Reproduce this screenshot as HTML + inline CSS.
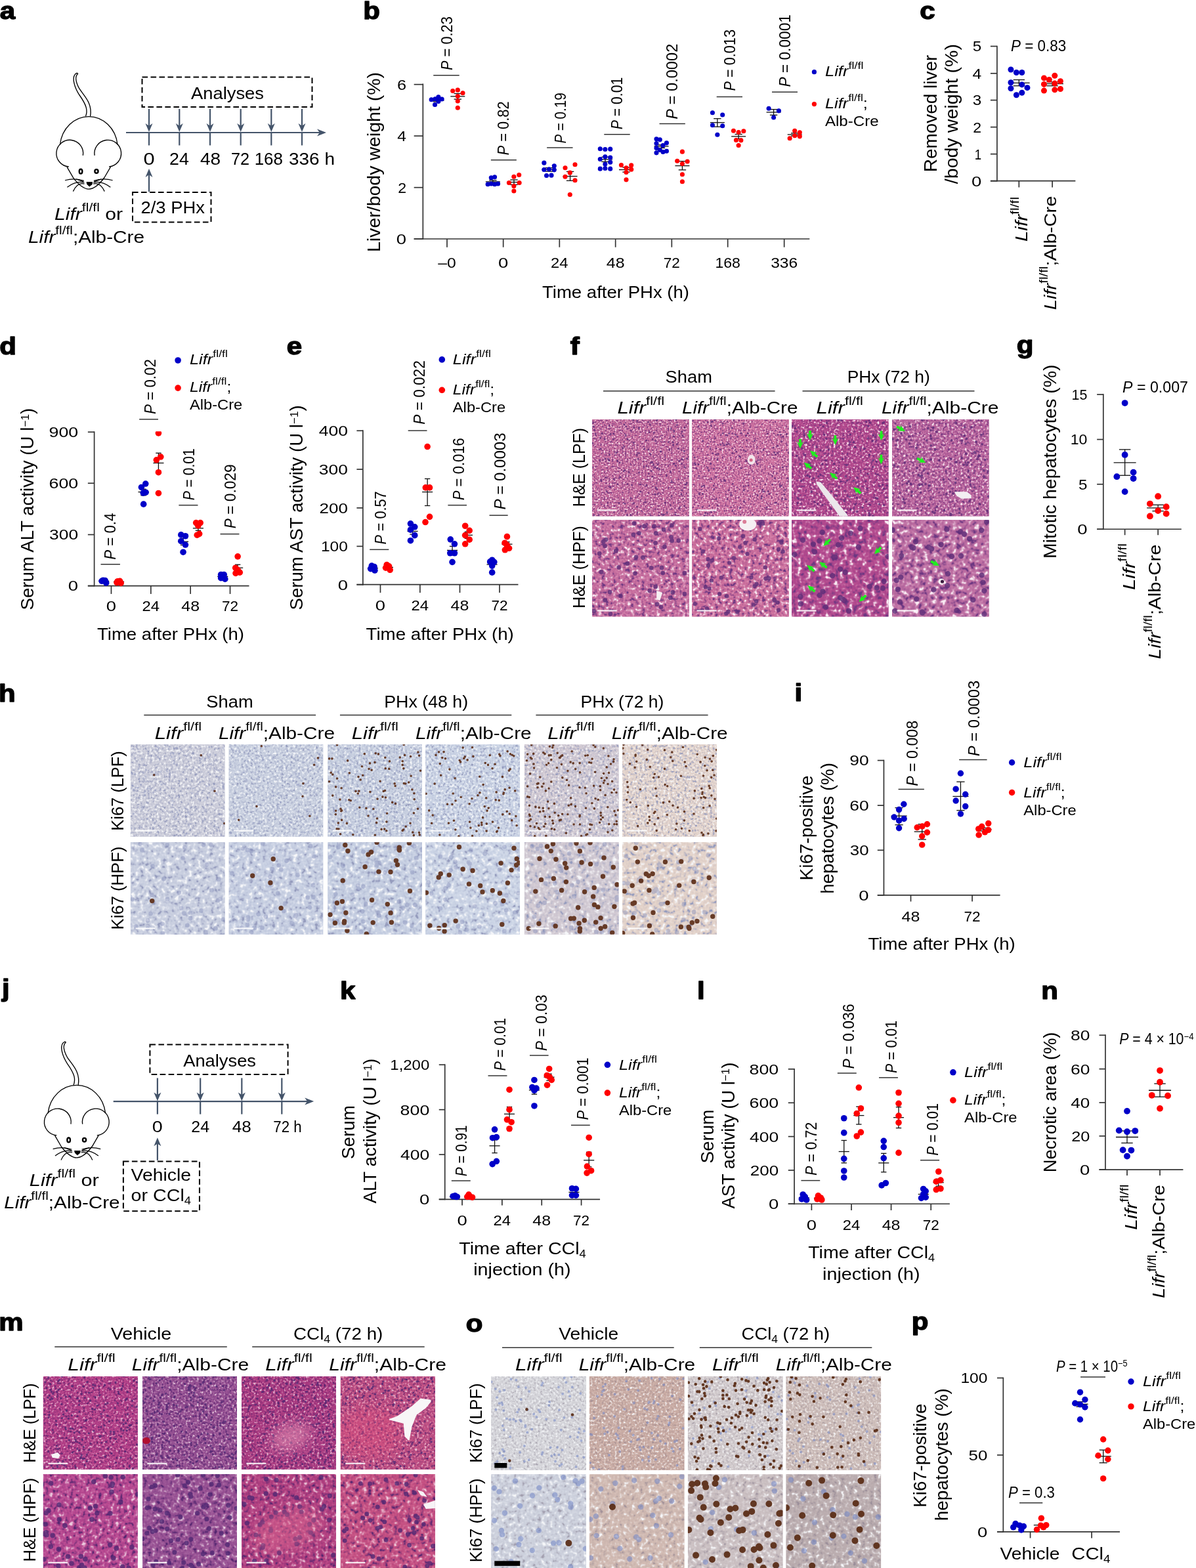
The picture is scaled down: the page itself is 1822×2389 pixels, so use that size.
<!DOCTYPE html>
<html><head><meta charset="utf-8"><title>Figure</title>
<style>
html,body{margin:0;padding:0;background:#fff;}
body{width:1822px;height:2389px;overflow:hidden;}
svg{display:block;font-family:'Liberation Sans', Arial, Helvetica, sans-serif;}
</style></head><body>
<svg width="1822" height="2389" viewBox="0 0 1822 2389">
<rect width="1822" height="2389" fill="#fff"/>
<defs><filter id="blur" x="-50%" y="-50%" width="200%" height="200%"><feGaussianBlur stdDeviation="9"/></filter><filter id="t1" x="0" y="0" width="1" height="1" color-interpolation-filters="sRGB"><feTurbulence type="fractalNoise" baseFrequency="0.4" numOctaves="2" seed="11"/><feColorMatrix type="matrix" values="1.9 0 0 0 -0.450 1.9 0 0 0 -0.450 1.9 0 0 0 -0.450 0 0 0 0 1"/><feComponentTransfer><feFuncR type="table" tableValues="0.431 0.587 0.725 0.776 0.801 0.878 0.980"/><feFuncG type="table" tableValues="0.216 0.306 0.386 0.416 0.477 0.671 0.925"/><feFuncB type="table" tableValues="0.510 0.552 0.590 0.604 0.646 0.780 0.957"/></feComponentTransfer></filter><clipPath id="c1"><rect x="902.20" y="639.00" width="147.60" height="147.60"/></clipPath><filter id="t2" x="0" y="0" width="1" height="1" color-interpolation-filters="sRGB"><feTurbulence type="fractalNoise" baseFrequency="0.4" numOctaves="2" seed="12"/><feColorMatrix type="matrix" values="1.9 0 0 0 -0.450 1.9 0 0 0 -0.450 1.9 0 0 0 -0.450 0 0 0 0 1"/><feComponentTransfer><feFuncR type="table" tableValues="0.431 0.601 0.751 0.808 0.829 0.894 0.980"/><feFuncG type="table" tableValues="0.216 0.316 0.406 0.439 0.498 0.682 0.925"/><feFuncB type="table" tableValues="0.510 0.559 0.603 0.620 0.660 0.788 0.957"/></feComponentTransfer></filter><clipPath id="c2"><rect x="1054.20" y="639.00" width="147.60" height="147.60"/></clipPath><filter id="t3" x="0" y="0" width="1" height="1" color-interpolation-filters="sRGB"><feTurbulence type="fractalNoise" baseFrequency="0.3" numOctaves="2" seed="13"/><feColorMatrix type="matrix" values="1.9 0 0 0 -0.450 1.9 0 0 0 -0.450 1.9 0 0 0 -0.450 0 0 0 0 1"/><feComponentTransfer><feFuncR type="table" tableValues="0.431 0.555 0.665 0.706 0.739 0.843 0.980"/><feFuncG type="table" tableValues="0.216 0.246 0.272 0.282 0.360 0.604 0.925"/><feFuncB type="table" tableValues="0.510 0.527 0.543 0.549 0.598 0.753 0.957"/></feComponentTransfer></filter><clipPath id="c3"><rect x="1206.00" y="639.00" width="147.60" height="147.60"/></clipPath><filter id="t4" x="0" y="0" width="1" height="1" color-interpolation-filters="sRGB"><feTurbulence type="fractalNoise" baseFrequency="0.3" numOctaves="2" seed="14"/><feColorMatrix type="matrix" values="1.9 0 0 0 -0.450 1.9 0 0 0 -0.450 1.9 0 0 0 -0.450 0 0 0 0 1"/><feComponentTransfer><feFuncR type="table" tableValues="0.431 0.565 0.685 0.729 0.760 0.855 0.980"/><feFuncG type="table" tableValues="0.216 0.295 0.366 0.392 0.456 0.659 0.925"/><feFuncB type="table" tableValues="0.510 0.556 0.596 0.612 0.653 0.784 0.957"/></feComponentTransfer></filter><clipPath id="c4"><rect x="1359.00" y="639.00" width="147.60" height="147.60"/></clipPath><filter id="t5" x="0" y="0" width="1" height="1" color-interpolation-filters="sRGB"><feTurbulence type="fractalNoise" baseFrequency="0.18" numOctaves="2" seed="15"/><feColorMatrix type="matrix" values="1.9 0 0 0 -0.450 1.9 0 0 0 -0.450 1.9 0 0 0 -0.450 0 0 0 0 1"/><feComponentTransfer><feFuncR type="table" tableValues="0.431 0.590 0.731 0.784 0.808 0.882 0.980"/><feFuncG type="table" tableValues="0.216 0.313 0.399 0.431 0.491 0.678 0.925"/><feFuncB type="table" tableValues="0.510 0.559 0.603 0.620 0.660 0.788 0.957"/></feComponentTransfer></filter><clipPath id="c5"><rect x="902.20" y="792.00" width="147.60" height="147.60"/></clipPath><filter id="t6" x="0" y="0" width="1" height="1" color-interpolation-filters="sRGB"><feTurbulence type="fractalNoise" baseFrequency="0.18" numOctaves="2" seed="16"/><feColorMatrix type="matrix" values="1.9 0 0 0 -0.450 1.9 0 0 0 -0.450 1.9 0 0 0 -0.450 0 0 0 0 1"/><feComponentTransfer><feFuncR type="table" tableValues="0.431 0.597 0.745 0.800 0.822 0.890 0.980"/><feFuncG type="table" tableValues="0.216 0.313 0.399 0.431 0.491 0.678 0.925"/><feFuncB type="table" tableValues="0.510 0.556 0.596 0.612 0.653 0.784 0.957"/></feComponentTransfer></filter><clipPath id="c6"><rect x="1054.20" y="792.00" width="147.60" height="147.60"/></clipPath><filter id="t7" x="0" y="0" width="1" height="1" color-interpolation-filters="sRGB"><feTurbulence type="fractalNoise" baseFrequency="0.14" numOctaves="2" seed="17"/><feColorMatrix type="matrix" values="1.9 0 0 0 -0.450 1.9 0 0 0 -0.450 1.9 0 0 0 -0.450 0 0 0 0 1"/><feComponentTransfer><feFuncR type="table" tableValues="0.431 0.555 0.665 0.706 0.739 0.843 0.980"/><feFuncG type="table" tableValues="0.216 0.249 0.279 0.290 0.366 0.608 0.925"/><feFuncB type="table" tableValues="0.510 0.531 0.550 0.557 0.605 0.757 0.957"/></feComponentTransfer></filter><clipPath id="c7"><rect x="1206.00" y="792.00" width="147.60" height="147.60"/></clipPath><filter id="t8" x="0" y="0" width="1" height="1" color-interpolation-filters="sRGB"><feTurbulence type="fractalNoise" baseFrequency="0.14" numOctaves="2" seed="18"/><feColorMatrix type="matrix" values="1.9 0 0 0 -0.450 1.9 0 0 0 -0.450 1.9 0 0 0 -0.450 0 0 0 0 1"/><feComponentTransfer><feFuncR type="table" tableValues="0.431 0.573 0.698 0.745 0.773 0.863 0.980"/><feFuncG type="table" tableValues="0.216 0.313 0.399 0.431 0.491 0.678 0.925"/><feFuncB type="table" tableValues="0.510 0.566 0.616 0.635 0.674 0.796 0.957"/></feComponentTransfer></filter><clipPath id="c8"><rect x="1359.00" y="792.00" width="147.60" height="147.60"/></clipPath><filter id="t9" x="0" y="0" width="1" height="1" color-interpolation-filters="sRGB"><feTurbulence type="fractalNoise" baseFrequency="0.28" numOctaves="2" seed="41"/><feColorMatrix type="matrix" values="1.9 0 0 0 -0.450 1.9 0 0 0 -0.450 1.9 0 0 0 -0.450 0 0 0 0 1"/><feComponentTransfer><feFuncR type="table" tableValues="0.588 0.715 0.779 0.800 0.825 0.891 0.965"/><feFuncG type="table" tableValues="0.612 0.727 0.785 0.804 0.829 0.895 0.969"/><feFuncB type="table" tableValues="0.745 0.811 0.844 0.855 0.874 0.924 0.980"/></feComponentTransfer></filter><clipPath id="c9"><rect x="198.90" y="1134.30" width="143.70" height="140.50"/></clipPath><filter id="t10" x="0" y="0" width="1" height="1" color-interpolation-filters="sRGB"><feTurbulence type="fractalNoise" baseFrequency="0.28" numOctaves="2" seed="42"/><feColorMatrix type="matrix" values="1.9 0 0 0 -0.450 1.9 0 0 0 -0.450 1.9 0 0 0 -0.450 0 0 0 0 1"/><feComponentTransfer><feFuncR type="table" tableValues="0.588 0.708 0.768 0.788 0.815 0.885 0.965"/><feFuncG type="table" tableValues="0.612 0.734 0.795 0.816 0.839 0.900 0.969"/><feFuncB type="table" tableValues="0.745 0.825 0.865 0.878 0.894 0.935 0.980"/></feComponentTransfer></filter><clipPath id="c10"><rect x="348.60" y="1134.30" width="143.70" height="140.50"/></clipPath><filter id="t11" x="0" y="0" width="1" height="1" color-interpolation-filters="sRGB"><feTurbulence type="fractalNoise" baseFrequency="0.28" numOctaves="2" seed="43"/><feColorMatrix type="matrix" values="1.9 0 0 0 -0.450 1.9 0 0 0 -0.450 1.9 0 0 0 -0.450 0 0 0 0 1"/><feComponentTransfer><feFuncR type="table" tableValues="0.588 0.704 0.761 0.780 0.808 0.882 0.965"/><feFuncG type="table" tableValues="0.612 0.732 0.792 0.812 0.835 0.898 0.969"/><feFuncB type="table" tableValues="0.745 0.825 0.865 0.878 0.894 0.935 0.980"/></feComponentTransfer></filter><clipPath id="c11"><rect x="499.30" y="1134.30" width="143.70" height="140.50"/></clipPath><filter id="t12" x="0" y="0" width="1" height="1" color-interpolation-filters="sRGB"><feTurbulence type="fractalNoise" baseFrequency="0.28" numOctaves="2" seed="44"/><feColorMatrix type="matrix" values="1.9 0 0 0 -0.450 1.9 0 0 0 -0.450 1.9 0 0 0 -0.450 0 0 0 0 1"/><feComponentTransfer><feFuncR type="table" tableValues="0.588 0.713 0.775 0.796 0.821 0.889 0.965"/><feFuncG type="table" tableValues="0.612 0.744 0.809 0.831 0.852 0.907 0.969"/><feFuncB type="table" tableValues="0.745 0.837 0.883 0.898 0.910 0.943 0.980"/></feComponentTransfer></filter><clipPath id="c12"><rect x="648.20" y="1134.30" width="143.70" height="140.50"/></clipPath><filter id="t13" x="0" y="0" width="1" height="1" color-interpolation-filters="sRGB"><feTurbulence type="fractalNoise" baseFrequency="0.28" numOctaves="2" seed="45"/><feColorMatrix type="matrix" values="1.9 0 0 0 -0.450 1.9 0 0 0 -0.450 1.9 0 0 0 -0.450 0 0 0 0 1"/><feComponentTransfer><feFuncR type="table" tableValues="0.588 0.727 0.796 0.820 0.841 0.899 0.965"/><feFuncG type="table" tableValues="0.612 0.718 0.771 0.788 0.815 0.887 0.969"/><feFuncB type="table" tableValues="0.745 0.792 0.816 0.824 0.847 0.910 0.980"/></feComponentTransfer></filter><clipPath id="c13"><rect x="798.90" y="1134.30" width="143.70" height="140.50"/></clipPath><filter id="t14" x="0" y="0" width="1" height="1" color-interpolation-filters="sRGB"><feTurbulence type="fractalNoise" baseFrequency="0.28" numOctaves="2" seed="46"/><feColorMatrix type="matrix" values="1.9 0 0 0 -0.450 1.9 0 0 0 -0.450 1.9 0 0 0 -0.450 0 0 0 0 1"/><feComponentTransfer><feFuncR type="table" tableValues="0.588 0.769 0.860 0.890 0.901 0.931 0.965"/><feFuncG type="table" tableValues="0.612 0.741 0.806 0.827 0.849 0.905 0.969"/><feFuncB type="table" tableValues="0.745 0.776 0.791 0.796 0.824 0.897 0.980"/></feComponentTransfer></filter><clipPath id="c14"><rect x="948.20" y="1134.30" width="143.70" height="140.50"/></clipPath><filter id="t15" x="0" y="0" width="1" height="1" color-interpolation-filters="sRGB"><feTurbulence type="fractalNoise" baseFrequency="0.15" numOctaves="2" seed="47"/><feColorMatrix type="matrix" values="1.9 0 0 0 -0.450 1.9 0 0 0 -0.450 1.9 0 0 0 -0.450 0 0 0 0 1"/><feComponentTransfer><feFuncR type="table" tableValues="0.588 0.708 0.768 0.788 0.815 0.885 0.965"/><feFuncG type="table" tableValues="0.612 0.732 0.792 0.812 0.835 0.898 0.969"/><feFuncB type="table" tableValues="0.745 0.825 0.865 0.878 0.894 0.935 0.980"/></feComponentTransfer></filter><clipPath id="c15"><rect x="198.90" y="1283.20" width="143.70" height="140.50"/></clipPath><filter id="t16" x="0" y="0" width="1" height="1" color-interpolation-filters="sRGB"><feTurbulence type="fractalNoise" baseFrequency="0.15" numOctaves="2" seed="48"/><feColorMatrix type="matrix" values="1.9 0 0 0 -0.450 1.9 0 0 0 -0.450 1.9 0 0 0 -0.450 0 0 0 0 1"/><feComponentTransfer><feFuncR type="table" tableValues="0.588 0.704 0.761 0.780 0.808 0.882 0.965"/><feFuncG type="table" tableValues="0.612 0.732 0.792 0.812 0.835 0.898 0.969"/><feFuncB type="table" tableValues="0.745 0.830 0.872 0.886 0.900 0.938 0.980"/></feComponentTransfer></filter><clipPath id="c16"><rect x="348.60" y="1283.20" width="143.70" height="140.50"/></clipPath><filter id="t17" x="0" y="0" width="1" height="1" color-interpolation-filters="sRGB"><feTurbulence type="fractalNoise" baseFrequency="0.15" numOctaves="2" seed="49"/><feColorMatrix type="matrix" values="1.9 0 0 0 -0.450 1.9 0 0 0 -0.450 1.9 0 0 0 -0.450 0 0 0 0 1"/><feComponentTransfer><feFuncR type="table" tableValues="0.588 0.701 0.758 0.776 0.805 0.880 0.965"/><feFuncG type="table" tableValues="0.612 0.732 0.792 0.812 0.835 0.898 0.969"/><feFuncB type="table" tableValues="0.745 0.830 0.872 0.886 0.900 0.938 0.980"/></feComponentTransfer></filter><clipPath id="c17"><rect x="499.30" y="1283.20" width="143.70" height="140.50"/></clipPath><filter id="t18" x="0" y="0" width="1" height="1" color-interpolation-filters="sRGB"><feTurbulence type="fractalNoise" baseFrequency="0.15" numOctaves="2" seed="50"/><feColorMatrix type="matrix" values="1.9 0 0 0 -0.450 1.9 0 0 0 -0.450 1.9 0 0 0 -0.450 0 0 0 0 1"/><feComponentTransfer><feFuncR type="table" tableValues="0.588 0.715 0.779 0.800 0.825 0.891 0.965"/><feFuncG type="table" tableValues="0.612 0.746 0.813 0.835 0.855 0.909 0.969"/><feFuncB type="table" tableValues="0.745 0.839 0.886 0.902 0.914 0.945 0.980"/></feComponentTransfer></filter><clipPath id="c18"><rect x="648.20" y="1283.20" width="143.70" height="140.50"/></clipPath><filter id="t19" x="0" y="0" width="1" height="1" color-interpolation-filters="sRGB"><feTurbulence type="fractalNoise" baseFrequency="0.15" numOctaves="2" seed="51"/><feColorMatrix type="matrix" values="1.9 0 0 0 -0.450 1.9 0 0 0 -0.450 1.9 0 0 0 -0.450 0 0 0 0 1"/><feComponentTransfer><feFuncR type="table" tableValues="0.588 0.727 0.796 0.820 0.841 0.899 0.965"/><feFuncG type="table" tableValues="0.612 0.718 0.771 0.788 0.815 0.887 0.969"/><feFuncB type="table" tableValues="0.745 0.792 0.816 0.824 0.847 0.910 0.980"/></feComponentTransfer></filter><clipPath id="c19"><rect x="798.90" y="1283.20" width="143.70" height="140.50"/></clipPath><filter id="t20" x="0" y="0" width="1" height="1" color-interpolation-filters="sRGB"><feTurbulence type="fractalNoise" baseFrequency="0.15" numOctaves="2" seed="52"/><feColorMatrix type="matrix" values="1.9 0 0 0 -0.450 1.9 0 0 0 -0.450 1.9 0 0 0 -0.450 0 0 0 0 1"/><feComponentTransfer><feFuncR type="table" tableValues="0.588 0.769 0.860 0.890 0.901 0.931 0.965"/><feFuncG type="table" tableValues="0.612 0.739 0.802 0.824 0.845 0.903 0.969"/><feFuncB type="table" tableValues="0.745 0.771 0.784 0.788 0.817 0.894 0.980"/></feComponentTransfer></filter><clipPath id="c20"><rect x="948.20" y="1283.20" width="143.70" height="140.50"/></clipPath><filter id="t21" x="0" y="0" width="1" height="1" color-interpolation-filters="sRGB"><feTurbulence type="fractalNoise" baseFrequency="0.3" numOctaves="2" seed="71"/><feColorMatrix type="matrix" values="1.7 0 0 0 -0.350 1.7 0 0 0 -0.350 1.7 0 0 0 -0.350 0 0 0 0 1"/><feComponentTransfer><feFuncR type="table" tableValues="0.329 0.499 0.649 0.706 0.732 0.816 0.925"/><feFuncG type="table" tableValues="0.149 0.191 0.229 0.243 0.309 0.516 0.789"/><feFuncB type="table" tableValues="0.439 0.478 0.513 0.525 0.567 0.698 0.871"/></feComponentTransfer></filter><clipPath id="c21"><rect x="65.80" y="2097.10" width="144.10" height="141.80"/></clipPath><filter id="t22" x="0" y="0" width="1" height="1" color-interpolation-filters="sRGB"><feTurbulence type="fractalNoise" baseFrequency="0.3" numOctaves="2" seed="72"/><feColorMatrix type="matrix" values="1.7 0 0 0 -0.350 1.7 0 0 0 -0.350 1.7 0 0 0 -0.350 0 0 0 0 1"/><feComponentTransfer><feFuncR type="table" tableValues="0.329 0.446 0.549 0.588 0.626 0.745 0.902"/><feFuncG type="table" tableValues="0.149 0.223 0.289 0.314 0.372 0.558 0.803"/><feFuncB type="table" tableValues="0.439 0.499 0.553 0.573 0.609 0.726 0.880"/></feComponentTransfer></filter><clipPath id="c22"><rect x="217.00" y="2097.10" width="144.10" height="141.80"/></clipPath><filter id="t23" x="0" y="0" width="1" height="1" color-interpolation-filters="sRGB"><feTurbulence type="fractalNoise" baseFrequency="0.3" numOctaves="2" seed="73"/><feColorMatrix type="matrix" values="1.7 0 0 0 -0.350 1.7 0 0 0 -0.350 1.7 0 0 0 -0.350 0 0 0 0 1"/><feComponentTransfer><feFuncR type="table" tableValues="0.329 0.483 0.619 0.671 0.700 0.795 0.918"/><feFuncG type="table" tableValues="0.149 0.184 0.216 0.227 0.294 0.507 0.786"/><feFuncB type="table" tableValues="0.439 0.467 0.493 0.502 0.546 0.684 0.866"/></feComponentTransfer></filter><clipPath id="c23"><rect x="367.90" y="2097.10" width="144.10" height="141.80"/></clipPath><filter id="t24" x="0" y="0" width="1" height="1" color-interpolation-filters="sRGB"><feTurbulence type="fractalNoise" baseFrequency="0.28" numOctaves="2" seed="74"/><feColorMatrix type="matrix" values="1.7 0 0 0 -0.350 1.7 0 0 0 -0.350 1.7 0 0 0 -0.350 0 0 0 0 1"/><feComponentTransfer><feFuncR type="table" tableValues="0.329 0.520 0.689 0.753 0.775 0.844 0.935"/><feFuncG type="table" tableValues="0.149 0.220 0.282 0.306 0.365 0.554 0.802"/><feFuncB type="table" tableValues="0.439 0.471 0.499 0.510 0.553 0.689 0.867"/></feComponentTransfer></filter><clipPath id="c24"><rect x="518.80" y="2097.10" width="144.10" height="141.80"/></clipPath><filter id="t25" x="0" y="0" width="1" height="1" color-interpolation-filters="sRGB"><feTurbulence type="fractalNoise" baseFrequency="0.16" numOctaves="2" seed="75"/><feColorMatrix type="matrix" values="1.7 0 0 0 -0.350 1.7 0 0 0 -0.350 1.7 0 0 0 -0.350 0 0 0 0 1"/><feComponentTransfer><feFuncR type="table" tableValues="0.329 0.506 0.663 0.722 0.746 0.825 0.929"/><feFuncG type="table" tableValues="0.149 0.209 0.262 0.282 0.344 0.540 0.797"/><feFuncB type="table" tableValues="0.439 0.496 0.546 0.565 0.602 0.722 0.878"/></feComponentTransfer></filter><clipPath id="c25"><rect x="65.80" y="2246.00" width="144.10" height="144.00"/></clipPath><filter id="t26" x="0" y="0" width="1" height="1" color-interpolation-filters="sRGB"><feTurbulence type="fractalNoise" baseFrequency="0.16" numOctaves="2" seed="76"/><feColorMatrix type="matrix" values="1.7 0 0 0 -0.350 1.7 0 0 0 -0.350 1.7 0 0 0 -0.350 0 0 0 0 1"/><feComponentTransfer><feFuncR type="table" tableValues="0.329 0.451 0.559 0.600 0.637 0.752 0.904"/><feFuncG type="table" tableValues="0.149 0.227 0.296 0.322 0.380 0.563 0.805"/><feFuncB type="table" tableValues="0.439 0.503 0.559 0.580 0.617 0.731 0.882"/></feComponentTransfer></filter><clipPath id="c26"><rect x="217.00" y="2246.00" width="144.10" height="144.00"/></clipPath><filter id="t27" x="0" y="0" width="1" height="1" color-interpolation-filters="sRGB"><feTurbulence type="fractalNoise" baseFrequency="0.16" numOctaves="2" seed="77"/><feColorMatrix type="matrix" values="1.7 0 0 0 -0.350 1.7 0 0 0 -0.350 1.7 0 0 0 -0.350 0 0 0 0 1"/><feComponentTransfer><feFuncR type="table" tableValues="0.329 0.497 0.646 0.702 0.729 0.813 0.925"/><feFuncG type="table" tableValues="0.149 0.195 0.236 0.251 0.316 0.521 0.791"/><feFuncB type="table" tableValues="0.439 0.467 0.493 0.502 0.546 0.684 0.866"/></feComponentTransfer></filter><clipPath id="c27"><rect x="367.90" y="2246.00" width="144.10" height="144.00"/></clipPath><filter id="t28" x="0" y="0" width="1" height="1" color-interpolation-filters="sRGB"><feTurbulence type="fractalNoise" baseFrequency="0.15" numOctaves="2" seed="78"/><feColorMatrix type="matrix" values="1.7 0 0 0 -0.350 1.7 0 0 0 -0.350 1.7 0 0 0 -0.350 0 0 0 0 1"/><feComponentTransfer><feFuncR type="table" tableValues="0.329 0.531 0.709 0.776 0.796 0.858 0.940"/><feFuncG type="table" tableValues="0.149 0.223 0.289 0.314 0.372 0.558 0.803"/><feFuncB type="table" tableValues="0.439 0.471 0.499 0.510 0.553 0.689 0.867"/></feComponentTransfer></filter><clipPath id="c28"><rect x="518.80" y="2246.00" width="144.10" height="144.00"/></clipPath><filter id="t29" x="0" y="0" width="1" height="1" color-interpolation-filters="sRGB"><feTurbulence type="fractalNoise" baseFrequency="0.3" numOctaves="2" seed="101"/><feColorMatrix type="matrix" values="1.7 0 0 0 -0.350 1.7 0 0 0 -0.350 1.7 0 0 0 -0.350 0 0 0 0 1"/><feComponentTransfer><feFuncR type="table" tableValues="0.653 0.762 0.817 0.835 0.855 0.906 0.965"/><feFuncG type="table" tableValues="0.633 0.755 0.815 0.835 0.855 0.909 0.969"/><feFuncB type="table" tableValues="0.682 0.786 0.838 0.855 0.874 0.924 0.980"/></feComponentTransfer></filter><clipPath id="c29"><rect x="748.30" y="2097.10" width="144.60" height="142.90"/></clipPath><filter id="t30" x="0" y="0" width="1" height="1" color-interpolation-filters="sRGB"><feTurbulence type="fractalNoise" baseFrequency="0.3" numOctaves="2" seed="102"/><feColorMatrix type="matrix" values="1.7 0 0 0 -0.350 1.7 0 0 0 -0.350 1.7 0 0 0 -0.350 0 0 0 0 1"/><feComponentTransfer><feFuncR type="table" tableValues="0.631 0.728 0.776 0.792 0.818 0.887 0.965"/><feFuncG type="table" tableValues="0.553 0.626 0.662 0.675 0.719 0.836 0.969"/><feFuncB type="table" tableValues="0.576 0.616 0.636 0.643 0.694 0.829 0.980"/></feComponentTransfer></filter><clipPath id="c30"><rect x="897.90" y="2097.10" width="144.60" height="142.90"/></clipPath><filter id="t31" x="0" y="0" width="1" height="1" color-interpolation-filters="sRGB"><feTurbulence type="fractalNoise" baseFrequency="0.3" numOctaves="2" seed="103"/><feColorMatrix type="matrix" values="1.7 0 0 0 -0.350 1.7 0 0 0 -0.350 1.7 0 0 0 -0.350 0 0 0 0 1"/><feComponentTransfer><feFuncR type="table" tableValues="0.647 0.753 0.806 0.824 0.845 0.901 0.965"/><feFuncG type="table" tableValues="0.614 0.723 0.778 0.796 0.822 0.891 0.969"/><feFuncB type="table" tableValues="0.657 0.745 0.789 0.804 0.830 0.901 0.980"/></feComponentTransfer></filter><clipPath id="c31"><rect x="1047.90" y="2097.10" width="144.60" height="142.90"/></clipPath><filter id="t32" x="0" y="0" width="1" height="1" color-interpolation-filters="sRGB"><feTurbulence type="fractalNoise" baseFrequency="0.3" numOctaves="2" seed="104"/><feColorMatrix type="matrix" values="1.7 0 0 0 -0.350 1.7 0 0 0 -0.350 1.7 0 0 0 -0.350 0 0 0 0 1"/><feComponentTransfer><feFuncR type="table" tableValues="0.639 0.740 0.791 0.808 0.831 0.894 0.965"/><feFuncG type="table" tableValues="0.588 0.682 0.729 0.745 0.779 0.868 0.969"/><feFuncB type="table" tableValues="0.620 0.685 0.718 0.729 0.767 0.867 0.980"/></feComponentTransfer></filter><clipPath id="c32"><rect x="1197.50" y="2097.10" width="144.60" height="142.90"/></clipPath><filter id="t33" x="0" y="0" width="1" height="1" color-interpolation-filters="sRGB"><feTurbulence type="fractalNoise" baseFrequency="0.16" numOctaves="2" seed="105"/><feColorMatrix type="matrix" values="1.7 0 0 0 -0.350 1.7 0 0 0 -0.350 1.7 0 0 0 -0.350 0 0 0 0 1"/><feComponentTransfer><feFuncR type="table" tableValues="0.637 0.737 0.787 0.804 0.828 0.892 0.965"/><feFuncG type="table" tableValues="0.625 0.742 0.800 0.820 0.842 0.902 0.969"/><feFuncB type="table" tableValues="0.688 0.795 0.849 0.867 0.884 0.929 0.980"/></feComponentTransfer></filter><clipPath id="c33"><rect x="748.30" y="2246.30" width="144.60" height="143.00"/></clipPath><filter id="t34" x="0" y="0" width="1" height="1" color-interpolation-filters="sRGB"><feTurbulence type="fractalNoise" baseFrequency="0.16" numOctaves="2" seed="106"/><feColorMatrix type="matrix" values="1.7 0 0 0 -0.350 1.7 0 0 0 -0.350 1.7 0 0 0 -0.350 0 0 0 0 1"/><feComponentTransfer><feFuncR type="table" tableValues="0.645 0.750 0.802 0.820 0.841 0.899 0.965"/><feFuncG type="table" tableValues="0.580 0.670 0.715 0.729 0.765 0.861 0.969"/><feFuncB type="table" tableValues="0.604 0.660 0.689 0.698 0.740 0.853 0.980"/></feComponentTransfer></filter><clipPath id="c34"><rect x="897.90" y="2246.30" width="144.60" height="143.00"/></clipPath><filter id="t35" x="0" y="0" width="1" height="1" color-interpolation-filters="sRGB"><feTurbulence type="fractalNoise" baseFrequency="0.16" numOctaves="2" seed="107"/><feColorMatrix type="matrix" values="1.7 0 0 0 -0.350 1.7 0 0 0 -0.350 1.7 0 0 0 -0.350 0 0 0 0 1"/><feComponentTransfer><feFuncR type="table" tableValues="0.633 0.731 0.780 0.796 0.821 0.889 0.965"/><feFuncG type="table" tableValues="0.592 0.689 0.737 0.753 0.785 0.872 0.969"/><feFuncB type="table" tableValues="0.635 0.711 0.748 0.761 0.794 0.882 0.980"/></feComponentTransfer></filter><clipPath id="c35"><rect x="1047.90" y="2246.30" width="144.60" height="143.00"/></clipPath><filter id="t36" x="0" y="0" width="1" height="1" color-interpolation-filters="sRGB"><feTurbulence type="fractalNoise" baseFrequency="0.16" numOctaves="2" seed="108"/><feColorMatrix type="matrix" values="1.7 0 0 0 -0.350 1.7 0 0 0 -0.350 1.7 0 0 0 -0.350 0 0 0 0 1"/><feComponentTransfer><feFuncR type="table" tableValues="0.604 0.684 0.724 0.737 0.771 0.862 0.965"/><feFuncG type="table" tableValues="0.557 0.632 0.670 0.682 0.725 0.840 0.969"/><feFuncB type="table" tableValues="0.600 0.654 0.681 0.690 0.734 0.850 0.980"/></feComponentTransfer></filter><clipPath id="c36"><rect x="1197.50" y="2246.30" width="144.60" height="143.00"/></clipPath></defs>
<text x="-0.26" y="29.20" font-size="37.5" text-anchor="start" fill="#000" font-weight="bold" textLength="23.36" lengthAdjust="spacingAndGlyphs" stroke="#000" stroke-width="1.4" stroke-linejoin="round">a</text>
<g><path d="M130.48 177.33 C133.81 168.57 132.38 160.95 120.95 144.76 C113.33 133.33 109.52 119.05 114.29 113.33 C116.19 111.62 118.10 110.48 118.57 112.38 C114.29 116.19 115.24 124.76 120.95 135.24 C128.57 146.67 140.95 157.14 137.62 177.14" fill="#fff" stroke="#000" stroke-width="1.35" stroke-linejoin="round"/><path d="M91.43 220.48 C94.29 195.24 113.33 177.62 135.24 177.62 C157.14 177.62 176.19 195.24 179.05 220.48" fill="none" stroke="#000" stroke-width="1.35"/><path d="M126.38 236.86 A20.38 20.38 0 1 0 104.76 254.00" fill="none" stroke="#000" stroke-width="1.35"/><path d="M144.10 236.86 A20.38 20.38 0 1 1 166.19 254.00" fill="none" stroke="#000" stroke-width="1.35"/><path d="M101.90 254.10 L111.90 271.43 C117.14 278.10 125.71 288.10 135.24 288.10 C144.76 288.10 153.33 278.10 159.05 270.48 L168.57 254.10" fill="none" stroke="#000" stroke-width="1.35"/><ellipse cx="123.05" cy="261.14" rx="2.29" ry="3.43" fill="#fff" stroke="#000" stroke-width="2.4"/><ellipse cx="146.95" cy="260.95" rx="2.57" ry="2.86" fill="#fff" stroke="#000" stroke-width="2.4"/><path d="M131.90 277.62 L140.76 277.62 L140.19 280.95 L136.19 284.00 L132.86 280.95 Z" fill="#000" stroke="#000" stroke-width="0.8" stroke-linejoin="round"/><path d="M127.81 275.43 Q113.33 270.48 99.05 274.76" fill="none" stroke="#000" stroke-width="1.25"/><path d="M142.86 275.43 Q157.33 270.48 171.62 274.76" fill="none" stroke="#000" stroke-width="1.25"/><path d="M128.38 277.90 Q115.24 275.24 102.38 285.24" fill="none" stroke="#000" stroke-width="1.25"/><path d="M142.29 277.90 Q155.43 275.24 168.29 285.24" fill="none" stroke="#000" stroke-width="1.25"/><path d="M128.57 280.19 Q118.10 277.14 111.43 291.62" fill="none" stroke="#000" stroke-width="1.25"/><path d="M142.10 280.19 Q152.57 277.14 159.24 291.62" fill="none" stroke="#000" stroke-width="1.25"/><path d="M127.14 276.67 Q121.90 274.76 116.19 272.86" fill="none" stroke="#000" stroke-width="1.25"/><path d="M143.52 276.67 Q148.76 274.76 154.48 272.86" fill="none" stroke="#000" stroke-width="1.25"/></g>
<rect x="216.50" y="117.50" width="259.00" height="45.50" fill="none" stroke="#000" stroke-width="2.0" stroke-dasharray="8.6 4.4"/>
<text x="346.50" y="151.00" font-size="26" text-anchor="middle" fill="#000" textLength="111.00" lengthAdjust="spacingAndGlyphs" >Analyses</text>
<line x1="192.00" y1="202.00" x2="488.60" y2="202.00" stroke="#44546a" stroke-width="2.2" />
<path d="M497.00 202.00 L483.00 196.50 L486.92 202.00 L483.00 207.50 Z" fill="#44546a"/>
<line x1="227.00" y1="166.00" x2="227.00" y2="193.20" stroke="#44546a" stroke-width="2.2" />
<path d="M227.00 201.00 L221.50 188.00 L227.00 191.64 L232.50 188.00 Z" fill="#44546a"/>
<line x1="227.00" y1="202.00" x2="227.00" y2="221.50" stroke="#44546a" stroke-width="2.2" />
<line x1="273.30" y1="166.00" x2="273.30" y2="193.20" stroke="#44546a" stroke-width="2.2" />
<path d="M273.30 201.00 L267.80 188.00 L273.30 191.64 L278.80 188.00 Z" fill="#44546a"/>
<line x1="273.30" y1="202.00" x2="273.30" y2="221.50" stroke="#44546a" stroke-width="2.2" />
<line x1="320.00" y1="166.00" x2="320.00" y2="193.20" stroke="#44546a" stroke-width="2.2" />
<path d="M320.00 201.00 L314.50 188.00 L320.00 191.64 L325.50 188.00 Z" fill="#44546a"/>
<line x1="320.00" y1="202.00" x2="320.00" y2="221.50" stroke="#44546a" stroke-width="2.2" />
<line x1="366.70" y1="166.00" x2="366.70" y2="193.20" stroke="#44546a" stroke-width="2.2" />
<path d="M366.70 201.00 L361.20 188.00 L366.70 191.64 L372.20 188.00 Z" fill="#44546a"/>
<line x1="366.70" y1="202.00" x2="366.70" y2="221.50" stroke="#44546a" stroke-width="2.2" />
<line x1="413.30" y1="166.00" x2="413.30" y2="193.20" stroke="#44546a" stroke-width="2.2" />
<path d="M413.30 201.00 L407.80 188.00 L413.30 191.64 L418.80 188.00 Z" fill="#44546a"/>
<line x1="413.30" y1="202.00" x2="413.30" y2="221.50" stroke="#44546a" stroke-width="2.2" />
<line x1="460.00" y1="166.00" x2="460.00" y2="193.20" stroke="#44546a" stroke-width="2.2" />
<path d="M460.00 201.00 L454.50 188.00 L460.00 191.64 L465.50 188.00 Z" fill="#44546a"/>
<line x1="460.00" y1="202.00" x2="460.00" y2="221.50" stroke="#44546a" stroke-width="2.2" />
<text x="218.41" y="251.00" font-size="26" text-anchor="start" fill="#000" textLength="17.17" lengthAdjust="spacingAndGlyphs" >0</text>
<text x="258.09" y="251.00" font-size="26" text-anchor="start" fill="#000" textLength="29.81" lengthAdjust="spacingAndGlyphs" >24</text>
<text x="304.91" y="251.00" font-size="26" text-anchor="start" fill="#000" textLength="31.18" lengthAdjust="spacingAndGlyphs" >48</text>
<text x="351.92" y="251.00" font-size="26" text-anchor="start" fill="#000" textLength="28.16" lengthAdjust="spacingAndGlyphs" >72</text>
<text x="387.66" y="251.00" font-size="26" text-anchor="start" fill="#000" textLength="43.27" lengthAdjust="spacingAndGlyphs" >168</text>
<text x="440.00" y="251.00" font-size="26" text-anchor="start" fill="#000" textLength="70.00" lengthAdjust="spacingAndGlyphs" >336 h</text>
<line x1="227.00" y1="292.00" x2="227.00" y2="264.80" stroke="#44546a" stroke-width="2.2" />
<path d="M227.00 257.00 L221.50 270.00 L227.00 266.36 L232.50 270.00 Z" fill="#44546a"/>
<rect x="202.00" y="293.00" width="119.50" height="45.50" fill="none" stroke="#000" stroke-width="2.0" stroke-dasharray="8.6 4.4"/>
<text x="214.50" y="325.00" font-size="26" text-anchor="start" fill="#000" textLength="97.50" lengthAdjust="spacingAndGlyphs" >2/3 PHx</text>
<text x="83.00" y="334.50" font-size="26" text-anchor="start" fill="#000" textLength="104.00" lengthAdjust="spacingAndGlyphs" ><tspan font-style="italic">Lifr</tspan><tspan font-size="18.2" dy="-13.0">fl/fl</tspan><tspan dy="13.0"> or</tspan></text>
<text x="43.00" y="369.50" font-size="26" text-anchor="start" fill="#000" textLength="177.00" lengthAdjust="spacingAndGlyphs" ><tspan font-style="italic">Lifr</tspan><tspan font-size="18.2" dy="-13.0">fl/fl</tspan><tspan dy="13.0">;Alb-Cre</tspan></text>
<text x="553.27" y="29.20" font-size="37.5" text-anchor="start" fill="#000" font-weight="bold" textLength="25.66" lengthAdjust="spacingAndGlyphs" stroke="#000" stroke-width="1.4" stroke-linejoin="round">b</text>
<line x1="644.33" y1="127.50" x2="644.33" y2="364.83" stroke="#333" stroke-width="1.7" />
<line x1="630.67" y1="364.00" x2="1233.33" y2="364.00" stroke="#333" stroke-width="1.7" />
<line x1="630.67" y1="128.67" x2="644.33" y2="128.67" stroke="#333" stroke-width="1.7" />
<text x="604.93" y="136.54" font-size="22" text-anchor="start" fill="#000" textLength="14.07" lengthAdjust="spacingAndGlyphs" >6</text>
<line x1="630.67" y1="207.17" x2="644.33" y2="207.17" stroke="#333" stroke-width="1.7" />
<text x="605.30" y="215.04" font-size="22" text-anchor="start" fill="#000" textLength="13.70" lengthAdjust="spacingAndGlyphs" >4</text>
<line x1="630.67" y1="285.67" x2="644.33" y2="285.67" stroke="#333" stroke-width="1.7" />
<text x="606.15" y="293.54" font-size="22" text-anchor="start" fill="#000" textLength="12.85" lengthAdjust="spacingAndGlyphs" >2</text>
<line x1="630.67" y1="364.00" x2="644.33" y2="364.00" stroke="#333" stroke-width="1.7" />
<text x="603.71" y="371.88" font-size="22" text-anchor="start" fill="#000" textLength="15.29" lengthAdjust="spacingAndGlyphs" >0</text>
<line x1="681.00" y1="364.00" x2="681.00" y2="376.67" stroke="#333" stroke-width="1.7" />
<text x="667.23" y="408.33" font-size="22" text-anchor="start" fill="#000" textLength="27.53" lengthAdjust="spacingAndGlyphs" >–0</text>
<line x1="766.67" y1="364.00" x2="766.67" y2="376.67" stroke="#333" stroke-width="1.7" />
<text x="759.02" y="408.33" font-size="22" text-anchor="start" fill="#000" textLength="15.29" lengthAdjust="spacingAndGlyphs" >0</text>
<line x1="852.33" y1="364.00" x2="852.33" y2="376.67" stroke="#333" stroke-width="1.7" />
<text x="839.06" y="408.33" font-size="22" text-anchor="start" fill="#000" textLength="26.55" lengthAdjust="spacingAndGlyphs" >24</text>
<line x1="937.67" y1="364.00" x2="937.67" y2="376.67" stroke="#333" stroke-width="1.7" />
<text x="923.78" y="408.33" font-size="22" text-anchor="start" fill="#000" textLength="27.78" lengthAdjust="spacingAndGlyphs" >48</text>
<line x1="1023.33" y1="364.00" x2="1023.33" y2="376.67" stroke="#333" stroke-width="1.7" />
<text x="1010.79" y="408.33" font-size="22" text-anchor="start" fill="#000" textLength="25.08" lengthAdjust="spacingAndGlyphs" >72</text>
<line x1="1108.67" y1="364.00" x2="1108.67" y2="376.67" stroke="#333" stroke-width="1.7" />
<text x="1089.40" y="408.33" font-size="22" text-anchor="start" fill="#000" textLength="38.54" lengthAdjust="spacingAndGlyphs" >168</text>
<line x1="1194.67" y1="364.00" x2="1194.67" y2="376.67" stroke="#333" stroke-width="1.7" />
<text x="1174.17" y="408.33" font-size="22" text-anchor="start" fill="#000" textLength="40.99" lengthAdjust="spacingAndGlyphs" >336</text>
<text x="826.00" y="454.00" font-size="26" text-anchor="start" fill="#000" textLength="224.00" lengthAdjust="spacingAndGlyphs" >Time after PHx (h)</text>
<text font-size="27" text-anchor="start" fill="#000" textLength="274.00" lengthAdjust="spacingAndGlyphs" transform="translate(579.33 384.00) rotate(-90)" >Liver/body weight (%)</text>
<line x1="654.43" y1="153.14" x2="676.43" y2="153.14" stroke="#111" stroke-width="1.3" />
<line x1="659.73" y1="151.71" x2="671.13" y2="151.71" stroke="#111" stroke-width="1.3" />
<line x1="659.73" y1="154.86" x2="671.13" y2="154.86" stroke="#111" stroke-width="1.3" />
<line x1="665.43" y1="151.71" x2="665.43" y2="154.86" stroke="#111" stroke-width="1.3" />
<circle cx="657.14" cy="151.71" r="3.55" fill="#0000c8"/>
<circle cx="662.86" cy="150.71" r="3.55" fill="#0000c8"/>
<circle cx="667.86" cy="147.86" r="3.55" fill="#0000c8"/>
<circle cx="673.14" cy="151.00" r="3.55" fill="#0000c8"/>
<circle cx="667.86" cy="154.57" r="3.55" fill="#0000c8"/>
<circle cx="662.57" cy="159.57" r="3.55" fill="#0000c8"/>
<line x1="686.29" y1="146.86" x2="708.29" y2="146.86" stroke="#111" stroke-width="1.3" />
<line x1="691.59" y1="142.57" x2="702.99" y2="142.57" stroke="#111" stroke-width="1.3" />
<line x1="691.59" y1="151.14" x2="702.99" y2="151.14" stroke="#111" stroke-width="1.3" />
<line x1="697.29" y1="142.57" x2="697.29" y2="151.14" stroke="#111" stroke-width="1.3" />
<circle cx="689.71" cy="138.57" r="3.55" fill="#ff0000"/>
<circle cx="697.29" cy="137.14" r="3.55" fill="#ff0000"/>
<circle cx="705.00" cy="141.71" r="3.55" fill="#ff0000"/>
<circle cx="697.29" cy="146.43" r="3.55" fill="#ff0000"/>
<circle cx="697.29" cy="154.00" r="3.55" fill="#ff0000"/>
<circle cx="697.29" cy="164.29" r="3.55" fill="#ff0000"/>
<line x1="739.86" y1="276.86" x2="761.86" y2="276.86" stroke="#111" stroke-width="1.3" />
<line x1="745.16" y1="274.71" x2="756.56" y2="274.71" stroke="#111" stroke-width="1.3" />
<line x1="745.16" y1="278.57" x2="756.56" y2="278.57" stroke="#111" stroke-width="1.3" />
<line x1="750.86" y1="274.71" x2="750.86" y2="278.57" stroke="#111" stroke-width="1.3" />
<circle cx="743.14" cy="280.71" r="3.55" fill="#0000c8"/>
<circle cx="748.29" cy="280.00" r="3.55" fill="#0000c8"/>
<circle cx="753.57" cy="280.71" r="3.55" fill="#0000c8"/>
<circle cx="758.57" cy="280.00" r="3.55" fill="#0000c8"/>
<circle cx="748.29" cy="270.71" r="3.55" fill="#0000c8"/>
<circle cx="753.57" cy="269.71" r="3.55" fill="#0000c8"/>
<line x1="772.00" y1="277.57" x2="794.00" y2="277.57" stroke="#111" stroke-width="1.3" />
<line x1="777.30" y1="274.00" x2="788.70" y2="274.00" stroke="#111" stroke-width="1.3" />
<line x1="777.30" y1="281.43" x2="788.70" y2="281.43" stroke="#111" stroke-width="1.3" />
<line x1="783.00" y1="274.00" x2="783.00" y2="281.43" stroke="#111" stroke-width="1.3" />
<circle cx="775.43" cy="278.57" r="3.55" fill="#ff0000"/>
<circle cx="782.86" cy="269.29" r="3.55" fill="#ff0000"/>
<circle cx="790.71" cy="266.43" r="3.55" fill="#ff0000"/>
<circle cx="791.14" cy="278.57" r="3.55" fill="#ff0000"/>
<circle cx="782.86" cy="283.57" r="3.55" fill="#ff0000"/>
<circle cx="782.86" cy="291.00" r="3.55" fill="#ff0000"/>
<line x1="747.86" y1="243.71" x2="786.86" y2="243.71" stroke="#333" stroke-width="1.5" />
<text font-size="23" text-anchor="start" fill="#000" textLength="82.14" lengthAdjust="spacingAndGlyphs" transform="translate(774.57 236.43) rotate(-90)" ><tspan font-style="italic">P</tspan> = 0.82</text>
<line x1="825.57" y1="258.29" x2="847.57" y2="258.29" stroke="#111" stroke-width="1.3" />
<line x1="830.87" y1="255.71" x2="842.27" y2="255.71" stroke="#111" stroke-width="1.3" />
<line x1="830.87" y1="261.14" x2="842.27" y2="261.14" stroke="#111" stroke-width="1.3" />
<line x1="836.57" y1="255.71" x2="836.57" y2="261.14" stroke="#111" stroke-width="1.3" />
<circle cx="828.86" cy="248.14" r="3.55" fill="#0000c8"/>
<circle cx="844.29" cy="252.86" r="3.55" fill="#0000c8"/>
<circle cx="828.86" cy="258.57" r="3.55" fill="#0000c8"/>
<circle cx="836.43" cy="257.86" r="3.55" fill="#0000c8"/>
<circle cx="844.29" cy="258.86" r="3.55" fill="#0000c8"/>
<circle cx="832.57" cy="267.57" r="3.55" fill="#0000c8"/>
<circle cx="840.00" cy="267.14" r="3.55" fill="#0000c8"/>
<line x1="857.57" y1="268.57" x2="879.57" y2="268.57" stroke="#111" stroke-width="1.3" />
<line x1="862.87" y1="261.43" x2="874.27" y2="261.43" stroke="#111" stroke-width="1.3" />
<line x1="862.87" y1="275.29" x2="874.27" y2="275.29" stroke="#111" stroke-width="1.3" />
<line x1="868.57" y1="261.43" x2="868.57" y2="275.29" stroke="#111" stroke-width="1.3" />
<circle cx="876.00" cy="250.71" r="3.55" fill="#ff0000"/>
<circle cx="861.00" cy="255.71" r="3.55" fill="#ff0000"/>
<circle cx="868.29" cy="263.14" r="3.55" fill="#ff0000"/>
<circle cx="861.00" cy="269.29" r="3.55" fill="#ff0000"/>
<circle cx="876.00" cy="274.71" r="3.55" fill="#ff0000"/>
<circle cx="868.29" cy="296.43" r="3.55" fill="#ff0000"/>
<line x1="833.14" y1="225.00" x2="872.57" y2="225.00" stroke="#333" stroke-width="1.5" />
<text font-size="23" text-anchor="start" fill="#000" textLength="77.14" lengthAdjust="spacingAndGlyphs" transform="translate(861.86 218.57) rotate(-90)" ><tspan font-style="italic">P</tspan> = 0.19</text>
<line x1="660.22" y1="114.83" x2="699.71" y2="114.83" stroke="#333" stroke-width="1.5" />
<text font-size="23" text-anchor="start" fill="#000" textLength="81.69" lengthAdjust="spacingAndGlyphs" transform="translate(689.22 106.94) rotate(-90)" ><tspan font-style="italic">P</tspan> = 0.23</text>
<line x1="911.00" y1="242.86" x2="933.00" y2="242.86" stroke="#111" stroke-width="1.3" />
<line x1="916.30" y1="239.29" x2="927.70" y2="239.29" stroke="#111" stroke-width="1.3" />
<line x1="916.30" y1="246.43" x2="927.70" y2="246.43" stroke="#111" stroke-width="1.3" />
<line x1="922.00" y1="239.29" x2="922.00" y2="246.43" stroke="#111" stroke-width="1.3" />
<circle cx="914.29" cy="226.71" r="3.55" fill="#0000c8"/>
<circle cx="921.86" cy="227.57" r="3.55" fill="#0000c8"/>
<circle cx="929.71" cy="227.14" r="3.55" fill="#0000c8"/>
<circle cx="921.86" cy="238.86" r="3.55" fill="#0000c8"/>
<circle cx="929.71" cy="240.00" r="3.55" fill="#0000c8"/>
<circle cx="914.29" cy="242.43" r="3.55" fill="#0000c8"/>
<circle cx="929.71" cy="247.14" r="3.55" fill="#0000c8"/>
<circle cx="921.86" cy="250.00" r="3.55" fill="#0000c8"/>
<circle cx="914.29" cy="257.14" r="3.55" fill="#0000c8"/>
<circle cx="921.86" cy="256.43" r="3.55" fill="#0000c8"/>
<circle cx="929.71" cy="257.14" r="3.55" fill="#0000c8"/>
<line x1="943.00" y1="258.57" x2="965.00" y2="258.57" stroke="#111" stroke-width="1.3" />
<line x1="948.30" y1="255.00" x2="959.70" y2="255.00" stroke="#111" stroke-width="1.3" />
<line x1="948.30" y1="262.14" x2="959.70" y2="262.14" stroke="#111" stroke-width="1.3" />
<line x1="954.00" y1="255.00" x2="954.00" y2="262.14" stroke="#111" stroke-width="1.3" />
<circle cx="946.43" cy="251.43" r="3.55" fill="#ff0000"/>
<circle cx="961.71" cy="251.86" r="3.55" fill="#ff0000"/>
<circle cx="954.00" cy="255.71" r="3.55" fill="#ff0000"/>
<circle cx="961.71" cy="258.14" r="3.55" fill="#ff0000"/>
<circle cx="954.00" cy="262.43" r="3.55" fill="#ff0000"/>
<circle cx="954.00" cy="273.86" r="3.55" fill="#ff0000"/>
<line x1="920.29" y1="204.71" x2="959.71" y2="204.71" stroke="#333" stroke-width="1.5" />
<text font-size="23" text-anchor="start" fill="#000" textLength="79.29" lengthAdjust="spacingAndGlyphs" transform="translate(947.57 197.14) rotate(-90)" ><tspan font-style="italic">P</tspan> = 0.01</text>
<line x1="996.57" y1="222.86" x2="1018.57" y2="222.86" stroke="#111" stroke-width="1.3" />
<line x1="1001.87" y1="220.71" x2="1013.27" y2="220.71" stroke="#111" stroke-width="1.3" />
<line x1="1001.87" y1="225.43" x2="1013.27" y2="225.43" stroke="#111" stroke-width="1.3" />
<line x1="1007.57" y1="220.71" x2="1007.57" y2="225.43" stroke="#111" stroke-width="1.3" />
<circle cx="1000.00" cy="211.86" r="3.55" fill="#0000c8"/>
<circle cx="1005.29" cy="212.86" r="3.55" fill="#0000c8"/>
<circle cx="1015.43" cy="217.86" r="3.55" fill="#0000c8"/>
<circle cx="1000.00" cy="218.57" r="3.55" fill="#0000c8"/>
<circle cx="1010.00" cy="221.43" r="3.55" fill="#0000c8"/>
<circle cx="1000.00" cy="225.43" r="3.55" fill="#0000c8"/>
<circle cx="1005.29" cy="228.57" r="3.55" fill="#0000c8"/>
<circle cx="1015.43" cy="230.29" r="3.55" fill="#0000c8"/>
<circle cx="1010.00" cy="231.43" r="3.55" fill="#0000c8"/>
<circle cx="1000.00" cy="232.86" r="3.55" fill="#0000c8"/>
<line x1="1028.43" y1="252.57" x2="1050.43" y2="252.57" stroke="#111" stroke-width="1.3" />
<line x1="1033.73" y1="245.71" x2="1045.13" y2="245.71" stroke="#111" stroke-width="1.3" />
<line x1="1033.73" y1="258.86" x2="1045.13" y2="258.86" stroke="#111" stroke-width="1.3" />
<line x1="1039.43" y1="245.71" x2="1039.43" y2="258.86" stroke="#111" stroke-width="1.3" />
<circle cx="1039.43" cy="231.14" r="3.55" fill="#ff0000"/>
<circle cx="1031.71" cy="245.29" r="3.55" fill="#ff0000"/>
<circle cx="1047.14" cy="246.00" r="3.55" fill="#ff0000"/>
<circle cx="1039.43" cy="249.57" r="3.55" fill="#ff0000"/>
<circle cx="1039.43" cy="265.71" r="3.55" fill="#ff0000"/>
<circle cx="1039.43" cy="276.71" r="3.55" fill="#ff0000"/>
<line x1="1004.57" y1="188.57" x2="1043.86" y2="188.57" stroke="#333" stroke-width="1.5" />
<text font-size="23" text-anchor="start" fill="#000" textLength="115.00" lengthAdjust="spacingAndGlyphs" transform="translate(1031.71 181.71) rotate(-90)" ><tspan font-style="italic">P</tspan> = 0.0002</text>
<line x1="1081.86" y1="186.71" x2="1103.86" y2="186.71" stroke="#111" stroke-width="1.3" />
<line x1="1087.16" y1="180.71" x2="1098.56" y2="180.71" stroke="#111" stroke-width="1.3" />
<line x1="1087.16" y1="193.14" x2="1098.56" y2="193.14" stroke="#111" stroke-width="1.3" />
<line x1="1092.86" y1="180.71" x2="1092.86" y2="193.14" stroke="#111" stroke-width="1.3" />
<circle cx="1085.43" cy="171.71" r="3.55" fill="#0000c8"/>
<circle cx="1100.71" cy="175.00" r="3.55" fill="#0000c8"/>
<circle cx="1085.43" cy="190.71" r="3.55" fill="#0000c8"/>
<circle cx="1100.71" cy="191.71" r="3.55" fill="#0000c8"/>
<circle cx="1092.86" cy="205.29" r="3.55" fill="#0000c8"/>
<line x1="1114.14" y1="207.86" x2="1136.14" y2="207.86" stroke="#111" stroke-width="1.3" />
<line x1="1119.44" y1="204.57" x2="1130.84" y2="204.57" stroke="#111" stroke-width="1.3" />
<line x1="1119.44" y1="211.43" x2="1130.84" y2="211.43" stroke="#111" stroke-width="1.3" />
<line x1="1125.14" y1="204.57" x2="1125.14" y2="211.43" stroke="#111" stroke-width="1.3" />
<circle cx="1117.43" cy="199.29" r="3.55" fill="#ff0000"/>
<circle cx="1132.86" cy="199.71" r="3.55" fill="#ff0000"/>
<circle cx="1125.14" cy="201.43" r="3.55" fill="#ff0000"/>
<circle cx="1121.43" cy="213.57" r="3.55" fill="#ff0000"/>
<circle cx="1128.86" cy="213.86" r="3.55" fill="#ff0000"/>
<circle cx="1125.14" cy="221.43" r="3.55" fill="#ff0000"/>
<line x1="1091.71" y1="147.43" x2="1131.00" y2="147.43" stroke="#333" stroke-width="1.5" />
<text font-size="23" text-anchor="start" fill="#000" textLength="93.57" lengthAdjust="spacingAndGlyphs" transform="translate(1119.71 138.57) rotate(-90)" ><tspan font-style="italic">P</tspan> = 0.013</text>
<line x1="1167.57" y1="171.00" x2="1189.57" y2="171.00" stroke="#111" stroke-width="1.3" />
<line x1="1172.87" y1="166.71" x2="1184.27" y2="166.71" stroke="#111" stroke-width="1.3" />
<line x1="1172.87" y1="175.29" x2="1184.27" y2="175.29" stroke="#111" stroke-width="1.3" />
<line x1="1178.57" y1="166.71" x2="1178.57" y2="175.29" stroke="#111" stroke-width="1.3" />
<circle cx="1171.14" cy="165.29" r="3.55" fill="#0000c8"/>
<circle cx="1186.43" cy="168.86" r="3.55" fill="#0000c8"/>
<circle cx="1178.57" cy="179.00" r="3.55" fill="#0000c8"/>
<line x1="1199.71" y1="205.00" x2="1221.71" y2="205.00" stroke="#111" stroke-width="1.3" />
<line x1="1205.01" y1="202.86" x2="1216.41" y2="202.86" stroke="#111" stroke-width="1.3" />
<line x1="1205.01" y1="207.14" x2="1216.41" y2="207.14" stroke="#111" stroke-width="1.3" />
<line x1="1210.71" y1="202.86" x2="1210.71" y2="207.14" stroke="#111" stroke-width="1.3" />
<circle cx="1210.71" cy="199.29" r="3.55" fill="#ff0000"/>
<circle cx="1218.29" cy="201.71" r="3.55" fill="#ff0000"/>
<circle cx="1210.71" cy="206.71" r="3.55" fill="#ff0000"/>
<circle cx="1218.29" cy="207.86" r="3.55" fill="#ff0000"/>
<circle cx="1203.14" cy="210.71" r="3.55" fill="#ff0000"/>
<line x1="1176.00" y1="140.29" x2="1215.00" y2="140.29" stroke="#333" stroke-width="1.5" />
<text font-size="23" text-anchor="start" fill="#000" textLength="110.29" lengthAdjust="spacingAndGlyphs" transform="translate(1203.57 132.43) rotate(-90)" ><tspan font-style="italic">P</tspan> = 0.0001</text>
<circle cx="1240.40" cy="109.70" r="3.6" fill="#0000c8"/>
<circle cx="1240.40" cy="158.60" r="3.6" fill="#ff0000"/>
<text x="1256.90" y="116.40" font-size="22" text-anchor="start" fill="#000" textLength="58.50" lengthAdjust="spacingAndGlyphs" ><tspan font-style="italic">Lifr</tspan><tspan font-size="15.4" dy="-11.0">fl/fl</tspan></text>
<text x="1256.90" y="165.00" font-size="22" text-anchor="start" fill="#000" textLength="65.00" lengthAdjust="spacingAndGlyphs" ><tspan font-style="italic">Lifr</tspan><tspan font-size="15.4" dy="-11.0">fl/fl</tspan><tspan dy="11.0">;</tspan></text>
<text x="1256.90" y="191.70" font-size="22" text-anchor="start" fill="#000" textLength="81.70" lengthAdjust="spacingAndGlyphs" >Alb-Cre</text>
<text x="1401.32" y="28.70" font-size="37.5" text-anchor="start" fill="#000" font-weight="bold" textLength="23.36" lengthAdjust="spacingAndGlyphs" stroke="#000" stroke-width="1.4" stroke-linejoin="round">c</text>
<line x1="1518.91" y1="69.72" x2="1518.91" y2="276.51" stroke="#333" stroke-width="1.7" />
<line x1="1508.91" y1="275.72" x2="1638.35" y2="275.72" stroke="#333" stroke-width="1.7" />
<line x1="1508.91" y1="70.51" x2="1518.91" y2="70.51" stroke="#333" stroke-width="1.7" />
<text x="1481.77" y="78.38" font-size="22" text-anchor="start" fill="#000" textLength="13.46" lengthAdjust="spacingAndGlyphs" >5</text>
<line x1="1508.91" y1="111.81" x2="1518.91" y2="111.81" stroke="#333" stroke-width="1.7" />
<text x="1481.53" y="119.69" font-size="22" text-anchor="start" fill="#000" textLength="13.70" lengthAdjust="spacingAndGlyphs" >4</text>
<line x1="1508.91" y1="152.59" x2="1518.91" y2="152.59" stroke="#333" stroke-width="1.7" />
<text x="1481.77" y="160.47" font-size="22" text-anchor="start" fill="#000" textLength="13.46" lengthAdjust="spacingAndGlyphs" >3</text>
<line x1="1508.91" y1="193.63" x2="1518.91" y2="193.63" stroke="#333" stroke-width="1.7" />
<text x="1482.39" y="201.51" font-size="22" text-anchor="start" fill="#000" textLength="12.85" lengthAdjust="spacingAndGlyphs" >2</text>
<line x1="1508.91" y1="234.68" x2="1518.91" y2="234.68" stroke="#333" stroke-width="1.7" />
<text x="1484.83" y="242.55" font-size="22" text-anchor="start" fill="#000" textLength="10.40" lengthAdjust="spacingAndGlyphs" >1</text>
<line x1="1508.91" y1="275.72" x2="1518.91" y2="275.72" stroke="#333" stroke-width="1.7" />
<text x="1479.94" y="283.59" font-size="22" text-anchor="start" fill="#000" textLength="15.29" lengthAdjust="spacingAndGlyphs" >0</text>
<line x1="1552.32" y1="275.72" x2="1552.32" y2="285.45" stroke="#333" stroke-width="1.7" />
<line x1="1603.10" y1="275.72" x2="1603.10" y2="285.45" stroke="#333" stroke-width="1.7" />
<text x="1539.96" y="77.61" font-size="23" text-anchor="start" fill="#000" textLength="84.19" lengthAdjust="spacingAndGlyphs" ><tspan font-style="italic">P</tspan> = 0.83</text>
<line x1="1536.01" y1="126.28" x2="1568.63" y2="126.28" stroke="#111" stroke-width="1.3" />
<line x1="1543.64" y1="121.55" x2="1561.00" y2="121.55" stroke="#111" stroke-width="1.3" />
<line x1="1543.64" y1="130.76" x2="1561.00" y2="130.76" stroke="#111" stroke-width="1.3" />
<line x1="1552.32" y1="121.55" x2="1552.32" y2="130.76" stroke="#111" stroke-width="1.3" />
<circle cx="1539.96" cy="106.02" r="4.5" fill="#0000c8"/>
<circle cx="1548.38" cy="110.50" r="4.5" fill="#0000c8"/>
<circle cx="1556.80" cy="110.50" r="4.5" fill="#0000c8"/>
<circle cx="1539.96" cy="125.76" r="4.5" fill="#0000c8"/>
<circle cx="1556.80" cy="128.91" r="4.5" fill="#0000c8"/>
<circle cx="1539.96" cy="134.70" r="4.5" fill="#0000c8"/>
<circle cx="1564.95" cy="133.65" r="4.5" fill="#0000c8"/>
<circle cx="1556.80" cy="141.28" r="4.5" fill="#0000c8"/>
<circle cx="1548.38" cy="144.70" r="4.5" fill="#0000c8"/>
<line x1="1586.26" y1="127.60" x2="1619.94" y2="127.60" stroke="#111" stroke-width="1.3" />
<line x1="1594.42" y1="124.97" x2="1611.78" y2="124.97" stroke="#111" stroke-width="1.3" />
<line x1="1594.42" y1="130.76" x2="1611.78" y2="130.76" stroke="#111" stroke-width="1.3" />
<line x1="1603.10" y1="124.97" x2="1603.10" y2="130.76" stroke="#111" stroke-width="1.3" />
<circle cx="1590.47" cy="118.92" r="4.5" fill="#ff0000"/>
<circle cx="1606.78" cy="115.23" r="4.5" fill="#ff0000"/>
<circle cx="1598.36" cy="121.55" r="4.5" fill="#ff0000"/>
<circle cx="1615.46" cy="123.65" r="4.5" fill="#ff0000"/>
<circle cx="1590.47" cy="128.39" r="4.5" fill="#ff0000"/>
<circle cx="1606.78" cy="127.07" r="4.5" fill="#ff0000"/>
<circle cx="1615.46" cy="135.49" r="4.5" fill="#ff0000"/>
<circle cx="1590.47" cy="138.12" r="4.5" fill="#ff0000"/>
<circle cx="1606.78" cy="136.81" r="4.5" fill="#ff0000"/>
<text font-size="27" text-anchor="start" fill="#000" textLength="178.64" lengthAdjust="spacingAndGlyphs" transform="translate(1426.83 262.30) rotate(-90)" >Removed liver</text>
<text font-size="27" text-anchor="start" fill="#000" textLength="213.10" lengthAdjust="spacingAndGlyphs" transform="translate(1458.93 280.19) rotate(-90)" >/body weight (%)</text>
<text font-size="26" text-anchor="start" fill="#000" textLength="68.40" lengthAdjust="spacingAndGlyphs" transform="translate(1565.48 368.32) rotate(-90)" ><tspan font-style="italic">Lifr</tspan><tspan font-size="18.2" dy="-13.0">fl/fl</tspan></text>
<text font-size="26" text-anchor="start" fill="#000" textLength="173.64" lengthAdjust="spacingAndGlyphs" transform="translate(1609.41 472.24) rotate(-90)" ><tspan font-style="italic">Lifr</tspan><tspan font-size="18.2" dy="-13.0">fl/fl</tspan><tspan dy="13.0">;Alb-Cre</tspan></text>
<text x="-0.68" y="540.30" font-size="37.5" text-anchor="start" fill="#000" font-weight="bold" textLength="25.66" lengthAdjust="spacingAndGlyphs" stroke="#000" stroke-width="1.4" stroke-linejoin="round">d</text>
<line x1="143.62" y1="657.33" x2="143.62" y2="893.50" stroke="#333" stroke-width="1.7" />
<line x1="133.87" y1="892.57" x2="379.48" y2="892.57" stroke="#333" stroke-width="1.7" />
<line x1="133.87" y1="658.26" x2="143.62" y2="658.26" stroke="#333" stroke-width="1.7" />
<text x="74.51" y="666.14" font-size="22" text-anchor="start" fill="#000" textLength="44.66" lengthAdjust="spacingAndGlyphs" >900</text>
<line x1="133.87" y1="736.26" x2="143.62" y2="736.26" stroke="#333" stroke-width="1.7" />
<text x="74.51" y="744.14" font-size="22" text-anchor="start" fill="#000" textLength="44.66" lengthAdjust="spacingAndGlyphs" >600</text>
<line x1="133.87" y1="814.57" x2="143.62" y2="814.57" stroke="#333" stroke-width="1.7" />
<text x="75.12" y="822.45" font-size="22" text-anchor="start" fill="#000" textLength="44.05" lengthAdjust="spacingAndGlyphs" >300</text>
<line x1="133.87" y1="892.57" x2="143.62" y2="892.57" stroke="#333" stroke-width="1.7" />
<text x="103.87" y="900.45" font-size="22" text-anchor="start" fill="#000" textLength="15.29" lengthAdjust="spacingAndGlyphs" >0</text>
<line x1="169.46" y1="892.57" x2="169.46" y2="904.95" stroke="#333" stroke-width="1.7" />
<text x="161.82" y="930.80" font-size="22" text-anchor="start" fill="#000" textLength="15.29" lengthAdjust="spacingAndGlyphs" >0</text>
<line x1="229.82" y1="892.57" x2="229.82" y2="904.95" stroke="#333" stroke-width="1.7" />
<text x="216.55" y="930.80" font-size="22" text-anchor="start" fill="#000" textLength="26.55" lengthAdjust="spacingAndGlyphs" >24</text>
<line x1="290.18" y1="892.57" x2="290.18" y2="904.95" stroke="#333" stroke-width="1.7" />
<text x="276.29" y="930.80" font-size="22" text-anchor="start" fill="#000" textLength="27.78" lengthAdjust="spacingAndGlyphs" >48</text>
<line x1="350.54" y1="892.57" x2="350.54" y2="904.95" stroke="#333" stroke-width="1.7" />
<text x="338.00" y="930.80" font-size="22" text-anchor="start" fill="#000" textLength="25.08" lengthAdjust="spacingAndGlyphs" >72</text>
<text x="148.00" y="975.40" font-size="26" text-anchor="start" fill="#000" textLength="224.00" lengthAdjust="spacingAndGlyphs" >Time after PHx (h)</text>
<text font-size="27" text-anchor="start" fill="#000" textLength="307.70" lengthAdjust="spacingAndGlyphs" transform="translate(51.10 929.50) rotate(-90)" >Serum ALT activity (U l<tspan font-size="62%" dy="-0.45em">−1</tspan><tspan dy="0.28em">)</tspan></text>
<line x1="150.12" y1="885.30" x2="166.21" y2="885.30" stroke="#111" stroke-width="1.3" />
<circle cx="155.07" cy="885.30" r="4.8" fill="#0000c8"/>
<circle cx="160.18" cy="884.53" r="4.8" fill="#0000c8"/>
<circle cx="161.73" cy="888.08" r="4.8" fill="#0000c8"/>
<circle cx="157.08" cy="884.22" r="4.8" fill="#0000c8"/>
<line x1="173.02" y1="886.38" x2="189.12" y2="886.38" stroke="#111" stroke-width="1.3" />
<circle cx="177.98" cy="887.62" r="4.8" fill="#ff0000"/>
<circle cx="182.62" cy="885.30" r="4.8" fill="#ff0000"/>
<circle cx="184.17" cy="888.39" r="4.8" fill="#ff0000"/>
<circle cx="179.21" cy="885.76" r="4.8" fill="#ff0000"/>
<line x1="153.52" y1="859.76" x2="182.93" y2="859.76" stroke="#333" stroke-width="1.5" />
<text font-size="23" text-anchor="start" fill="#000" textLength="71.19" lengthAdjust="spacingAndGlyphs" transform="translate(175.66 852.80) rotate(-90)" ><tspan font-style="italic">P</tspan> = 0.4</text>
<line x1="210.48" y1="749.57" x2="226.57" y2="749.57" stroke="#111" stroke-width="1.3" />
<line x1="214.35" y1="745.24" x2="222.70" y2="745.24" stroke="#111" stroke-width="1.3" />
<line x1="214.35" y1="754.83" x2="222.70" y2="754.83" stroke="#111" stroke-width="1.3" />
<line x1="218.52" y1="745.24" x2="218.52" y2="754.83" stroke="#111" stroke-width="1.3" />
<circle cx="221.77" cy="737.04" r="4.8" fill="#0000c8"/>
<circle cx="215.43" cy="742.45" r="4.8" fill="#0000c8"/>
<circle cx="222.08" cy="750.19" r="4.8" fill="#0000c8"/>
<circle cx="218.21" cy="751.12" r="4.8" fill="#0000c8"/>
<circle cx="218.68" cy="768.14" r="4.8" fill="#0000c8"/>
<line x1="233.38" y1="705.46" x2="249.48" y2="705.46" stroke="#111" stroke-width="1.3" />
<line x1="237.25" y1="690.30" x2="245.61" y2="690.30" stroke="#111" stroke-width="1.3" />
<line x1="237.25" y1="720.94" x2="245.61" y2="720.94" stroke="#111" stroke-width="1.3" />
<line x1="241.43" y1="690.30" x2="241.43" y2="720.94" stroke="#111" stroke-width="1.3" />
<circle cx="244.83" cy="696.02" r="4.8" fill="#ff0000"/>
<circle cx="238.33" cy="700.82" r="4.8" fill="#ff0000"/>
<circle cx="241.43" cy="719.70" r="4.8" fill="#ff0000"/>
<circle cx="241.43" cy="751.43" r="4.8" fill="#ff0000"/>
<clipPath id="cd"><rect x="235.2" y="657.3" width="20" height="20"/></clipPath><circle cx="241.43" cy="659.96" r="4.8" fill="#ff0000" clip-path="url(#cd)"/>
<line x1="270.99" y1="825.25" x2="287.08" y2="825.25" stroke="#111" stroke-width="1.3" />
<line x1="274.86" y1="820.30" x2="283.22" y2="820.30" stroke="#111" stroke-width="1.3" />
<line x1="274.86" y1="830.36" x2="283.22" y2="830.36" stroke="#111" stroke-width="1.3" />
<line x1="279.04" y1="820.30" x2="279.04" y2="830.36" stroke="#111" stroke-width="1.3" />
<circle cx="275.79" cy="814.88" r="4.8" fill="#0000c8"/>
<circle cx="282.44" cy="816.74" r="4.8" fill="#0000c8"/>
<circle cx="275.79" cy="824.48" r="4.8" fill="#0000c8"/>
<circle cx="282.44" cy="830.05" r="4.8" fill="#0000c8"/>
<circle cx="279.04" cy="841.19" r="4.8" fill="#0000c8"/>
<line x1="293.89" y1="804.82" x2="309.99" y2="804.82" stroke="#111" stroke-width="1.3" />
<line x1="297.76" y1="800.95" x2="306.12" y2="800.95" stroke="#111" stroke-width="1.3" />
<line x1="297.76" y1="808.38" x2="306.12" y2="808.38" stroke="#111" stroke-width="1.3" />
<line x1="301.94" y1="800.95" x2="301.94" y2="808.38" stroke="#111" stroke-width="1.3" />
<circle cx="298.69" cy="796.62" r="4.8" fill="#ff0000"/>
<circle cx="305.19" cy="796.62" r="4.8" fill="#ff0000"/>
<circle cx="301.79" cy="800.95" r="4.8" fill="#ff0000"/>
<circle cx="300.24" cy="815.19" r="4.8" fill="#ff0000"/>
<circle cx="303.64" cy="813.33" r="4.8" fill="#ff0000"/>
<line x1="272.38" y1="769.69" x2="301.48" y2="769.69" stroke="#333" stroke-width="1.5" />
<text font-size="23" text-anchor="start" fill="#000" textLength="78.93" lengthAdjust="spacingAndGlyphs" transform="translate(295.60 762.26) rotate(-90)" ><tspan font-style="italic">P</tspan> = 0.01</text>
<line x1="331.19" y1="878.33" x2="347.29" y2="878.33" stroke="#111" stroke-width="1.3" />
<circle cx="336.61" cy="875.55" r="4.8" fill="#0000c8"/>
<circle cx="341.25" cy="875.55" r="4.8" fill="#0000c8"/>
<circle cx="336.61" cy="880.66" r="4.8" fill="#0000c8"/>
<circle cx="342.80" cy="882.20" r="4.8" fill="#0000c8"/>
<circle cx="338.93" cy="878.33" r="4.8" fill="#0000c8"/>
<line x1="354.10" y1="865.18" x2="370.19" y2="865.18" stroke="#111" stroke-width="1.3" />
<line x1="357.97" y1="860.23" x2="366.32" y2="860.23" stroke="#111" stroke-width="1.3" />
<line x1="357.97" y1="870.60" x2="366.32" y2="870.60" stroke="#111" stroke-width="1.3" />
<line x1="362.14" y1="860.23" x2="362.14" y2="870.60" stroke="#111" stroke-width="1.3" />
<circle cx="362.14" cy="847.85" r="4.8" fill="#ff0000"/>
<circle cx="358.74" cy="865.18" r="4.8" fill="#ff0000"/>
<circle cx="365.24" cy="872.14" r="4.8" fill="#ff0000"/>
<circle cx="359.05" cy="873.38" r="4.8" fill="#ff0000"/>
<circle cx="362.14" cy="868.28" r="4.8" fill="#ff0000"/>
<line x1="335.53" y1="813.64" x2="364.47" y2="813.64" stroke="#333" stroke-width="1.5" />
<text font-size="23" text-anchor="start" fill="#000" textLength="97.96" lengthAdjust="spacingAndGlyphs" transform="translate(358.74 805.29) rotate(-90)" ><tspan font-style="italic">P</tspan> = 0.029</text>
<line x1="212.15" y1="638.82" x2="240.96" y2="638.82" stroke="#333" stroke-width="1.5" />
<text font-size="23" text-anchor="start" fill="#000" textLength="83.81" lengthAdjust="spacingAndGlyphs" transform="translate(236.51 630.96) rotate(-90)" ><tspan font-style="italic">P</tspan> = 0.02</text>
<circle cx="271.10" cy="549.00" r="4.8" fill="#0000c8"/>
<circle cx="271.10" cy="591.10" r="4.8" fill="#ff0000"/>
<text x="288.90" y="555.00" font-size="22" text-anchor="start" fill="#000" textLength="58.10" lengthAdjust="spacingAndGlyphs" ><tspan font-style="italic">Lifr</tspan><tspan font-size="15.4" dy="-11.0">fl/fl</tspan></text>
<text x="288.90" y="596.90" font-size="22" text-anchor="start" fill="#000" textLength="63.40" lengthAdjust="spacingAndGlyphs" ><tspan font-style="italic">Lifr</tspan><tspan font-size="15.4" dy="-11.0">fl/fl</tspan><tspan dy="11.0">;</tspan></text>
<text x="288.90" y="623.60" font-size="22" text-anchor="start" fill="#000" textLength="80.40" lengthAdjust="spacingAndGlyphs" >Alb-Cre</text>
<text x="436.82" y="540.30" font-size="37.5" text-anchor="start" fill="#000" font-weight="bold" textLength="23.36" lengthAdjust="spacingAndGlyphs" stroke="#000" stroke-width="1.4" stroke-linejoin="round">e</text>
<line x1="552.85" y1="655.32" x2="552.85" y2="891.64" stroke="#333" stroke-width="1.7" />
<line x1="543.40" y1="890.72" x2="789.48" y2="890.72" stroke="#333" stroke-width="1.7" />
<line x1="543.40" y1="656.25" x2="552.85" y2="656.25" stroke="#333" stroke-width="1.7" />
<text x="485.65" y="664.13" font-size="22" text-anchor="start" fill="#000" textLength="44.29" lengthAdjust="spacingAndGlyphs" >400</text>
<line x1="543.40" y1="715.06" x2="552.85" y2="715.06" stroke="#333" stroke-width="1.7" />
<text x="485.89" y="722.94" font-size="22" text-anchor="start" fill="#000" textLength="44.05" lengthAdjust="spacingAndGlyphs" >300</text>
<line x1="543.40" y1="773.87" x2="552.85" y2="773.87" stroke="#333" stroke-width="1.7" />
<text x="486.50" y="781.75" font-size="22" text-anchor="start" fill="#000" textLength="43.44" lengthAdjust="spacingAndGlyphs" >200</text>
<line x1="543.40" y1="832.37" x2="552.85" y2="832.37" stroke="#333" stroke-width="1.7" />
<text x="488.95" y="840.25" font-size="22" text-anchor="start" fill="#000" textLength="40.99" lengthAdjust="spacingAndGlyphs" >100</text>
<line x1="543.40" y1="890.72" x2="552.85" y2="890.72" stroke="#333" stroke-width="1.7" />
<text x="514.65" y="898.59" font-size="22" text-anchor="start" fill="#000" textLength="15.29" lengthAdjust="spacingAndGlyphs" >0</text>
<line x1="579.46" y1="890.72" x2="579.46" y2="903.10" stroke="#333" stroke-width="1.7" />
<text x="571.82" y="930.00" font-size="22" text-anchor="start" fill="#000" textLength="15.29" lengthAdjust="spacingAndGlyphs" >0</text>
<line x1="639.82" y1="890.72" x2="639.82" y2="903.10" stroke="#333" stroke-width="1.7" />
<text x="626.55" y="930.00" font-size="22" text-anchor="start" fill="#000" textLength="26.55" lengthAdjust="spacingAndGlyphs" >24</text>
<line x1="700.49" y1="890.72" x2="700.49" y2="903.10" stroke="#333" stroke-width="1.7" />
<text x="686.60" y="930.00" font-size="22" text-anchor="start" fill="#000" textLength="27.78" lengthAdjust="spacingAndGlyphs" >48</text>
<line x1="761.00" y1="890.72" x2="761.00" y2="903.10" stroke="#333" stroke-width="1.7" />
<text x="748.46" y="930.00" font-size="22" text-anchor="start" fill="#000" textLength="25.08" lengthAdjust="spacingAndGlyphs" >72</text>
<text x="557.50" y="974.60" font-size="26" text-anchor="start" fill="#000" textLength="225.30" lengthAdjust="spacingAndGlyphs" >Time after PHx (h)</text>
<text font-size="27" text-anchor="start" fill="#000" textLength="312.20" lengthAdjust="spacingAndGlyphs" transform="translate(461.40 929.50) rotate(-90)" >Serum AST activity (U l<tspan font-size="62%" dy="-0.45em">−1</tspan><tspan dy="0.28em">)</tspan></text>
<line x1="559.81" y1="865.64" x2="575.90" y2="865.64" stroke="#111" stroke-width="1.3" />
<circle cx="566.31" cy="862.08" r="4.8" fill="#0000c8"/>
<circle cx="570.18" cy="863.63" r="4.8" fill="#0000c8"/>
<circle cx="564.76" cy="866.73" r="4.8" fill="#0000c8"/>
<circle cx="570.95" cy="869.05" r="4.8" fill="#0000c8"/>
<line x1="582.87" y1="864.41" x2="598.96" y2="864.41" stroke="#111" stroke-width="1.3" />
<circle cx="589.21" cy="860.54" r="4.8" fill="#ff0000"/>
<circle cx="592.62" cy="862.86" r="4.8" fill="#ff0000"/>
<circle cx="587.67" cy="865.18" r="4.8" fill="#ff0000"/>
<circle cx="594.17" cy="868.28" r="4.8" fill="#ff0000"/>
<line x1="563.21" y1="837.32" x2="592.31" y2="837.32" stroke="#333" stroke-width="1.5" />
<text font-size="23" text-anchor="start" fill="#000" textLength="81.25" lengthAdjust="spacingAndGlyphs" transform="translate(587.98 829.58) rotate(-90)" ><tspan font-style="italic">P</tspan> = 0.57</text>
<line x1="620.48" y1="809.47" x2="636.57" y2="809.47" stroke="#111" stroke-width="1.3" />
<line x1="624.35" y1="805.29" x2="632.70" y2="805.29" stroke="#111" stroke-width="1.3" />
<line x1="624.35" y1="814.11" x2="632.70" y2="814.11" stroke="#111" stroke-width="1.3" />
<line x1="628.52" y1="805.29" x2="628.52" y2="814.11" stroke="#111" stroke-width="1.3" />
<circle cx="625.43" cy="797.86" r="4.8" fill="#0000c8"/>
<circle cx="631.77" cy="802.81" r="4.8" fill="#0000c8"/>
<circle cx="625.43" cy="807.14" r="4.8" fill="#0000c8"/>
<circle cx="631.77" cy="815.66" r="4.8" fill="#0000c8"/>
<circle cx="625.43" cy="823.70" r="4.8" fill="#0000c8"/>
<line x1="643.07" y1="749.57" x2="659.17" y2="749.57" stroke="#111" stroke-width="1.3" />
<line x1="646.94" y1="729.45" x2="655.30" y2="729.45" stroke="#111" stroke-width="1.3" />
<line x1="646.94" y1="770.47" x2="655.30" y2="770.47" stroke="#111" stroke-width="1.3" />
<line x1="651.12" y1="729.45" x2="651.12" y2="770.47" stroke="#111" stroke-width="1.3" />
<circle cx="651.12" cy="680.55" r="4.8" fill="#ff0000"/>
<circle cx="648.33" cy="742.92" r="4.8" fill="#ff0000"/>
<circle cx="654.52" cy="742.92" r="4.8" fill="#ff0000"/>
<circle cx="654.52" cy="787.33" r="4.8" fill="#ff0000"/>
<circle cx="648.02" cy="795.54" r="4.8" fill="#ff0000"/>
<line x1="680.99" y1="838.41" x2="697.08" y2="838.41" stroke="#111" stroke-width="1.3" />
<line x1="684.86" y1="832.37" x2="693.22" y2="832.37" stroke="#111" stroke-width="1.3" />
<line x1="684.86" y1="844.29" x2="693.22" y2="844.29" stroke="#111" stroke-width="1.3" />
<line x1="689.04" y1="832.37" x2="689.04" y2="844.29" stroke="#111" stroke-width="1.3" />
<circle cx="686.25" cy="821.85" r="4.8" fill="#0000c8"/>
<circle cx="692.44" cy="828.81" r="4.8" fill="#0000c8"/>
<circle cx="685.79" cy="842.74" r="4.8" fill="#0000c8"/>
<circle cx="692.44" cy="842.74" r="4.8" fill="#0000c8"/>
<circle cx="689.04" cy="856.36" r="4.8" fill="#0000c8"/>
<line x1="703.89" y1="815.35" x2="719.99" y2="815.35" stroke="#111" stroke-width="1.3" />
<line x1="707.76" y1="810.24" x2="716.12" y2="810.24" stroke="#111" stroke-width="1.3" />
<line x1="707.76" y1="820.30" x2="716.12" y2="820.30" stroke="#111" stroke-width="1.3" />
<line x1="711.94" y1="810.24" x2="711.94" y2="820.30" stroke="#111" stroke-width="1.3" />
<circle cx="708.69" cy="801.26" r="4.8" fill="#ff0000"/>
<circle cx="715.19" cy="808.38" r="4.8" fill="#ff0000"/>
<circle cx="708.69" cy="815.66" r="4.8" fill="#ff0000"/>
<circle cx="715.19" cy="822.16" r="4.8" fill="#ff0000"/>
<circle cx="708.69" cy="828.81" r="4.8" fill="#ff0000"/>
<line x1="682.38" y1="769.69" x2="711.01" y2="769.69" stroke="#333" stroke-width="1.5" />
<text font-size="23" text-anchor="start" fill="#000" textLength="95.18" lengthAdjust="spacingAndGlyphs" transform="translate(706.83 762.26) rotate(-90)" ><tspan font-style="italic">P</tspan> = 0.016</text>
<line x1="741.50" y1="860.07" x2="757.60" y2="860.07" stroke="#111" stroke-width="1.3" />
<circle cx="749.70" cy="853.26" r="4.8" fill="#0000c8"/>
<circle cx="746.61" cy="855.89" r="4.8" fill="#0000c8"/>
<circle cx="752.80" cy="856.36" r="4.8" fill="#0000c8"/>
<circle cx="749.70" cy="862.08" r="4.8" fill="#0000c8"/>
<circle cx="749.70" cy="872.14" r="4.8" fill="#0000c8"/>
<line x1="764.41" y1="829.12" x2="780.50" y2="829.12" stroke="#111" stroke-width="1.3" />
<line x1="768.28" y1="825.72" x2="776.63" y2="825.72" stroke="#111" stroke-width="1.3" />
<line x1="768.28" y1="832.68" x2="776.63" y2="832.68" stroke="#111" stroke-width="1.3" />
<line x1="772.45" y1="825.72" x2="772.45" y2="832.68" stroke="#111" stroke-width="1.3" />
<circle cx="772.45" cy="817.67" r="4.8" fill="#ff0000"/>
<circle cx="769.05" cy="827.26" r="4.8" fill="#ff0000"/>
<circle cx="772.45" cy="830.67" r="4.8" fill="#ff0000"/>
<circle cx="775.55" cy="835.31" r="4.8" fill="#ff0000"/>
<circle cx="769.36" cy="837.79" r="4.8" fill="#ff0000"/>
<line x1="745.53" y1="785.17" x2="773.69" y2="785.17" stroke="#333" stroke-width="1.5" />
<text font-size="23" text-anchor="start" fill="#000" textLength="117.16" lengthAdjust="spacingAndGlyphs" transform="translate(769.82 776.50) rotate(-90)" ><tspan font-style="italic">P</tspan> = 0.0003</text>
<line x1="621.68" y1="656.10" x2="650.49" y2="656.10" stroke="#333" stroke-width="1.5" />
<text font-size="23" text-anchor="start" fill="#000" textLength="97.43" lengthAdjust="spacingAndGlyphs" transform="translate(646.56 646.67) rotate(-90)" ><tspan font-style="italic">P</tspan> = 0.022</text>
<circle cx="673.30" cy="547.90" r="4.8" fill="#0000c8"/>
<circle cx="673.30" cy="594.30" r="4.8" fill="#ff0000"/>
<text x="689.80" y="555.00" font-size="22" text-anchor="start" fill="#000" textLength="58.10" lengthAdjust="spacingAndGlyphs" ><tspan font-style="italic">Lifr</tspan><tspan font-size="15.4" dy="-11.0">fl/fl</tspan></text>
<text x="689.80" y="600.80" font-size="22" text-anchor="start" fill="#000" textLength="63.40" lengthAdjust="spacingAndGlyphs" ><tspan font-style="italic">Lifr</tspan><tspan font-size="15.4" dy="-11.0">fl/fl</tspan><tspan dy="11.0">;</tspan></text>
<text x="689.80" y="628.30" font-size="22" text-anchor="start" fill="#000" textLength="80.40" lengthAdjust="spacingAndGlyphs" >Alb-Cre</text>
<text x="1548.82" y="537.50" font-size="37.5" text-anchor="start" fill="#000" font-weight="bold" textLength="25.66" lengthAdjust="spacingAndGlyphs" stroke="#000" stroke-width="1.4" stroke-linejoin="round">g</text>
<line x1="1680.80" y1="600.12" x2="1680.80" y2="807.20" stroke="#333" stroke-width="1.7" />
<line x1="1671.12" y1="806.26" x2="1799.81" y2="806.26" stroke="#333" stroke-width="1.7" />
<line x1="1671.12" y1="601.06" x2="1680.80" y2="601.06" stroke="#333" stroke-width="1.7" />
<text x="1632.62" y="608.94" font-size="22" text-anchor="start" fill="#000" textLength="23.86" lengthAdjust="spacingAndGlyphs" >15</text>
<line x1="1671.12" y1="669.54" x2="1680.80" y2="669.54" stroke="#333" stroke-width="1.7" />
<text x="1630.79" y="677.42" font-size="22" text-anchor="start" fill="#000" textLength="25.70" lengthAdjust="spacingAndGlyphs" >10</text>
<line x1="1671.12" y1="737.78" x2="1680.80" y2="737.78" stroke="#333" stroke-width="1.7" />
<text x="1643.02" y="745.66" font-size="22" text-anchor="start" fill="#000" textLength="13.46" lengthAdjust="spacingAndGlyphs" >5</text>
<line x1="1671.12" y1="806.26" x2="1680.80" y2="806.26" stroke="#333" stroke-width="1.7" />
<text x="1641.19" y="814.13" font-size="22" text-anchor="start" fill="#000" textLength="15.29" lengthAdjust="spacingAndGlyphs" >0</text>
<line x1="1713.62" y1="806.26" x2="1713.62" y2="815.23" stroke="#333" stroke-width="1.7" />
<line x1="1764.16" y1="806.26" x2="1764.16" y2="815.23" stroke="#333" stroke-width="1.7" />
<text x="1710.08" y="597.99" font-size="23" text-anchor="start" fill="#000" textLength="99.88" lengthAdjust="spacingAndGlyphs" ><tspan font-style="italic">P</tspan> = 0.007</text>
<line x1="1696.62" y1="704.96" x2="1730.63" y2="704.96" stroke="#111" stroke-width="1.3" />
<line x1="1704.89" y1="684.89" x2="1722.36" y2="684.89" stroke="#111" stroke-width="1.3" />
<line x1="1704.89" y1="724.32" x2="1722.36" y2="724.32" stroke="#111" stroke-width="1.3" />
<line x1="1713.62" y1="684.89" x2="1713.62" y2="724.32" stroke="#111" stroke-width="1.3" />
<circle cx="1713.62" cy="614.05" r="4.9" fill="#0000c8"/>
<circle cx="1713.62" cy="692.92" r="4.9" fill="#0000c8"/>
<circle cx="1726.61" cy="719.60" r="4.9" fill="#0000c8"/>
<circle cx="1701.35" cy="726.21" r="4.9" fill="#0000c8"/>
<circle cx="1726.61" cy="729.04" r="4.9" fill="#0000c8"/>
<circle cx="1713.62" cy="749.11" r="4.9" fill="#0000c8"/>
<line x1="1747.15" y1="773.91" x2="1781.16" y2="773.91" stroke="#111" stroke-width="1.3" />
<line x1="1755.42" y1="769.19" x2="1772.89" y2="769.19" stroke="#111" stroke-width="1.3" />
<line x1="1755.42" y1="778.63" x2="1772.89" y2="778.63" stroke="#111" stroke-width="1.3" />
<line x1="1764.16" y1="769.19" x2="1764.16" y2="778.63" stroke="#111" stroke-width="1.3" />
<circle cx="1764.16" cy="756.20" r="4.9" fill="#ff0000"/>
<circle cx="1751.88" cy="767.53" r="4.9" fill="#ff0000"/>
<circle cx="1776.67" cy="772.26" r="4.9" fill="#ff0000"/>
<circle cx="1764.16" cy="778.16" r="4.9" fill="#ff0000"/>
<circle cx="1776.67" cy="782.64" r="4.9" fill="#ff0000"/>
<circle cx="1751.88" cy="786.42" r="4.9" fill="#ff0000"/>
<text font-size="27" text-anchor="start" fill="#000" textLength="295.63" lengthAdjust="spacingAndGlyphs" transform="translate(1608.55 851.12) rotate(-90)" >Mitotic hepatocytes (%)</text>
<text font-size="26" text-anchor="start" fill="#000" textLength="71.31" lengthAdjust="spacingAndGlyphs" transform="translate(1728.97 899.06) rotate(-90)" ><tspan font-style="italic">Lifr</tspan><tspan font-size="18.2" dy="-13.0">fl/fl</tspan></text>
<text font-size="26" text-anchor="start" fill="#000" textLength="174.73" lengthAdjust="spacingAndGlyphs" transform="translate(1768.41 1004.13) rotate(-90)" ><tspan font-style="italic">Lifr</tspan><tspan font-size="18.2" dy="-13.0">fl/fl</tspan><tspan dy="13.0">;Alb-Cre</tspan></text>
<text x="1210.56" y="1067.90" font-size="37.5" text-anchor="start" fill="#000" font-weight="bold" textLength="11.67" lengthAdjust="spacingAndGlyphs" stroke="#000" stroke-width="1.4" stroke-linejoin="round">i</text>
<line x1="1346.43" y1="1157.68" x2="1346.43" y2="1364.82" stroke="#333" stroke-width="1.7" />
<line x1="1336.79" y1="1363.93" x2="1523.57" y2="1363.93" stroke="#333" stroke-width="1.7" />
<line x1="1336.79" y1="1158.57" x2="1346.43" y2="1158.57" stroke="#333" stroke-width="1.7" />
<text x="1294.21" y="1166.45" font-size="22" text-anchor="start" fill="#000" textLength="29.37" lengthAdjust="spacingAndGlyphs" >90</text>
<line x1="1336.79" y1="1227.14" x2="1346.43" y2="1227.14" stroke="#333" stroke-width="1.7" />
<text x="1294.21" y="1235.02" font-size="22" text-anchor="start" fill="#000" textLength="29.37" lengthAdjust="spacingAndGlyphs" >60</text>
<line x1="1336.79" y1="1295.36" x2="1346.43" y2="1295.36" stroke="#333" stroke-width="1.7" />
<text x="1294.82" y="1303.23" font-size="22" text-anchor="start" fill="#000" textLength="28.75" lengthAdjust="spacingAndGlyphs" >30</text>
<line x1="1336.79" y1="1363.93" x2="1346.43" y2="1363.93" stroke="#333" stroke-width="1.7" />
<text x="1308.28" y="1371.80" font-size="22" text-anchor="start" fill="#000" textLength="15.29" lengthAdjust="spacingAndGlyphs" >0</text>
<line x1="1387.50" y1="1363.93" x2="1387.50" y2="1373.57" stroke="#333" stroke-width="1.7" />
<text x="1373.61" y="1403.93" font-size="22" text-anchor="start" fill="#000" textLength="27.78" lengthAdjust="spacingAndGlyphs" >48</text>
<line x1="1481.07" y1="1363.93" x2="1481.07" y2="1373.57" stroke="#333" stroke-width="1.7" />
<text x="1468.53" y="1403.93" font-size="22" text-anchor="start" fill="#000" textLength="25.08" lengthAdjust="spacingAndGlyphs" >72</text>
<text x="1322.50" y="1446.79" font-size="26" text-anchor="start" fill="#000" textLength="224.29" lengthAdjust="spacingAndGlyphs" >Time after PHx (h)</text>
<text font-size="27" text-anchor="start" fill="#000" textLength="160.00" lengthAdjust="spacingAndGlyphs" transform="translate(1237.86 1341.43) rotate(-90)" >Ki67-positive</text>
<text font-size="27" text-anchor="start" fill="#000" textLength="199.64" lengthAdjust="spacingAndGlyphs" transform="translate(1270.00 1361.79) rotate(-90)" >hepatocytes (%)</text>
<line x1="1357.57" y1="1243.14" x2="1381.57" y2="1243.14" stroke="#111" stroke-width="1.3" />
<line x1="1363.43" y1="1230.71" x2="1375.71" y2="1230.71" stroke="#111" stroke-width="1.3" />
<line x1="1363.43" y1="1256.71" x2="1375.71" y2="1256.71" stroke="#111" stroke-width="1.3" />
<line x1="1369.57" y1="1230.71" x2="1369.57" y2="1256.71" stroke="#111" stroke-width="1.3" />
<circle cx="1376.86" cy="1225.29" r="4.7" fill="#0000c8"/>
<circle cx="1369.57" cy="1233.57" r="4.7" fill="#0000c8"/>
<circle cx="1362.14" cy="1245.00" r="4.7" fill="#0000c8"/>
<circle cx="1377.14" cy="1247.43" r="4.7" fill="#0000c8"/>
<circle cx="1369.57" cy="1250.29" r="4.7" fill="#0000c8"/>
<circle cx="1369.57" cy="1261.71" r="4.7" fill="#0000c8"/>
<line x1="1392.71" y1="1267.14" x2="1416.71" y2="1267.14" stroke="#111" stroke-width="1.3" />
<line x1="1398.57" y1="1255.71" x2="1410.86" y2="1255.71" stroke="#111" stroke-width="1.3" />
<line x1="1398.57" y1="1279.00" x2="1410.86" y2="1279.00" stroke="#111" stroke-width="1.3" />
<line x1="1404.71" y1="1255.71" x2="1404.71" y2="1279.00" stroke="#111" stroke-width="1.3" />
<circle cx="1397.14" cy="1260.71" r="4.7" fill="#ff0000"/>
<circle cx="1405.00" cy="1258.86" r="4.7" fill="#ff0000"/>
<circle cx="1412.43" cy="1255.71" r="4.7" fill="#ff0000"/>
<circle cx="1412.43" cy="1268.29" r="4.7" fill="#ff0000"/>
<circle cx="1404.71" cy="1274.00" r="4.7" fill="#ff0000"/>
<circle cx="1404.71" cy="1287.14" r="4.7" fill="#ff0000"/>
<line x1="1368.57" y1="1202.43" x2="1407.86" y2="1202.43" stroke="#333" stroke-width="1.5" />
<text font-size="23" text-anchor="start" fill="#000" textLength="100.00" lengthAdjust="spacingAndGlyphs" transform="translate(1397.86 1197.86) rotate(-90)" ><tspan font-style="italic">P</tspan> = 0.008</text>
<line x1="1451.43" y1="1213.43" x2="1475.43" y2="1213.43" stroke="#111" stroke-width="1.3" />
<line x1="1457.29" y1="1191.14" x2="1469.57" y2="1191.14" stroke="#111" stroke-width="1.3" />
<line x1="1457.29" y1="1234.71" x2="1469.57" y2="1234.71" stroke="#111" stroke-width="1.3" />
<line x1="1463.43" y1="1191.14" x2="1463.43" y2="1234.71" stroke="#111" stroke-width="1.3" />
<circle cx="1463.43" cy="1178.29" r="4.7" fill="#0000c8"/>
<circle cx="1456.14" cy="1202.14" r="4.7" fill="#0000c8"/>
<circle cx="1470.71" cy="1210.29" r="4.7" fill="#0000c8"/>
<circle cx="1456.14" cy="1220.00" r="4.7" fill="#0000c8"/>
<circle cx="1470.71" cy="1228.57" r="4.7" fill="#0000c8"/>
<circle cx="1463.43" cy="1240.00" r="4.7" fill="#0000c8"/>
<line x1="1486.57" y1="1263.57" x2="1510.57" y2="1263.57" stroke="#111" stroke-width="1.3" />
<line x1="1492.43" y1="1261.43" x2="1504.71" y2="1261.43" stroke="#111" stroke-width="1.3" />
<line x1="1492.43" y1="1266.00" x2="1504.71" y2="1266.00" stroke="#111" stroke-width="1.3" />
<line x1="1498.57" y1="1261.43" x2="1498.57" y2="1266.00" stroke="#111" stroke-width="1.3" />
<circle cx="1505.71" cy="1254.57" r="4.7" fill="#ff0000"/>
<circle cx="1495.71" cy="1259.29" r="4.7" fill="#ff0000"/>
<circle cx="1490.71" cy="1262.86" r="4.7" fill="#ff0000"/>
<circle cx="1505.71" cy="1264.57" r="4.7" fill="#ff0000"/>
<circle cx="1500.43" cy="1267.86" r="4.7" fill="#ff0000"/>
<circle cx="1491.14" cy="1272.14" r="4.7" fill="#ff0000"/>
<line x1="1461.14" y1="1157.43" x2="1503.57" y2="1157.43" stroke="#333" stroke-width="1.5" />
<text font-size="23" text-anchor="start" fill="#000" textLength="115.29" lengthAdjust="spacingAndGlyphs" transform="translate(1491.71 1152.14) rotate(-90)" ><tspan font-style="italic">P</tspan> = 0.0003</text>
<circle cx="1541.60" cy="1161.80" r="4.7" fill="#0000c8"/>
<circle cx="1541.60" cy="1207.50" r="4.7" fill="#ff0000"/>
<text x="1559.30" y="1169.30" font-size="22" text-anchor="start" fill="#000" textLength="58.10" lengthAdjust="spacingAndGlyphs" ><tspan font-style="italic">Lifr</tspan><tspan font-size="15.4" dy="-11.0">fl/fl</tspan></text>
<text x="1559.30" y="1215.40" font-size="22" text-anchor="start" fill="#000" textLength="63.40" lengthAdjust="spacingAndGlyphs" ><tspan font-style="italic">Lifr</tspan><tspan font-size="15.4" dy="-11.0">fl/fl</tspan><tspan dy="11.0">;</tspan></text>
<text x="1559.30" y="1242.10" font-size="22" text-anchor="start" fill="#000" textLength="80.40" lengthAdjust="spacingAndGlyphs" >Alb-Cre</text>
<text x="3.13" y="1518.40" font-size="37.5" text-anchor="start" fill="#000" font-weight="bold" textLength="11.67" lengthAdjust="spacingAndGlyphs" stroke="#000" stroke-width="1.4" stroke-linejoin="round">j</text>
<g><path d="M112.08 1653.13 C115.41 1644.37 113.98 1636.75 102.55 1620.56 C94.93 1609.13 91.12 1594.85 95.89 1589.13 C97.79 1587.42 99.70 1586.28 100.17 1588.18 C95.89 1591.99 96.84 1600.56 102.55 1611.04 C110.17 1622.47 122.55 1632.94 119.22 1652.94" fill="#fff" stroke="#000" stroke-width="1.35" stroke-linejoin="round"/><path d="M73.03 1696.28 C75.89 1671.04 94.93 1653.42 116.84 1653.42 C138.74 1653.42 157.79 1671.04 160.65 1696.28" fill="none" stroke="#000" stroke-width="1.35"/><path d="M107.98 1712.66 A20.38 20.38 0 1 0 86.36 1729.80" fill="none" stroke="#000" stroke-width="1.35"/><path d="M125.70 1712.66 A20.38 20.38 0 1 1 147.79 1729.80" fill="none" stroke="#000" stroke-width="1.35"/><path d="M83.50 1729.90 L93.50 1747.23 C98.74 1753.90 107.31 1763.90 116.84 1763.90 C126.36 1763.90 134.93 1753.90 140.65 1746.28 L150.17 1729.90" fill="none" stroke="#000" stroke-width="1.35"/><ellipse cx="104.65" cy="1736.94" rx="2.29" ry="3.43" fill="#fff" stroke="#000" stroke-width="2.4"/><ellipse cx="128.55" cy="1736.75" rx="2.57" ry="2.86" fill="#fff" stroke="#000" stroke-width="2.4"/><path d="M113.50 1753.42 L122.36 1753.42 L121.79 1756.75 L117.79 1759.80 L114.46 1756.75 Z" fill="#000" stroke="#000" stroke-width="0.8" stroke-linejoin="round"/><path d="M109.41 1751.23 Q94.93 1746.28 80.65 1750.56" fill="none" stroke="#000" stroke-width="1.25"/><path d="M124.46 1751.23 Q138.93 1746.28 153.22 1750.56" fill="none" stroke="#000" stroke-width="1.25"/><path d="M109.98 1753.70 Q96.84 1751.04 83.98 1761.04" fill="none" stroke="#000" stroke-width="1.25"/><path d="M123.89 1753.70 Q137.03 1751.04 149.89 1761.04" fill="none" stroke="#000" stroke-width="1.25"/><path d="M110.17 1755.99 Q99.70 1752.94 93.03 1767.42" fill="none" stroke="#000" stroke-width="1.25"/><path d="M123.70 1755.99 Q134.17 1752.94 140.84 1767.42" fill="none" stroke="#000" stroke-width="1.25"/><path d="M108.74 1752.47 Q103.50 1750.56 97.79 1748.66" fill="none" stroke="#000" stroke-width="1.25"/><path d="M125.12 1752.47 Q130.36 1750.56 136.08 1748.66" fill="none" stroke="#000" stroke-width="1.25"/></g>
<rect x="228.43" y="1591.43" width="210.16" height="45.50" fill="none" stroke="#000" stroke-width="2.0" stroke-dasharray="8.6 4.4"/>
<text x="279.19" y="1624.86" font-size="26" text-anchor="start" fill="#000" textLength="110.81" lengthAdjust="spacingAndGlyphs" >Analyses</text>
<line x1="172.71" y1="1678.09" x2="469.81" y2="1678.09" stroke="#44546a" stroke-width="2.2" />
<path d="M478.21 1678.09 L464.21 1672.59 L468.13 1678.09 L464.21 1683.59 Z" fill="#44546a"/>
<line x1="239.88" y1="1642.50" x2="239.88" y2="1669.67" stroke="#44546a" stroke-width="2.2" />
<path d="M239.88 1677.47 L234.38 1664.47 L239.88 1668.11 L245.38 1664.47 Z" fill="#44546a"/>
<line x1="239.88" y1="1678.09" x2="239.88" y2="1697.59" stroke="#44546a" stroke-width="2.2" />
<line x1="305.19" y1="1642.50" x2="305.19" y2="1669.67" stroke="#44546a" stroke-width="2.2" />
<path d="M305.19 1677.47 L299.69 1664.47 L305.19 1668.11 L310.69 1664.47 Z" fill="#44546a"/>
<line x1="305.19" y1="1678.09" x2="305.19" y2="1697.59" stroke="#44546a" stroke-width="2.2" />
<line x1="368.33" y1="1642.50" x2="368.33" y2="1669.67" stroke="#44546a" stroke-width="2.2" />
<path d="M368.33 1677.47 L362.83 1664.47 L368.33 1668.11 L373.83 1664.47 Z" fill="#44546a"/>
<line x1="368.33" y1="1678.09" x2="368.33" y2="1697.59" stroke="#44546a" stroke-width="2.2" />
<line x1="429.31" y1="1642.50" x2="429.31" y2="1669.67" stroke="#44546a" stroke-width="2.2" />
<path d="M429.31 1677.47 L423.81 1664.47 L429.31 1668.11 L434.81 1664.47 Z" fill="#44546a"/>
<line x1="429.31" y1="1678.09" x2="429.31" y2="1697.59" stroke="#44546a" stroke-width="2.2" />
<text x="231.88" y="1725.45" font-size="23" text-anchor="start" fill="#000" textLength="15.99" lengthAdjust="spacingAndGlyphs" >0</text>
<text x="291.31" y="1725.45" font-size="23" text-anchor="start" fill="#000" textLength="27.76" lengthAdjust="spacingAndGlyphs" >24</text>
<text x="353.81" y="1725.45" font-size="23" text-anchor="start" fill="#000" textLength="29.04" lengthAdjust="spacingAndGlyphs" >48</text>
<text x="416.31" y="1725.45" font-size="23" text-anchor="start" fill="#000" textLength="43.33" lengthAdjust="spacingAndGlyphs" >72 h</text>
<line x1="239.88" y1="1767.85" x2="239.88" y2="1740.99" stroke="#44546a" stroke-width="2.2" />
<path d="M239.88 1733.19 L234.38 1746.19 L239.88 1742.55 L245.38 1746.19 Z" fill="#44546a"/>
<rect x="187.88" y="1769.40" width="116.07" height="75.83" fill="none" stroke="#000" stroke-width="2.0" stroke-dasharray="8.6 4.4"/>
<text x="199.64" y="1798.81" font-size="26" text-anchor="start" fill="#000" textLength="91.31" lengthAdjust="spacingAndGlyphs" >Vehicle</text>
<text x="199.64" y="1830.38" font-size="26" text-anchor="start" fill="#000" textLength="91.31" lengthAdjust="spacingAndGlyphs" >or CCl<tspan font-size="16.6" dy="5">4</tspan></text>
<text x="44.88" y="1807.16" font-size="26" text-anchor="start" fill="#000" textLength="105.86" lengthAdjust="spacingAndGlyphs" ><tspan font-style="italic">Lifr</tspan><tspan font-size="18.2" dy="-13.0">fl/fl</tspan><tspan dy="13.0"> or</tspan></text>
<text x="6.19" y="1840.59" font-size="26" text-anchor="start" fill="#000" textLength="176.43" lengthAdjust="spacingAndGlyphs" ><tspan font-style="italic">Lifr</tspan><tspan font-size="18.2" dy="-13.0">fl/fl</tspan><tspan dy="13.0">;Alb-Cre</tspan></text>
<text x="518.06" y="1521.50" font-size="37.5" text-anchor="start" fill="#000" font-weight="bold" textLength="23.36" lengthAdjust="spacingAndGlyphs" stroke="#000" stroke-width="1.4" stroke-linejoin="round">k</text>
<line x1="677.74" y1="1621.33" x2="677.74" y2="1828.25" stroke="#333" stroke-width="1.7" />
<line x1="668.76" y1="1827.32" x2="914.06" y2="1827.32" stroke="#333" stroke-width="1.7" />
<line x1="668.76" y1="1622.26" x2="677.74" y2="1622.26" stroke="#333" stroke-width="1.7" />
<text x="594.34" y="1630.14" font-size="22" text-anchor="start" fill="#000" textLength="59.95" lengthAdjust="spacingAndGlyphs" >1,200</text>
<line x1="668.76" y1="1690.67" x2="677.74" y2="1690.67" stroke="#333" stroke-width="1.7" />
<text x="609.63" y="1698.54" font-size="22" text-anchor="start" fill="#000" textLength="44.66" lengthAdjust="spacingAndGlyphs" >800</text>
<line x1="668.76" y1="1759.07" x2="677.74" y2="1759.07" stroke="#333" stroke-width="1.7" />
<text x="610.00" y="1766.95" font-size="22" text-anchor="start" fill="#000" textLength="44.29" lengthAdjust="spacingAndGlyphs" >400</text>
<line x1="668.76" y1="1827.32" x2="677.74" y2="1827.32" stroke="#333" stroke-width="1.7" />
<text x="639.00" y="1835.20" font-size="22" text-anchor="start" fill="#000" textLength="15.29" lengthAdjust="spacingAndGlyphs" >0</text>
<line x1="704.05" y1="1827.32" x2="704.05" y2="1836.61" stroke="#333" stroke-width="1.7" />
<text x="696.40" y="1867.30" font-size="22" text-anchor="start" fill="#000" textLength="15.29" lengthAdjust="spacingAndGlyphs" >0</text>
<line x1="764.87" y1="1827.32" x2="764.87" y2="1836.61" stroke="#333" stroke-width="1.7" />
<text x="751.59" y="1867.30" font-size="22" text-anchor="start" fill="#000" textLength="26.55" lengthAdjust="spacingAndGlyphs" >24</text>
<line x1="825.23" y1="1827.32" x2="825.23" y2="1836.61" stroke="#333" stroke-width="1.7" />
<text x="811.34" y="1867.30" font-size="22" text-anchor="start" fill="#000" textLength="27.78" lengthAdjust="spacingAndGlyphs" >48</text>
<line x1="885.58" y1="1827.32" x2="885.58" y2="1836.61" stroke="#333" stroke-width="1.7" />
<text x="873.04" y="1867.30" font-size="22" text-anchor="start" fill="#000" textLength="25.08" lengthAdjust="spacingAndGlyphs" >72</text>
<text x="699.29" y="1910.73" font-size="26" text-anchor="start" fill="#000" textLength="193.51" lengthAdjust="spacingAndGlyphs" >Time after CCl<tspan font-size="16.6" dy="5">4</tspan></text>
<text x="721.15" y="1942.87" font-size="26" text-anchor="start" fill="#000" textLength="148.51" lengthAdjust="spacingAndGlyphs" >injection (h)</text>
<text font-size="27" text-anchor="start" fill="#000" textLength="81.97" lengthAdjust="spacingAndGlyphs" transform="translate(540.18 1766.08) rotate(-90)" >Serum</text>
<text font-size="27" text-anchor="start" fill="#000" textLength="221.00" lengthAdjust="spacingAndGlyphs" transform="translate(573.30 1833.60) rotate(-90)" >ALT activity (U l<tspan font-size="62%" dy="-0.45em">−1</tspan><tspan dy="0.28em">)</tspan></text>
<line x1="684.86" y1="1823.45" x2="700.95" y2="1823.45" stroke="#111" stroke-width="1.3" />
<circle cx="690.12" cy="1822.68" r="4.8" fill="#0000c8"/>
<circle cx="694.76" cy="1823.45" r="4.8" fill="#0000c8"/>
<circle cx="693.21" cy="1821.91" r="4.8" fill="#0000c8"/>
<circle cx="696.31" cy="1823.45" r="4.8" fill="#0000c8"/>
<line x1="707.61" y1="1823.45" x2="723.70" y2="1823.45" stroke="#111" stroke-width="1.3" />
<circle cx="714.11" cy="1820.05" r="4.8" fill="#ff0000"/>
<circle cx="711.79" cy="1823.45" r="4.8" fill="#ff0000"/>
<circle cx="716.43" cy="1823.45" r="4.8" fill="#ff0000"/>
<circle cx="719.52" cy="1824.23" r="4.8" fill="#ff0000"/>
<line x1="687.80" y1="1799.00" x2="716.74" y2="1799.00" stroke="#333" stroke-width="1.5" />
<text font-size="23" text-anchor="start" fill="#000" textLength="77.85" lengthAdjust="spacingAndGlyphs" transform="translate(711.48 1792.19) rotate(-90)" ><tspan font-style="italic">P</tspan> = 0.91</text>
<line x1="745.52" y1="1745.76" x2="761.62" y2="1745.76" stroke="#111" stroke-width="1.3" />
<line x1="749.39" y1="1736.79" x2="757.75" y2="1736.79" stroke="#111" stroke-width="1.3" />
<line x1="749.39" y1="1756.60" x2="757.75" y2="1756.60" stroke="#111" stroke-width="1.3" />
<line x1="753.57" y1="1736.79" x2="753.57" y2="1756.60" stroke="#111" stroke-width="1.3" />
<circle cx="753.57" cy="1720.85" r="4.8" fill="#0000c8"/>
<circle cx="750.48" cy="1733.69" r="4.8" fill="#0000c8"/>
<circle cx="756.36" cy="1732.61" r="4.8" fill="#0000c8"/>
<circle cx="756.36" cy="1769.29" r="4.8" fill="#0000c8"/>
<circle cx="750.17" cy="1773.62" r="4.8" fill="#0000c8"/>
<line x1="767.96" y1="1697.32" x2="784.06" y2="1697.32" stroke="#111" stroke-width="1.3" />
<line x1="771.83" y1="1686.49" x2="780.19" y2="1686.49" stroke="#111" stroke-width="1.3" />
<line x1="771.83" y1="1707.38" x2="780.19" y2="1707.38" stroke="#111" stroke-width="1.3" />
<line x1="776.01" y1="1686.49" x2="776.01" y2="1707.38" stroke="#111" stroke-width="1.3" />
<circle cx="776.01" cy="1660.18" r="4.8" fill="#ff0000"/>
<circle cx="776.01" cy="1690.67" r="4.8" fill="#ff0000"/>
<circle cx="772.45" cy="1705.83" r="4.8" fill="#ff0000"/>
<circle cx="779.11" cy="1709.70" r="4.8" fill="#ff0000"/>
<circle cx="776.01" cy="1719.76" r="4.8" fill="#ff0000"/>
<line x1="743.51" y1="1638.98" x2="772.45" y2="1638.98" stroke="#333" stroke-width="1.5" />
<text font-size="23" text-anchor="start" fill="#000" textLength="80.48" lengthAdjust="spacingAndGlyphs" transform="translate(769.82 1631.55) rotate(-90)" ><tspan font-style="italic">P</tspan> = 0.01</text>
<line x1="805.88" y1="1660.95" x2="821.98" y2="1660.95" stroke="#111" stroke-width="1.3" />
<line x1="809.75" y1="1654.76" x2="818.11" y2="1654.76" stroke="#111" stroke-width="1.3" />
<line x1="809.75" y1="1667.14" x2="818.11" y2="1667.14" stroke="#111" stroke-width="1.3" />
<line x1="813.93" y1="1654.76" x2="813.93" y2="1667.14" stroke="#111" stroke-width="1.3" />
<circle cx="813.93" cy="1645.48" r="4.8" fill="#0000c8"/>
<circle cx="810.83" cy="1656.62" r="4.8" fill="#0000c8"/>
<circle cx="817.02" cy="1658.17" r="4.8" fill="#0000c8"/>
<circle cx="813.93" cy="1661.26" r="4.8" fill="#0000c8"/>
<circle cx="813.93" cy="1684.94" r="4.8" fill="#0000c8"/>
<line x1="828.48" y1="1641.14" x2="844.57" y2="1641.14" stroke="#111" stroke-width="1.3" />
<line x1="832.35" y1="1636.19" x2="840.70" y2="1636.19" stroke="#111" stroke-width="1.3" />
<line x1="832.35" y1="1646.25" x2="840.70" y2="1646.25" stroke="#111" stroke-width="1.3" />
<line x1="836.52" y1="1636.19" x2="836.52" y2="1646.25" stroke="#111" stroke-width="1.3" />
<circle cx="836.68" cy="1628.45" r="4.8" fill="#ff0000"/>
<circle cx="833.27" cy="1638.51" r="4.8" fill="#ff0000"/>
<circle cx="837.45" cy="1641.14" r="4.8" fill="#ff0000"/>
<circle cx="840.24" cy="1645.48" r="4.8" fill="#ff0000"/>
<circle cx="833.58" cy="1653.22" r="4.8" fill="#ff0000"/>
<line x1="806.97" y1="1608.02" x2="835.60" y2="1608.02" stroke="#333" stroke-width="1.5" />
<text font-size="23" text-anchor="start" fill="#000" textLength="85.89" lengthAdjust="spacingAndGlyphs" transform="translate(833.27 1601.37) rotate(-90)" ><tspan font-style="italic">P</tspan> = 0.03</text>
<line x1="866.39" y1="1816.49" x2="882.49" y2="1816.49" stroke="#111" stroke-width="1.3" />
<circle cx="871.50" cy="1810.76" r="4.8" fill="#0000c8"/>
<circle cx="877.38" cy="1811.38" r="4.8" fill="#0000c8"/>
<circle cx="871.50" cy="1821.13" r="4.8" fill="#0000c8"/>
<circle cx="877.38" cy="1821.13" r="4.8" fill="#0000c8"/>
<line x1="889.14" y1="1767.74" x2="905.24" y2="1767.74" stroke="#111" stroke-width="1.3" />
<line x1="893.01" y1="1755.36" x2="901.37" y2="1755.36" stroke="#111" stroke-width="1.3" />
<line x1="893.01" y1="1777.80" x2="901.37" y2="1777.80" stroke="#111" stroke-width="1.3" />
<line x1="897.19" y1="1755.36" x2="897.19" y2="1777.80" stroke="#111" stroke-width="1.3" />
<circle cx="897.19" cy="1733.23" r="4.8" fill="#ff0000"/>
<circle cx="897.19" cy="1758.45" r="4.8" fill="#ff0000"/>
<circle cx="894.41" cy="1777.03" r="4.8" fill="#ff0000"/>
<circle cx="900.60" cy="1783.68" r="4.8" fill="#ff0000"/>
<circle cx="894.10" cy="1787.09" r="4.8" fill="#ff0000"/>
<line x1="869.95" y1="1714.35" x2="898.74" y2="1714.35" stroke="#333" stroke-width="1.5" />
<text font-size="23" text-anchor="start" fill="#000" textLength="95.18" lengthAdjust="spacingAndGlyphs" transform="translate(896.26 1706.61) rotate(-90)" ><tspan font-style="italic">P</tspan> = 0.001</text>
<circle cx="925.40" cy="1622.30" r="4.8" fill="#0000c8"/>
<circle cx="925.40" cy="1665.10" r="4.8" fill="#ff0000"/>
<text x="942.90" y="1629.50" font-size="22" text-anchor="start" fill="#000" textLength="58.10" lengthAdjust="spacingAndGlyphs" ><tspan font-style="italic">Lifr</tspan><tspan font-size="15.4" dy="-11.0">fl/fl</tspan></text>
<text x="942.90" y="1671.90" font-size="22" text-anchor="start" fill="#000" textLength="63.40" lengthAdjust="spacingAndGlyphs" ><tspan font-style="italic">Lifr</tspan><tspan font-size="15.4" dy="-11.0">fl/fl</tspan><tspan dy="11.0">;</tspan></text>
<text x="942.90" y="1698.60" font-size="22" text-anchor="start" fill="#000" textLength="80.40" lengthAdjust="spacingAndGlyphs" >Alb-Cre</text>
<text x="1062.06" y="1522.10" font-size="37.5" text-anchor="start" fill="#000" font-weight="bold" textLength="11.67" lengthAdjust="spacingAndGlyphs" stroke="#000" stroke-width="1.4" stroke-linejoin="round">l</text>
<line x1="1210.06" y1="1627.93" x2="1210.06" y2="1835.16" stroke="#333" stroke-width="1.7" />
<line x1="1200.77" y1="1834.23" x2="1446.85" y2="1834.23" stroke="#333" stroke-width="1.7" />
<line x1="1200.77" y1="1628.86" x2="1210.06" y2="1628.86" stroke="#333" stroke-width="1.7" />
<text x="1141.59" y="1636.73" font-size="22" text-anchor="start" fill="#000" textLength="44.66" lengthAdjust="spacingAndGlyphs" >800</text>
<line x1="1200.77" y1="1680.24" x2="1210.06" y2="1680.24" stroke="#333" stroke-width="1.7" />
<text x="1141.59" y="1688.12" font-size="22" text-anchor="start" fill="#000" textLength="44.66" lengthAdjust="spacingAndGlyphs" >600</text>
<line x1="1200.77" y1="1731.62" x2="1210.06" y2="1731.62" stroke="#333" stroke-width="1.7" />
<text x="1141.96" y="1739.50" font-size="22" text-anchor="start" fill="#000" textLength="44.29" lengthAdjust="spacingAndGlyphs" >400</text>
<line x1="1200.77" y1="1783.00" x2="1210.06" y2="1783.00" stroke="#333" stroke-width="1.7" />
<text x="1142.82" y="1790.88" font-size="22" text-anchor="start" fill="#000" textLength="43.44" lengthAdjust="spacingAndGlyphs" >200</text>
<line x1="1200.77" y1="1834.23" x2="1210.06" y2="1834.23" stroke="#333" stroke-width="1.7" />
<text x="1170.96" y="1842.10" font-size="22" text-anchor="start" fill="#000" textLength="15.29" lengthAdjust="spacingAndGlyphs" >0</text>
<line x1="1236.37" y1="1834.23" x2="1236.37" y2="1843.98" stroke="#333" stroke-width="1.7" />
<text x="1228.72" y="1873.80" font-size="22" text-anchor="start" fill="#000" textLength="15.29" lengthAdjust="spacingAndGlyphs" >0</text>
<line x1="1297.04" y1="1834.23" x2="1297.04" y2="1843.98" stroke="#333" stroke-width="1.7" />
<text x="1283.76" y="1873.80" font-size="22" text-anchor="start" fill="#000" textLength="26.55" lengthAdjust="spacingAndGlyphs" >24</text>
<line x1="1357.55" y1="1834.23" x2="1357.55" y2="1843.98" stroke="#333" stroke-width="1.7" />
<text x="1343.66" y="1873.80" font-size="22" text-anchor="start" fill="#000" textLength="27.78" lengthAdjust="spacingAndGlyphs" >48</text>
<line x1="1418.22" y1="1834.23" x2="1418.22" y2="1843.98" stroke="#333" stroke-width="1.7" />
<text x="1405.67" y="1873.80" font-size="22" text-anchor="start" fill="#000" textLength="25.08" lengthAdjust="spacingAndGlyphs" >72</text>
<text x="1231.26" y="1917.16" font-size="26" text-anchor="start" fill="#000" textLength="192.86" lengthAdjust="spacingAndGlyphs" >Time after CCl<tspan font-size="16.6" dy="5">4</tspan></text>
<text x="1253.11" y="1949.95" font-size="26" text-anchor="start" fill="#000" textLength="148.51" lengthAdjust="spacingAndGlyphs" >injection (h)</text>
<text font-size="27" text-anchor="start" fill="#000" textLength="81.97" lengthAdjust="spacingAndGlyphs" transform="translate(1086.61 1772.51) rotate(-90)" >Serum</text>
<text font-size="27" text-anchor="start" fill="#000" textLength="223.00" lengthAdjust="spacingAndGlyphs" transform="translate(1118.80 1841.60) rotate(-90)" >AST activity (U l<tspan font-size="62%" dy="-0.45em">−1</tspan><tspan dy="0.28em">)</tspan></text>
<line x1="1216.87" y1="1824.94" x2="1232.96" y2="1824.94" stroke="#111" stroke-width="1.3" />
<circle cx="1223.21" cy="1819.99" r="4.8" fill="#0000c8"/>
<circle cx="1226.31" cy="1823.39" r="4.8" fill="#0000c8"/>
<circle cx="1221.36" cy="1826.95" r="4.8" fill="#0000c8"/>
<circle cx="1228.63" cy="1828.04" r="4.8" fill="#0000c8"/>
<line x1="1239.93" y1="1825.41" x2="1256.02" y2="1825.41" stroke="#111" stroke-width="1.3" />
<circle cx="1246.43" cy="1821.85" r="4.8" fill="#ff0000"/>
<circle cx="1250.30" cy="1824.94" r="4.8" fill="#ff0000"/>
<circle cx="1244.88" cy="1826.95" r="4.8" fill="#ff0000"/>
<circle cx="1251.85" cy="1828.04" r="4.8" fill="#ff0000"/>
<line x1="1220.43" y1="1798.63" x2="1249.21" y2="1798.63" stroke="#333" stroke-width="1.5" />
<text font-size="23" text-anchor="start" fill="#000" textLength="81.25" lengthAdjust="spacingAndGlyphs" transform="translate(1243.80 1790.89) rotate(-90)" ><tspan font-style="italic">P</tspan> = 0.72</text>
<line x1="1277.69" y1="1754.53" x2="1293.79" y2="1754.53" stroke="#111" stroke-width="1.3" />
<line x1="1281.56" y1="1737.50" x2="1289.92" y2="1737.50" stroke="#111" stroke-width="1.3" />
<line x1="1281.56" y1="1771.86" x2="1289.92" y2="1771.86" stroke="#111" stroke-width="1.3" />
<line x1="1285.74" y1="1737.50" x2="1285.74" y2="1771.86" stroke="#111" stroke-width="1.3" />
<circle cx="1285.74" cy="1703.76" r="4.8" fill="#0000c8"/>
<circle cx="1285.74" cy="1725.89" r="4.8" fill="#0000c8"/>
<circle cx="1285.74" cy="1765.36" r="4.8" fill="#0000c8"/>
<circle cx="1285.74" cy="1783.93" r="4.8" fill="#0000c8"/>
<circle cx="1285.74" cy="1793.99" r="4.8" fill="#0000c8"/>
<line x1="1300.29" y1="1699.58" x2="1316.38" y2="1699.58" stroke="#111" stroke-width="1.3" />
<line x1="1304.16" y1="1686.12" x2="1312.51" y2="1686.12" stroke="#111" stroke-width="1.3" />
<line x1="1304.16" y1="1713.05" x2="1312.51" y2="1713.05" stroke="#111" stroke-width="1.3" />
<line x1="1308.33" y1="1686.12" x2="1308.33" y2="1713.05" stroke="#111" stroke-width="1.3" />
<circle cx="1308.33" cy="1657.02" r="4.8" fill="#ff0000"/>
<circle cx="1311.43" cy="1688.75" r="4.8" fill="#ff0000"/>
<circle cx="1305.24" cy="1696.49" r="4.8" fill="#ff0000"/>
<circle cx="1311.43" cy="1725.12" r="4.8" fill="#ff0000"/>
<circle cx="1305.24" cy="1731.00" r="4.8" fill="#ff0000"/>
<line x1="1275.83" y1="1635.05" x2="1304.77" y2="1635.05" stroke="#333" stroke-width="1.5" />
<text font-size="23" text-anchor="start" fill="#000" textLength="99.05" lengthAdjust="spacingAndGlyphs" transform="translate(1300.91 1628.39) rotate(-90)" ><tspan font-style="italic">P</tspan> = 0.036</text>
<line x1="1338.20" y1="1771.86" x2="1354.30" y2="1771.86" stroke="#111" stroke-width="1.3" />
<line x1="1342.07" y1="1757.31" x2="1350.43" y2="1757.31" stroke="#111" stroke-width="1.3" />
<line x1="1342.07" y1="1785.79" x2="1350.43" y2="1785.79" stroke="#111" stroke-width="1.3" />
<line x1="1346.25" y1="1757.31" x2="1346.25" y2="1785.79" stroke="#111" stroke-width="1.3" />
<circle cx="1346.25" cy="1738.28" r="4.8" fill="#0000c8"/>
<circle cx="1346.25" cy="1747.56" r="4.8" fill="#0000c8"/>
<circle cx="1346.25" cy="1764.58" r="4.8" fill="#0000c8"/>
<circle cx="1349.35" cy="1802.50" r="4.8" fill="#0000c8"/>
<circle cx="1343.16" cy="1805.91" r="4.8" fill="#0000c8"/>
<line x1="1360.95" y1="1702.68" x2="1377.05" y2="1702.68" stroke="#111" stroke-width="1.3" />
<line x1="1364.82" y1="1686.74" x2="1373.18" y2="1686.74" stroke="#111" stroke-width="1.3" />
<line x1="1364.82" y1="1718.62" x2="1373.18" y2="1718.62" stroke="#111" stroke-width="1.3" />
<line x1="1369.00" y1="1686.74" x2="1369.00" y2="1718.62" stroke="#111" stroke-width="1.3" />
<circle cx="1369.00" cy="1664.76" r="4.8" fill="#ff0000"/>
<circle cx="1369.00" cy="1681.32" r="4.8" fill="#ff0000"/>
<circle cx="1369.00" cy="1700.05" r="4.8" fill="#ff0000"/>
<circle cx="1369.00" cy="1710.42" r="4.8" fill="#ff0000"/>
<circle cx="1369.00" cy="1756.38" r="4.8" fill="#ff0000"/>
<line x1="1338.98" y1="1641.86" x2="1367.92" y2="1641.86" stroke="#333" stroke-width="1.5" />
<text font-size="23" text-anchor="start" fill="#000" textLength="80.17" lengthAdjust="spacingAndGlyphs" transform="translate(1365.60 1635.05) rotate(-90)" ><tspan font-style="italic">P</tspan> = 0.01</text>
<line x1="1398.72" y1="1819.53" x2="1414.81" y2="1819.53" stroke="#111" stroke-width="1.3" />
<circle cx="1406.61" cy="1811.48" r="4.8" fill="#0000c8"/>
<circle cx="1410.17" cy="1814.88" r="4.8" fill="#0000c8"/>
<circle cx="1403.51" cy="1825.41" r="4.8" fill="#0000c8"/>
<circle cx="1410.17" cy="1824.17" r="4.8" fill="#0000c8"/>
<circle cx="1406.61" cy="1819.53" r="4.8" fill="#0000c8"/>
<line x1="1421.62" y1="1801.73" x2="1437.72" y2="1801.73" stroke="#111" stroke-width="1.3" />
<line x1="1425.49" y1="1796.31" x2="1433.85" y2="1796.31" stroke="#111" stroke-width="1.3" />
<line x1="1425.49" y1="1807.14" x2="1433.85" y2="1807.14" stroke="#111" stroke-width="1.3" />
<line x1="1429.67" y1="1796.31" x2="1429.67" y2="1807.14" stroke="#111" stroke-width="1.3" />
<circle cx="1429.82" cy="1785.01" r="4.8" fill="#ff0000"/>
<circle cx="1426.26" cy="1800.18" r="4.8" fill="#ff0000"/>
<circle cx="1432.92" cy="1798.17" r="4.8" fill="#ff0000"/>
<circle cx="1426.26" cy="1812.56" r="4.8" fill="#ff0000"/>
<circle cx="1432.92" cy="1811.01" r="4.8" fill="#ff0000"/>
<line x1="1401.97" y1="1767.68" x2="1431.06" y2="1767.68" stroke="#333" stroke-width="1.5" />
<text font-size="23" text-anchor="start" fill="#000" textLength="79.70" lengthAdjust="spacingAndGlyphs" transform="translate(1428.74 1760.72) rotate(-90)" ><tspan font-style="italic">P</tspan> = 0.01</text>
<circle cx="1451.90" cy="1633.80" r="4.8" fill="#0000c8"/>
<circle cx="1451.90" cy="1676.40" r="4.8" fill="#ff0000"/>
<text x="1469.10" y="1640.70" font-size="22" text-anchor="start" fill="#000" textLength="58.10" lengthAdjust="spacingAndGlyphs" ><tspan font-style="italic">Lifr</tspan><tspan font-size="15.4" dy="-11.0">fl/fl</tspan></text>
<text x="1469.10" y="1683.10" font-size="22" text-anchor="start" fill="#000" textLength="63.40" lengthAdjust="spacingAndGlyphs" ><tspan font-style="italic">Lifr</tspan><tspan font-size="15.4" dy="-11.0">fl/fl</tspan><tspan dy="11.0">;</tspan></text>
<text x="1469.10" y="1709.80" font-size="22" text-anchor="start" fill="#000" textLength="80.40" lengthAdjust="spacingAndGlyphs" >Alb-Cre</text>
<text x="1586.27" y="1522.20" font-size="37.5" text-anchor="start" fill="#000" font-weight="bold" textLength="25.66" lengthAdjust="spacingAndGlyphs" stroke="#000" stroke-width="1.4" stroke-linejoin="round">n</text>
<line x1="1683.95" y1="1576.28" x2="1683.95" y2="1783.00" stroke="#333" stroke-width="1.7" />
<line x1="1674.51" y1="1782.06" x2="1802.41" y2="1782.06" stroke="#333" stroke-width="1.7" />
<line x1="1674.51" y1="1577.22" x2="1683.95" y2="1577.22" stroke="#333" stroke-width="1.7" />
<text x="1630.99" y="1585.10" font-size="22" text-anchor="start" fill="#000" textLength="29.37" lengthAdjust="spacingAndGlyphs" >80</text>
<line x1="1674.51" y1="1628.67" x2="1683.95" y2="1628.67" stroke="#333" stroke-width="1.7" />
<text x="1630.99" y="1636.55" font-size="22" text-anchor="start" fill="#000" textLength="29.37" lengthAdjust="spacingAndGlyphs" >60</text>
<line x1="1674.51" y1="1679.88" x2="1683.95" y2="1679.88" stroke="#333" stroke-width="1.7" />
<text x="1631.35" y="1687.75" font-size="22" text-anchor="start" fill="#000" textLength="29.00" lengthAdjust="spacingAndGlyphs" >40</text>
<line x1="1674.51" y1="1730.85" x2="1683.95" y2="1730.85" stroke="#333" stroke-width="1.7" />
<text x="1632.21" y="1738.73" font-size="22" text-anchor="start" fill="#000" textLength="28.14" lengthAdjust="spacingAndGlyphs" >20</text>
<line x1="1674.51" y1="1782.06" x2="1683.95" y2="1782.06" stroke="#333" stroke-width="1.7" />
<text x="1645.06" y="1789.93" font-size="22" text-anchor="start" fill="#000" textLength="15.29" lengthAdjust="spacingAndGlyphs" >0</text>
<line x1="1716.99" y1="1782.06" x2="1716.99" y2="1791.03" stroke="#333" stroke-width="1.7" />
<line x1="1767.02" y1="1782.06" x2="1767.02" y2="1791.03" stroke="#333" stroke-width="1.7" />
<text x="1705.19" y="1590.91" font-size="23" text-anchor="start" fill="#000" textLength="113.30" lengthAdjust="spacingAndGlyphs" ><tspan font-style="italic">P</tspan> = 4 × 10<tspan font-size="62%" dy="-0.5em">−4</tspan></text>
<line x1="1700.00" y1="1732.50" x2="1733.98" y2="1732.50" stroke="#111" stroke-width="1.3" />
<line x1="1708.26" y1="1723.06" x2="1725.72" y2="1723.06" stroke="#111" stroke-width="1.3" />
<line x1="1708.26" y1="1741.47" x2="1725.72" y2="1741.47" stroke="#111" stroke-width="1.3" />
<line x1="1716.99" y1="1723.06" x2="1716.99" y2="1741.47" stroke="#111" stroke-width="1.3" />
<circle cx="1716.99" cy="1692.86" r="4.9" fill="#0000c8"/>
<circle cx="1704.72" cy="1722.35" r="4.9" fill="#0000c8"/>
<circle cx="1716.99" cy="1724.24" r="4.9" fill="#0000c8"/>
<circle cx="1729.26" cy="1723.06" r="4.9" fill="#0000c8"/>
<circle cx="1710.62" cy="1752.09" r="4.9" fill="#0000c8"/>
<circle cx="1723.36" cy="1752.56" r="4.9" fill="#0000c8"/>
<circle cx="1716.99" cy="1761.53" r="4.9" fill="#0000c8"/>
<line x1="1750.02" y1="1661.23" x2="1784.01" y2="1661.23" stroke="#111" stroke-width="1.3" />
<line x1="1758.28" y1="1651.09" x2="1775.75" y2="1651.09" stroke="#111" stroke-width="1.3" />
<line x1="1758.28" y1="1671.15" x2="1775.75" y2="1671.15" stroke="#111" stroke-width="1.3" />
<line x1="1767.02" y1="1651.09" x2="1767.02" y2="1671.15" stroke="#111" stroke-width="1.3" />
<circle cx="1767.02" cy="1631.03" r="4.9" fill="#ff0000"/>
<circle cx="1767.02" cy="1648.73" r="4.9" fill="#ff0000"/>
<circle cx="1754.74" cy="1668.79" r="4.9" fill="#ff0000"/>
<circle cx="1779.05" cy="1669.49" r="4.9" fill="#ff0000"/>
<circle cx="1767.02" cy="1688.84" r="4.9" fill="#ff0000"/>
<text font-size="27" text-anchor="start" fill="#000" textLength="213.80" lengthAdjust="spacingAndGlyphs" transform="translate(1608.91 1786.31) rotate(-90)" >Necrotic area (%)</text>
<text font-size="26" text-anchor="start" fill="#000" textLength="69.61" lengthAdjust="spacingAndGlyphs" transform="translate(1732.33 1874.09) rotate(-90)" ><tspan font-style="italic">Lifr</tspan><tspan font-size="18.2" dy="-13.0">fl/fl</tspan></text>
<text font-size="26" text-anchor="start" fill="#000" textLength="172.74" lengthAdjust="spacingAndGlyphs" transform="translate(1773.62 1977.92) rotate(-90)" ><tspan font-style="italic">Lifr</tspan><tspan font-size="18.2" dy="-13.0">fl/fl</tspan><tspan dy="13.0">;Alb-Cre</tspan></text>
<text x="1388.77" y="2026.00" font-size="37.5" text-anchor="start" fill="#000" font-weight="bold" textLength="25.66" lengthAdjust="spacingAndGlyphs" stroke="#000" stroke-width="1.4" stroke-linejoin="round">p</text>
<line x1="1528.32" y1="2098.64" x2="1528.32" y2="2334.61" stroke="#333" stroke-width="1.7" />
<line x1="1518.97" y1="2333.78" x2="1705.98" y2="2333.78" stroke="#333" stroke-width="1.7" />
<line x1="1518.97" y1="2099.46" x2="1528.32" y2="2099.46" stroke="#333" stroke-width="1.7" />
<text x="1463.40" y="2107.34" font-size="22" text-anchor="start" fill="#000" textLength="40.99" lengthAdjust="spacingAndGlyphs" >100</text>
<line x1="1518.97" y1="2216.90" x2="1528.32" y2="2216.90" stroke="#333" stroke-width="1.7" />
<text x="1475.64" y="2224.77" font-size="22" text-anchor="start" fill="#000" textLength="28.75" lengthAdjust="spacingAndGlyphs" >50</text>
<line x1="1518.97" y1="2333.78" x2="1528.32" y2="2333.78" stroke="#333" stroke-width="1.7" />
<text x="1489.09" y="2341.66" font-size="22" text-anchor="start" fill="#000" textLength="15.29" lengthAdjust="spacingAndGlyphs" >0</text>
<line x1="1569.57" y1="2333.78" x2="1569.57" y2="2343.41" stroke="#333" stroke-width="1.7" />
<line x1="1663.08" y1="2333.78" x2="1663.08" y2="2343.41" stroke="#333" stroke-width="1.7" />
<text x="1523.64" y="2376.41" font-size="26" text-anchor="start" fill="#000" textLength="90.76" lengthAdjust="spacingAndGlyphs" >Vehicle</text>
<text x="1632.28" y="2376.41" font-size="26" text-anchor="start" fill="#000" textLength="59.13" lengthAdjust="spacingAndGlyphs" >CCl<tspan font-size="16.6" dy="5">4</tspan></text>
<text font-size="27" text-anchor="start" fill="#000" textLength="158.14" lengthAdjust="spacingAndGlyphs" transform="translate(1410.88 2296.66) rotate(-90)" >Ki67-positive</text>
<text font-size="27" text-anchor="start" fill="#000" textLength="202.15" lengthAdjust="spacingAndGlyphs" transform="translate(1443.88 2317.28) rotate(-90)" >hepatocytes (%)</text>
<text x="1608.90" y="2089.56" font-size="23" text-anchor="start" fill="#000" textLength="108.60" lengthAdjust="spacingAndGlyphs" ><tspan font-style="italic">P</tspan> = 1 × 10<tspan font-size="62%" dy="-0.5em">−5</tspan></text>
<line x1="1646.03" y1="2098.09" x2="1683.98" y2="2098.09" stroke="#333" stroke-width="1.5" />
<text x="1536.02" y="2281.53" font-size="23" text-anchor="start" fill="#000" textLength="70.96" lengthAdjust="spacingAndGlyphs" ><tspan font-style="italic">P</tspan> = 0.3</text>
<line x1="1553.07" y1="2289.78" x2="1588.27" y2="2289.78" stroke="#333" stroke-width="1.5" />
<line x1="1540.14" y1="2326.08" x2="1563.25" y2="2326.08" stroke="#111" stroke-width="1.3" />
<circle cx="1543.72" cy="2326.91" r="4.7" fill="#0000c8"/>
<circle cx="1547.02" cy="2321.41" r="4.7" fill="#0000c8"/>
<circle cx="1553.34" cy="2324.16" r="4.7" fill="#0000c8"/>
<circle cx="1559.39" cy="2325.53" r="4.7" fill="#0000c8"/>
<circle cx="1555.82" cy="2331.03" r="4.7" fill="#0000c8"/>
<line x1="1574.80" y1="2323.61" x2="1597.90" y2="2323.61" stroke="#111" stroke-width="1.3" />
<circle cx="1586.35" cy="2313.16" r="4.7" fill="#ff0000"/>
<circle cx="1579.47" cy="2330.48" r="4.7" fill="#ff0000"/>
<circle cx="1585.52" cy="2324.16" r="4.7" fill="#ff0000"/>
<circle cx="1593.77" cy="2323.61" r="4.7" fill="#ff0000"/>
<circle cx="1589.65" cy="2326.91" r="4.7" fill="#ff0000"/>
<line x1="1633.38" y1="2139.34" x2="1657.58" y2="2139.34" stroke="#111" stroke-width="1.3" />
<line x1="1639.43" y1="2135.76" x2="1651.53" y2="2135.76" stroke="#111" stroke-width="1.3" />
<line x1="1639.43" y1="2143.19" x2="1651.53" y2="2143.19" stroke="#111" stroke-width="1.3" />
<line x1="1645.48" y1="2135.76" x2="1645.48" y2="2143.19" stroke="#111" stroke-width="1.3" />
<circle cx="1645.48" cy="2121.19" r="4.7" fill="#0000c8"/>
<circle cx="1652.90" cy="2132.46" r="4.7" fill="#0000c8"/>
<circle cx="1637.78" cy="2137.96" r="4.7" fill="#0000c8"/>
<circle cx="1645.48" cy="2139.89" r="4.7" fill="#0000c8"/>
<circle cx="1652.90" cy="2144.02" r="4.7" fill="#0000c8"/>
<circle cx="1645.48" cy="2162.72" r="4.7" fill="#0000c8"/>
<line x1="1668.58" y1="2218.82" x2="1692.78" y2="2218.82" stroke="#111" stroke-width="1.3" />
<line x1="1674.63" y1="2209.20" x2="1686.73" y2="2209.20" stroke="#111" stroke-width="1.3" />
<line x1="1674.63" y1="2228.72" x2="1686.73" y2="2228.72" stroke="#111" stroke-width="1.3" />
<line x1="1680.68" y1="2209.20" x2="1680.68" y2="2228.72" stroke="#111" stroke-width="1.3" />
<circle cx="1680.68" cy="2192.97" r="4.7" fill="#ff0000"/>
<circle cx="1687.83" cy="2210.02" r="4.7" fill="#ff0000"/>
<circle cx="1672.98" cy="2217.72" r="4.7" fill="#ff0000"/>
<circle cx="1687.83" cy="2223.22" r="4.7" fill="#ff0000"/>
<circle cx="1680.68" cy="2252.65" r="4.7" fill="#ff0000"/>
<circle cx="1723.00" cy="2105.00" r="4.7" fill="#0000c8"/>
<circle cx="1723.00" cy="2142.90" r="4.7" fill="#ff0000"/>
<text x="1740.90" y="2112.40" font-size="22" text-anchor="start" fill="#000" textLength="58.10" lengthAdjust="spacingAndGlyphs" ><tspan font-style="italic">Lifr</tspan><tspan font-size="15.4" dy="-11.0">fl/fl</tspan></text>
<text x="1740.90" y="2150.10" font-size="22" text-anchor="start" fill="#000" textLength="63.40" lengthAdjust="spacingAndGlyphs" ><tspan font-style="italic">Lifr</tspan><tspan font-size="15.4" dy="-11.0">fl/fl</tspan><tspan dy="11.0">;</tspan></text>
<text x="1740.90" y="2177.00" font-size="22" text-anchor="start" fill="#000" textLength="80.40" lengthAdjust="spacingAndGlyphs" >Alb-Cre</text>
<text x="868.87" y="539.50" font-size="37.5" text-anchor="start" fill="#000" font-weight="bold" textLength="13.99" lengthAdjust="spacingAndGlyphs" stroke="#000" stroke-width="1.4" stroke-linejoin="round">f</text>
<text x="1013.50" y="583.40" font-size="26" text-anchor="start" fill="#000" textLength="71.40" lengthAdjust="spacingAndGlyphs" >Sham</text>
<text x="1290.70" y="583.40" font-size="26" text-anchor="start" fill="#000" textLength="126.10" lengthAdjust="spacingAndGlyphs" >PHx (72 h)</text>
<line x1="919.00" y1="595.70" x2="1180.60" y2="595.70" stroke="#333" stroke-width="1.5" />
<line x1="1222.50" y1="595.70" x2="1484.50" y2="595.70" stroke="#333" stroke-width="1.5" />
<text x="940.40" y="629.80" font-size="26" text-anchor="start" fill="#000" textLength="71.80" lengthAdjust="spacingAndGlyphs" ><tspan font-style="italic">Lifr</tspan><tspan font-size="18.2" dy="-13.0">fl/fl</tspan></text>
<text x="1038.90" y="629.80" font-size="26" text-anchor="start" fill="#000" textLength="176.60" lengthAdjust="spacingAndGlyphs" ><tspan font-style="italic">Lifr</tspan><tspan font-size="18.2" dy="-13.0">fl/fl</tspan><tspan dy="13.0">;Alb-Cre</tspan></text>
<text x="1243.50" y="629.80" font-size="26" text-anchor="start" fill="#000" textLength="71.40" lengthAdjust="spacingAndGlyphs" ><tspan font-style="italic">Lifr</tspan><tspan font-size="18.2" dy="-13.0">fl/fl</tspan></text>
<text x="1342.90" y="629.80" font-size="26" text-anchor="start" fill="#000" textLength="178.60" lengthAdjust="spacingAndGlyphs" ><tspan font-style="italic">Lifr</tspan><tspan font-size="18.2" dy="-13.0">fl/fl</tspan><tspan dy="13.0">;Alb-Cre</tspan></text>
<text font-size="26" text-anchor="start" fill="#000" textLength="120.30" lengthAdjust="spacingAndGlyphs" transform="translate(891.10 772.30) rotate(-90)" >H&amp;E (LPF)</text>
<text font-size="26" text-anchor="start" fill="#000" textLength="126.00" lengthAdjust="spacingAndGlyphs" transform="translate(891.10 927.10) rotate(-90)" >H&amp;E (HPF)</text>
<g clip-path="url(#c1)"><rect x="902.20" y="639.00" width="147.60" height="147.60" fill="#c66a9a"/><rect x="902.20" y="639.00" width="147.60" height="147.60" filter="url(#t1)"/><path d="M1022.4 653.2h0M1038.6 746.8h0M940.2 702.1h0M907.2 660.7h0M998.4 753.0h0M930.1 741.8h0M958.1 719.6h0M1025.3 673.8h0M928.0 701.6h0M1046.5 699.0h0M1026.4 664.8h0M1013.5 765.8h0M956.1 669.4h0M917.2 660.3h0M945.2 727.0h0M1031.2 676.9h0M1039.6 663.7h0M976.0 749.0h0M1035.3 773.7h0M1043.0 651.2h0M1029.9 639.2h0M969.9 692.9h0M966.0 651.7h0M962.6 739.1h0M1001.1 639.9h0M1019.7 685.3h0M981.9 683.7h0M1001.4 713.4h0M1031.3 647.4h0M960.8 784.5h0M905.5 654.9h0M1008.5 783.7h0M914.6 667.1h0M1004.4 714.3h0M1039.0 657.6h0M921.4 669.2h0M965.3 674.5h0M973.5 652.2h0M987.7 685.1h0M934.7 660.7h0M948.7 682.9h0M1046.3 735.8h0M1029.7 709.6h0M915.8 731.8h0M1011.3 784.3h0M903.2 644.4h0M1018.4 673.5h0M904.2 649.7h0M1021.4 718.8h0M1038.1 753.5h0M973.3 690.3h0M953.2 663.7h0M1038.7 699.2h0M972.1 699.2h0M982.8 765.0h0M997.9 711.6h0M1002.1 752.6h0M992.2 717.4h0M930.4 661.2h0M1000.4 744.7h0M1025.3 678.0h0M964.5 640.2h0M988.3 721.8h0M940.8 737.8h0M1034.7 702.3h0M993.6 726.0h0M984.7 671.0h0M904.9 785.1h0M1028.7 783.9h0M1026.8 657.5h0M926.3 699.3h0M999.0 742.4h0M1002.1 707.6h0M935.0 729.4h0M956.2 737.6h0M925.9 766.1h0M912.0 785.2h0M1045.0 738.3h0M994.4 669.1h0M991.8 704.8h0M990.3 647.0h0M1023.3 734.3h0M1023.2 755.8h0M902.7 675.2h0M990.8 692.1h0M924.3 748.8h0M1038.6 706.6h0M973.5 720.0h0M1015.3 725.0h0M938.8 689.8h0M928.4 693.1h0M952.3 767.3h0M934.1 669.5h0M951.8 716.6h0M1027.0 706.6h0M961.1 759.1h0M913.8 700.9h0M989.4 658.4h0M943.1 766.5h0M1006.5 688.0h0M1043.1 711.8h0M984.6 739.7h0M1033.7 683.4h0M922.1 699.1h0M1021.6 769.6h0M984.7 709.9h0M1042.3 687.2h0M996.4 659.2h0M1016.1 780.8h0M987.5 643.1h0M1042.7 770.7h0M995.4 708.6h0M944.1 705.1h0M953.9 649.8h0M922.9 727.6h0M950.8 680.3h0M961.4 656.0h0M970.4 771.9h0M929.1 741.8h0M975.9 738.1h0M998.6 671.8h0M955.3 784.8h0M915.1 683.7h0M1046.6 699.1h0M993.9 703.9h0M950.4 717.4h0M928.3 648.3h0M950.9 646.8h0M965.6 766.6h0M970.7 640.9h0" stroke="#5c2d78" stroke-width="3.0" stroke-linecap="round" fill="none" opacity="0.8"/><rect x="909.7" y="776.3" width="30" height="2.3" fill="#fff" opacity="0.85"/></g>
<g clip-path="url(#c2)"><rect x="1054.20" y="639.00" width="147.60" height="147.60" fill="#ce709e"/><rect x="1054.20" y="639.00" width="147.60" height="147.60" filter="url(#t2)"/><path d="M1083.7 729.8h0M1070.0 772.6h0M1082.6 707.1h0M1168.0 773.0h0M1140.1 739.5h0M1133.4 763.9h0M1087.3 740.0h0M1143.0 707.8h0M1117.8 639.8h0M1137.2 702.6h0M1145.6 705.8h0M1190.5 740.0h0M1149.6 671.5h0M1115.7 778.6h0M1105.9 663.0h0M1110.6 660.2h0M1176.5 738.2h0M1088.0 778.3h0M1121.7 688.3h0M1185.0 662.6h0M1092.9 700.4h0M1181.7 692.5h0M1136.3 663.7h0M1090.8 692.4h0M1159.9 759.4h0M1169.0 660.7h0M1120.8 662.3h0M1163.1 685.5h0M1197.4 760.8h0M1184.5 690.0h0M1195.1 753.3h0M1074.5 781.6h0M1073.2 785.4h0M1097.8 677.6h0M1132.9 644.9h0M1163.6 748.8h0M1065.0 751.6h0M1129.0 713.2h0M1133.3 747.0h0M1199.9 728.4h0M1087.6 745.8h0M1118.1 704.4h0M1104.8 732.4h0M1091.1 760.2h0M1116.2 737.2h0M1097.5 685.0h0M1154.7 690.5h0M1129.2 660.0h0M1153.9 707.2h0M1078.1 712.7h0M1083.5 649.1h0M1089.5 667.8h0M1101.0 645.3h0M1191.4 760.2h0M1154.3 754.8h0M1115.0 651.9h0M1058.1 696.9h0M1192.1 711.9h0M1160.4 756.7h0M1077.9 782.7h0M1184.3 679.4h0M1062.2 776.5h0M1189.1 662.5h0M1101.4 659.9h0M1069.5 740.7h0M1065.9 752.9h0M1086.5 786.6h0M1182.6 766.0h0M1079.5 716.3h0M1059.6 707.5h0M1070.3 752.6h0M1190.3 672.5h0M1171.7 752.7h0M1170.1 748.6h0M1123.4 665.2h0M1064.0 707.6h0M1085.0 642.0h0M1064.9 725.2h0M1126.2 694.7h0M1151.9 703.4h0M1127.2 774.0h0M1133.1 740.9h0M1154.8 700.9h0M1201.3 689.4h0M1103.0 678.6h0M1108.1 760.5h0M1110.1 676.0h0M1145.4 698.1h0M1198.2 661.5h0M1137.5 670.7h0M1195.7 746.3h0M1136.0 687.6h0M1090.7 727.0h0M1193.0 665.2h0M1064.0 650.0h0M1180.6 728.7h0M1082.1 683.7h0M1072.3 739.8h0M1088.9 639.9h0M1093.0 770.1h0M1178.3 682.1h0M1146.5 784.3h0M1058.4 705.6h0M1139.4 659.9h0M1094.0 691.9h0M1113.7 753.5h0M1115.7 690.3h0M1127.6 695.9h0M1161.8 746.1h0M1083.1 780.3h0M1103.1 731.0h0M1179.7 689.2h0M1188.5 740.6h0M1087.7 714.2h0M1106.9 677.2h0M1070.8 671.8h0M1060.9 713.4h0M1176.6 725.3h0M1110.3 746.7h0M1077.9 643.0h0" stroke="#5c2d78" stroke-width="3.0" stroke-linecap="round" fill="none" opacity="0.8"/><ellipse cx="1144.7" cy="700.5" rx="6" ry="7.5" fill="#f3e6ec"/><circle cx="1144.2" cy="701" r="2.5" fill="#c8305a" opacity="0.7"/><rect x="1061.7" y="776.3" width="30" height="2.3" fill="#fff" opacity="0.85"/></g>
<g clip-path="url(#c3)"><rect x="1206.00" y="639.00" width="147.60" height="147.60" fill="#b4488c"/><rect x="1206.00" y="639.00" width="147.60" height="147.60" filter="url(#t3)"/><path d="M1268.1 722.4h0M1288.4 725.9h0M1324.2 781.7h0M1305.3 758.4h0M1290.2 708.6h0M1329.7 786.0h0M1290.5 732.1h0M1215.2 766.2h0M1300.7 732.5h0M1230.3 724.8h0M1295.4 662.1h0M1266.7 748.8h0M1321.1 744.2h0M1305.5 779.4h0M1322.8 649.1h0M1259.5 644.2h0M1340.1 740.7h0M1238.4 665.5h0M1239.6 728.8h0M1277.0 640.0h0M1302.4 681.3h0M1248.4 786.4h0M1339.4 768.3h0M1337.2 723.0h0M1214.2 694.6h0M1295.7 776.4h0M1254.2 649.7h0M1346.9 744.8h0M1329.8 711.3h0M1249.8 686.2h0M1226.5 693.2h0M1289.0 781.2h0M1348.1 710.8h0M1237.7 781.1h0M1207.3 649.8h0M1305.9 727.7h0M1351.0 739.7h0M1325.8 769.2h0M1346.6 769.6h0M1280.9 733.5h0M1319.5 642.6h0M1283.4 699.4h0M1322.3 667.7h0M1329.4 671.8h0M1274.1 720.2h0M1252.1 745.5h0M1324.5 785.4h0M1266.3 775.3h0M1294.2 757.0h0M1232.5 705.8h0M1318.5 733.0h0M1233.3 726.0h0M1319.4 764.3h0M1211.6 652.5h0M1251.2 639.5h0M1334.2 758.7h0M1321.9 721.9h0M1252.8 707.2h0M1216.2 760.0h0M1236.1 749.6h0M1255.7 662.3h0M1262.5 685.1h0M1344.9 644.6h0M1258.1 701.6h0M1281.3 640.4h0M1324.2 693.0h0M1300.4 673.9h0M1244.2 681.2h0M1253.3 769.2h0M1234.2 640.1h0M1347.9 669.9h0M1344.8 738.8h0M1335.1 703.5h0M1274.7 755.5h0M1270.9 706.8h0M1220.5 732.8h0M1245.5 767.8h0M1241.1 764.9h0M1304.1 747.7h0M1336.6 759.4h0M1237.2 710.9h0M1329.9 701.4h0M1222.1 683.3h0M1325.8 644.0h0M1346.1 643.8h0M1294.8 673.5h0M1215.0 758.5h0M1330.1 663.4h0M1258.8 668.3h0M1314.3 773.3h0M1333.5 666.1h0M1246.9 726.0h0M1345.3 675.7h0M1316.4 683.9h0M1249.9 723.4h0M1218.6 707.0h0M1225.3 663.6h0M1236.4 748.8h0M1302.7 768.5h0M1286.3 763.5h0" stroke="#5c2d78" stroke-width="3.6" stroke-linecap="round" fill="none" opacity="0.8"/><path d="M1243.3 733.6L1250.5 735.0L1266.7 754.0L1291.4 785.0L1292.0 787.0L1279.0 787.0L1268.6 772.1L1253.3 751.2L1243.8 736.9Z" fill="#ece8ec"/><g transform="translate(1234.0 670.7) rotate(90)"><path d="M0 0L-11 -5.1L-8 -1.9L-14.6 -1.9L-14.6 1.9L-8 1.9L-11 5.1Z" fill="#1fef1f"/></g><g transform="translate(1219.0 683.6) rotate(90)"><path d="M0 0L-11 -5.1L-8 -1.9L-14.6 -1.9L-14.6 1.9L-8 1.9L-11 5.1Z" fill="#1fef1f"/></g><g transform="translate(1272.4 677.9) rotate(90)"><path d="M0 0L-11 -5.1L-8 -1.9L-14.6 -1.9L-14.6 1.9L-8 1.9L-11 5.1Z" fill="#1fef1f"/></g><g transform="translate(1342.6 671.2) rotate(90)"><path d="M0 0L-11 -5.1L-8 -1.9L-14.6 -1.9L-14.6 1.9L-8 1.9L-11 5.1Z" fill="#1fef1f"/></g><g transform="translate(1342.4 707.4) rotate(90)"><path d="M0 0L-11 -5.1L-8 -1.9L-14.6 -1.9L-14.6 1.9L-8 1.9L-11 5.1Z" fill="#1fef1f"/></g><g transform="translate(1234.1 686.4) rotate(221)"><path d="M0 0L-11 -5.1L-8 -1.9L-14.6 -1.9L-14.6 1.9L-8 1.9L-11 5.1Z" fill="#1fef1f"/></g><g transform="translate(1224.8 704.5) rotate(220)"><path d="M0 0L-11 -5.1L-8 -1.9L-14.6 -1.9L-14.6 1.9L-8 1.9L-11 5.1Z" fill="#1fef1f"/></g><g transform="translate(1264.0 720.0) rotate(220)"><path d="M0 0L-11 -5.1L-8 -1.9L-14.6 -1.9L-14.6 1.9L-8 1.9L-11 5.1Z" fill="#1fef1f"/></g><g transform="translate(1300.2 742.3) rotate(220)"><path d="M0 0L-11 -5.1L-8 -1.9L-14.6 -1.9L-14.6 1.9L-8 1.9L-11 5.1Z" fill="#1fef1f"/></g><rect x="1213.5" y="776.3" width="30" height="2.3" fill="#fff" opacity="0.85"/></g>
<g clip-path="url(#c4)"><rect x="1359.00" y="639.00" width="147.60" height="147.60" fill="#ba649c"/><rect x="1359.00" y="639.00" width="147.60" height="147.60" filter="url(#t4)"/><path d="M1418.6 668.5h0M1385.4 675.7h0M1471.2 676.1h0M1415.5 740.0h0M1438.5 777.5h0M1431.2 701.2h0M1449.5 671.0h0M1492.1 694.2h0M1416.3 739.7h0M1381.5 736.5h0M1484.5 689.0h0M1498.8 717.0h0M1473.3 708.2h0M1418.4 678.8h0M1360.1 669.1h0M1505.1 717.9h0M1427.2 771.9h0M1448.4 783.2h0M1411.8 670.9h0M1494.9 662.7h0M1475.9 726.9h0M1504.1 778.3h0M1456.5 644.5h0M1362.4 708.9h0M1480.0 651.0h0M1421.8 651.7h0M1404.7 639.8h0M1407.7 716.3h0M1388.6 755.2h0M1367.2 670.2h0M1397.0 698.6h0M1471.7 691.2h0M1461.6 775.1h0M1378.3 766.5h0M1447.5 749.3h0M1448.7 699.3h0M1373.2 660.2h0M1384.7 665.2h0M1380.5 669.6h0M1441.8 752.7h0M1476.8 763.9h0M1376.3 760.4h0M1386.4 649.7h0M1401.5 725.4h0M1366.0 670.9h0M1417.9 760.4h0M1418.0 700.1h0M1413.8 652.7h0M1488.8 775.2h0M1465.5 697.8h0M1424.5 685.0h0M1455.6 735.4h0M1404.9 768.0h0M1465.4 671.3h0M1478.4 738.5h0M1395.9 682.7h0M1469.9 650.8h0M1423.6 781.3h0M1396.8 713.3h0M1492.9 768.1h0M1475.3 717.7h0M1496.2 676.9h0M1489.1 699.4h0M1456.2 729.2h0M1400.7 739.1h0M1448.2 784.7h0M1457.4 704.0h0M1415.1 770.0h0M1410.0 737.5h0M1461.5 781.4h0M1387.5 737.2h0M1384.3 733.5h0M1456.0 748.7h0M1486.9 673.1h0M1486.0 690.0h0M1418.0 655.6h0M1437.5 639.2h0M1404.8 738.2h0M1469.3 663.7h0M1474.8 704.6h0M1389.3 749.5h0M1468.1 708.1h0M1437.4 730.5h0M1452.2 751.9h0M1472.5 668.6h0M1362.0 654.5h0M1404.4 724.7h0M1500.9 700.5h0M1413.5 721.2h0M1499.0 725.8h0M1402.6 750.7h0M1505.4 756.1h0M1417.8 664.4h0M1427.0 658.0h0M1378.3 704.9h0M1484.5 742.6h0M1420.7 779.9h0M1385.4 675.9h0M1399.4 723.5h0M1490.3 695.5h0" stroke="#5c2d78" stroke-width="3.8" stroke-linecap="round" fill="none" opacity="0.8"/><path d="M1455 750l18 0l6 5l0 3.5l-14 0.5l-7 -4z" fill="#f3eff2" stroke="#f3eff2" stroke-width="1.5" stroke-linejoin="round"/><g transform="translate(1379.0 656.9) rotate(27.8)"><path d="M0 0L-11 -5.1L-8 -1.9L-14.6 -1.9L-14.6 1.9L-8 1.9L-11 5.1Z" fill="#1fef1f"/></g><g transform="translate(1410.2 705.0) rotate(27)"><path d="M0 0L-11 -5.1L-8 -1.9L-14.6 -1.9L-14.6 1.9L-8 1.9L-11 5.1Z" fill="#1fef1f"/></g><rect x="1366.5" y="776.3" width="30" height="2.3" fill="#fff" opacity="0.85"/></g>
<g clip-path="url(#c5)"><rect x="902.20" y="792.00" width="147.60" height="147.60" fill="#c86e9e"/><rect x="902.20" y="792.00" width="147.60" height="147.60" filter="url(#t5)"/><path d="M1007.1 925.0h0M904.7 931.0h0M1023.4 800.4h0M1021.2 910.7h0M929.9 935.4h0M955.9 858.6h0M998.7 893.9h0M1012.4 833.1h0M973.6 812.3h0M942.8 864.4h0M913.2 843.5h0M1022.5 818.4h0M966.2 797.5h0M1011.1 806.8h0M929.0 902.0h0M967.5 873.6h0M992.1 865.3h0M964.9 814.6h0M923.2 822.1h0M938.3 839.4h0M1033.8 823.5h0M921.6 831.7h0M921.7 914.4h0M1042.9 905.0h0M1042.9 873.2h0M969.1 848.8h0M998.5 827.3h0M979.5 849.5h0M1000.9 920.6h0M999.3 812.5h0M989.8 899.9h0M981.6 801.7h0M916.1 871.5h0M1008.1 865.0h0M1009.7 873.1h0M1023.7 823.9h0M1024.9 902.5h0M919.1 825.3h0M945.5 908.0h0M996.4 802.0h0" stroke="#5c2d78" stroke-width="6.8" stroke-linecap="round" fill="none" opacity="0.8"/><path d="M1000.2 900l9 3l-4 12l-5 -2z" fill="#f6f0f3"/><rect x="909.7" y="929.3" width="30" height="2.3" fill="#fff" opacity="0.85"/></g>
<g clip-path="url(#c6)"><rect x="1054.20" y="792.00" width="147.60" height="147.60" fill="#cc6e9c"/><rect x="1054.20" y="792.00" width="147.60" height="147.60" filter="url(#t6)"/><path d="M1058.7 920.1h0M1160.8 794.6h0M1135.4 827.2h0M1184.3 918.0h0M1098.7 880.3h0M1127.3 833.5h0M1118.1 850.3h0M1123.2 932.5h0M1162.1 797.7h0M1106.2 934.9h0M1166.5 881.5h0M1149.6 893.0h0M1078.5 852.0h0M1095.2 820.3h0M1155.9 797.3h0M1080.6 896.8h0M1186.2 836.7h0M1180.1 914.9h0M1076.9 927.0h0M1079.0 861.6h0M1066.5 806.0h0M1152.2 916.0h0M1070.8 840.3h0M1144.4 879.7h0M1074.8 894.4h0M1069.7 929.7h0M1152.6 889.8h0M1190.5 826.8h0M1083.8 884.4h0M1186.2 929.5h0M1171.5 880.9h0M1107.2 908.3h0M1148.0 921.6h0M1165.7 864.4h0M1149.7 822.0h0M1096.1 904.9h0M1158.3 796.1h0M1084.5 853.9h0M1138.5 843.9h0M1109.5 931.6h0M1111.2 857.6h0M1192.7 840.2h0M1132.1 816.8h0M1179.6 913.5h0" stroke="#5c2d78" stroke-width="6.4" stroke-linecap="round" fill="none" opacity="0.8"/><ellipse cx="1139.2" cy="799" rx="13" ry="9.5" fill="#f6f0f3"/><circle cx="1134.2" cy="795" r="3" fill="#c8305a" opacity="0.6"/><rect x="1061.7" y="929.3" width="30" height="2.3" fill="#fff" opacity="0.85"/></g>
<g clip-path="url(#c7)"><rect x="1206.00" y="792.00" width="147.60" height="147.60" fill="#b44a8e"/><rect x="1206.00" y="792.00" width="147.60" height="147.60" filter="url(#t7)"/><path d="M1282.0 819.8h0M1346.7 885.8h0M1293.0 930.8h0M1219.5 909.0h0M1238.9 829.1h0M1253.4 901.1h0M1344.9 896.2h0M1252.8 811.0h0M1248.3 824.1h0M1280.1 867.1h0M1223.1 822.8h0M1335.7 895.5h0M1220.0 920.0h0M1272.3 848.7h0M1324.8 893.6h0M1270.4 848.7h0M1286.3 915.1h0M1310.5 805.0h0M1210.4 844.8h0M1248.7 906.9h0M1295.7 812.5h0M1268.2 877.1h0M1276.9 830.1h0M1307.8 833.5h0M1352.7 847.9h0M1280.1 910.6h0M1257.9 925.0h0M1287.6 872.0h0M1241.0 840.7h0M1283.8 912.9h0" stroke="#5c2d78" stroke-width="8.4" stroke-linecap="round" fill="none" opacity="0.8"/><g transform="translate(1254.3 832.1) rotate(135.5)"><path d="M0 0L-11 -5.1L-8 -1.9L-14.6 -1.9L-14.6 1.9L-8 1.9L-11 5.1Z" fill="#1fef1f"/></g><g transform="translate(1331.9 844.2) rotate(135)"><path d="M0 0L-11 -5.1L-8 -1.9L-14.6 -1.9L-14.6 1.9L-8 1.9L-11 5.1Z" fill="#1fef1f"/></g><g transform="translate(1248.1 855.9) rotate(218)"><path d="M0 0L-11 -5.1L-8 -1.9L-14.6 -1.9L-14.6 1.9L-8 1.9L-11 5.1Z" fill="#1fef1f"/></g><g transform="translate(1229.3 861.0) rotate(219)"><path d="M0 0L-11 -5.1L-8 -1.9L-14.6 -1.9L-14.6 1.9L-8 1.9L-11 5.1Z" fill="#1fef1f"/></g><g transform="translate(1230.3 892.0) rotate(220)"><path d="M0 0L-11 -5.1L-8 -1.9L-14.6 -1.9L-14.6 1.9L-8 1.9L-11 5.1Z" fill="#1fef1f"/></g><g transform="translate(1308.6 917.0) rotate(137)"><path d="M0 0L-11 -5.1L-8 -1.9L-14.6 -1.9L-14.6 1.9L-8 1.9L-11 5.1Z" fill="#1fef1f"/></g><rect x="1213.5" y="929.3" width="30" height="2.3" fill="#fff" opacity="0.85"/></g>
<g clip-path="url(#c8)"><rect x="1359.00" y="792.00" width="147.60" height="147.60" fill="#be6ea2"/><rect x="1359.00" y="792.00" width="147.60" height="147.60" filter="url(#t8)"/><path d="M1365.6 884.1h0M1442.3 806.5h0M1363.4 930.8h0M1419.2 836.2h0M1457.6 929.9h0M1404.8 932.4h0M1405.2 933.8h0M1463.2 810.3h0M1495.2 807.9h0M1372.3 879.4h0M1503.1 795.2h0M1499.4 900.1h0M1464.0 847.0h0M1414.6 833.8h0M1433.6 829.7h0M1373.3 846.7h0M1367.8 898.0h0M1389.2 833.7h0M1422.4 898.4h0M1482.3 913.9h0M1396.3 912.6h0M1495.6 876.4h0M1497.6 887.4h0M1394.9 825.2h0M1477.0 820.9h0M1499.4 935.7h0M1469.1 813.8h0M1370.9 917.4h0M1391.5 834.9h0M1443.1 892.2h0M1421.3 855.8h0M1444.0 874.2h0M1449.9 847.8h0M1359.9 807.9h0" stroke="#5c2d78" stroke-width="8.4" stroke-linecap="round" fill="none" opacity="0.8"/><g transform="translate(1431.0 862.0) rotate(28)"><path d="M0 0L-11 -5.1L-8 -1.9L-14.6 -1.9L-14.6 1.9L-8 1.9L-11 5.1Z" fill="#1fef1f"/></g><ellipse cx="1434" cy="886" rx="4.5" ry="4.5" fill="#f6f0f3"/><circle cx="1435.5" cy="886" r="2.6" fill="#3a1a40"/><rect x="1366.5" y="929.3" width="30" height="2.3" fill="#fff" opacity="0.85"/></g>
<text x="-1.94" y="1068.60" font-size="37.5" text-anchor="start" fill="#000" font-weight="bold" textLength="25.66" lengthAdjust="spacingAndGlyphs" stroke="#000" stroke-width="1.4" stroke-linejoin="round">h</text>
<text x="314.30" y="1078.20" font-size="26" text-anchor="start" fill="#000" textLength="71.40" lengthAdjust="spacingAndGlyphs" >Sham</text>
<text x="585.20" y="1078.20" font-size="26" text-anchor="start" fill="#000" textLength="128.00" lengthAdjust="spacingAndGlyphs" >PHx (48 h)</text>
<text x="884.60" y="1078.20" font-size="26" text-anchor="start" fill="#000" textLength="126.80" lengthAdjust="spacingAndGlyphs" >PHx (72 h)</text>
<line x1="219.30" y1="1089.60" x2="481.10" y2="1089.60" stroke="#333" stroke-width="1.5" />
<line x1="517.90" y1="1089.60" x2="779.30" y2="1089.60" stroke="#333" stroke-width="1.5" />
<line x1="816.40" y1="1089.60" x2="1078.60" y2="1089.60" stroke="#333" stroke-width="1.5" />
<text x="235.70" y="1126.10" font-size="26" text-anchor="start" fill="#000" textLength="71.40" lengthAdjust="spacingAndGlyphs" ><tspan font-style="italic">Lifr</tspan><tspan font-size="18.2" dy="-13.0">fl/fl</tspan></text>
<text x="332.90" y="1126.10" font-size="26" text-anchor="start" fill="#000" textLength="177.10" lengthAdjust="spacingAndGlyphs" ><tspan font-style="italic">Lifr</tspan><tspan font-size="18.2" dy="-13.0">fl/fl</tspan><tspan dy="13.0">;Alb-Cre</tspan></text>
<text x="535.70" y="1126.10" font-size="26" text-anchor="start" fill="#000" textLength="71.10" lengthAdjust="spacingAndGlyphs" ><tspan font-style="italic">Lifr</tspan><tspan font-size="18.2" dy="-13.0">fl/fl</tspan></text>
<text x="632.90" y="1126.10" font-size="26" text-anchor="start" fill="#000" textLength="176.70" lengthAdjust="spacingAndGlyphs" ><tspan font-style="italic">Lifr</tspan><tspan font-size="18.2" dy="-13.0">fl/fl</tspan><tspan dy="13.0">;Alb-Cre</tspan></text>
<text x="834.30" y="1126.10" font-size="26" text-anchor="start" fill="#000" textLength="71.40" lengthAdjust="spacingAndGlyphs" ><tspan font-style="italic">Lifr</tspan><tspan font-size="18.2" dy="-13.0">fl/fl</tspan></text>
<text x="931.80" y="1126.10" font-size="26" text-anchor="start" fill="#000" textLength="176.80" lengthAdjust="spacingAndGlyphs" ><tspan font-style="italic">Lifr</tspan><tspan font-size="18.2" dy="-13.0">fl/fl</tspan><tspan dy="13.0">;Alb-Cre</tspan></text>
<text font-size="26" text-anchor="start" fill="#000" textLength="121.40" lengthAdjust="spacingAndGlyphs" transform="translate(187.50 1265.70) rotate(-90)" >Ki67 (LPF)</text>
<text font-size="26" text-anchor="start" fill="#000" textLength="126.80" lengthAdjust="spacingAndGlyphs" transform="translate(187.50 1416.40) rotate(-90)" >Ki67 (HPF)</text>
<g clip-path="url(#c9)"><rect x="198.90" y="1134.30" width="143.70" height="140.50" fill="#cccdda"/><rect x="198.90" y="1134.30" width="143.70" height="140.50" filter="url(#t9)"/><path d="M333.2 1173.8h0M269.7 1237.7h0M266.5 1205.9h0M288.9 1138.4h0M288.1 1240.1h0M225.1 1201.3h0M268.6 1247.1h0M335.0 1240.9h0M216.0 1247.8h0M250.9 1152.1h0M337.3 1186.0h0M224.0 1201.9h0M339.3 1192.9h0M220.4 1207.2h0M269.1 1213.1h0M240.7 1138.3h0M299.6 1231.9h0M265.8 1140.4h0M335.0 1183.5h0M286.7 1237.6h0M267.2 1263.8h0M329.3 1172.1h0M201.4 1179.5h0M290.0 1263.5h0M321.4 1164.1h0M251.9 1135.4h0M289.8 1201.5h0M318.8 1138.1h0M216.4 1233.3h0M206.6 1200.2h0M236.3 1235.6h0M211.1 1171.9h0M264.9 1244.7h0M339.5 1198.8h0M218.6 1186.0h0M215.1 1260.5h0M304.7 1191.8h0M265.2 1163.1h0M300.3 1210.1h0M218.8 1177.6h0M302.4 1217.6h0M273.5 1234.5h0M217.0 1229.2h0M205.2 1179.5h0M312.0 1248.8h0M282.0 1272.5h0M208.1 1216.0h0M237.7 1142.1h0M244.9 1175.8h0M310.6 1231.4h0M337.6 1231.0h0M315.0 1197.8h0M294.4 1201.0h0M200.6 1261.4h0M200.4 1178.6h0M227.5 1268.6h0M256.8 1141.0h0M236.0 1253.2h0M220.2 1211.2h0M228.0 1201.3h0M284.2 1270.0h0M224.2 1247.3h0M330.9 1265.4h0M287.7 1257.1h0M262.7 1226.2h0M292.5 1208.5h0M209.6 1200.1h0M201.9 1196.9h0M328.0 1149.6h0M336.7 1272.8h0M337.1 1172.7h0M329.9 1183.1h0M318.2 1153.3h0M313.5 1234.2h0M264.0 1147.9h0M258.7 1137.5h0M259.8 1147.9h0M202.6 1140.5h0M320.0 1171.5h0M258.5 1178.8h0M311.7 1219.2h0M319.1 1196.4h0M203.3 1239.9h0M226.1 1205.2h0M210.1 1229.8h0M214.3 1195.7h0M274.9 1141.0h0M266.5 1248.1h0M285.8 1233.5h0M236.9 1204.2h0M319.9 1149.4h0M205.7 1155.4h0M285.3 1167.9h0M281.0 1231.0h0M233.7 1207.6h0M307.7 1156.2h0M254.3 1175.1h0M340.4 1274.3h0M243.5 1157.1h0M237.2 1177.2h0M215.8 1230.5h0M245.4 1194.9h0M324.9 1201.6h0M340.3 1201.2h0M221.4 1206.1h0M203.4 1202.7h0M221.9 1182.9h0M216.5 1157.5h0M292.5 1188.7h0M330.1 1260.0h0M222.5 1173.1h0M240.2 1153.2h0M240.8 1267.2h0M340.1 1139.9h0M261.9 1153.4h0M270.5 1242.8h0M225.8 1223.3h0M219.3 1188.2h0M268.1 1139.4h0M262.8 1219.8h0" stroke="#8a92bc" stroke-width="3.2" stroke-linecap="round" fill="none" opacity="0.45"/><path d="M306.3 1150.7h0M327.0 1205.3h0M234.7 1180.7h0M341.9 1254.5h0" stroke="#5c2e18" stroke-width="3.6" stroke-linecap="round" fill="none" opacity="0.92"/><rect x="206.4" y="1264.5" width="30" height="2.3" fill="#fff" opacity="0.85"/></g>
<g clip-path="url(#c10)"><rect x="348.60" y="1134.30" width="143.70" height="140.50" fill="#c9d0e0"/><rect x="348.60" y="1134.30" width="143.70" height="140.50" filter="url(#t10)"/><path d="M472.5 1173.9h0M450.6 1179.0h0M481.1 1227.9h0M359.4 1274.4h0M382.9 1262.3h0M356.8 1247.4h0M455.3 1170.1h0M452.4 1246.9h0M380.7 1203.7h0M375.3 1187.5h0M355.9 1230.3h0M395.2 1251.9h0M387.7 1265.2h0M482.6 1246.2h0M468.2 1240.6h0M430.1 1200.1h0M391.0 1155.0h0M416.8 1153.7h0M457.7 1136.4h0M418.2 1236.9h0M428.1 1167.9h0M423.4 1159.6h0M416.3 1212.7h0M456.8 1245.5h0M359.4 1144.3h0M358.0 1266.4h0M371.2 1231.9h0M469.2 1243.0h0M352.6 1141.8h0M481.2 1209.9h0M436.5 1215.4h0M441.3 1252.5h0M484.8 1175.8h0M351.5 1268.3h0M478.7 1206.9h0M464.2 1268.3h0M424.5 1225.5h0M486.4 1153.9h0M388.6 1207.0h0M461.3 1161.3h0M436.3 1170.6h0M452.5 1195.7h0M450.1 1263.3h0M426.6 1169.5h0M376.0 1168.2h0M455.6 1178.5h0M364.2 1144.5h0M471.5 1236.9h0M377.9 1160.0h0M428.5 1213.6h0M462.9 1193.2h0M490.4 1155.0h0M354.5 1154.1h0M376.1 1172.3h0M398.8 1252.4h0M454.8 1195.3h0M408.1 1193.0h0M490.3 1234.3h0M422.8 1229.0h0M444.0 1181.6h0M351.2 1168.5h0M482.2 1138.2h0M387.6 1139.8h0M448.6 1233.0h0M466.5 1204.1h0M431.0 1259.5h0M427.1 1222.0h0M388.8 1163.6h0M453.3 1183.5h0M442.3 1165.3h0M393.3 1199.8h0M371.3 1176.7h0M357.9 1224.0h0M443.1 1253.3h0M393.5 1268.5h0M377.8 1149.0h0M480.5 1165.9h0M375.7 1209.8h0M444.5 1152.3h0M478.8 1247.7h0M425.3 1232.0h0M478.5 1233.8h0M453.6 1152.3h0M413.9 1212.3h0M391.2 1186.4h0M455.8 1185.3h0M393.2 1187.3h0M389.4 1176.9h0M489.2 1202.6h0M471.2 1135.3h0M410.6 1250.3h0M352.7 1242.7h0M485.4 1157.8h0M449.3 1219.1h0M422.6 1210.0h0M423.9 1208.5h0M487.2 1235.6h0M460.0 1267.9h0M433.5 1261.5h0M427.8 1180.2h0M386.3 1253.2h0M446.9 1189.7h0M417.3 1199.1h0M400.1 1154.8h0M415.6 1207.1h0M450.0 1157.4h0M361.6 1258.2h0M411.2 1239.1h0M486.0 1149.2h0M470.3 1190.1h0M461.9 1255.7h0M466.8 1234.5h0M437.6 1144.1h0M484.9 1271.0h0M471.4 1143.1h0M479.7 1239.3h0M376.6 1144.0h0M433.5 1259.9h0M400.0 1158.2h0M469.8 1267.7h0" stroke="#8a92bc" stroke-width="3.2" stroke-linecap="round" fill="none" opacity="0.45"/><path d="M461.0 1213.3h0M398.3 1136.7h0M478.6 1165.2h0M471.9 1243.3h0M391.0 1228.6h0M484.4 1154.9h0M363.7 1249.3h0M461.9 1193.8h0" stroke="#5c2e18" stroke-width="3.6" stroke-linecap="round" fill="none" opacity="0.92"/><rect x="356.1" y="1264.5" width="30" height="2.3" fill="#fff" opacity="0.85"/></g>
<g clip-path="url(#c11)"><rect x="499.30" y="1134.30" width="143.70" height="140.50" fill="#c7cfe0"/><rect x="499.30" y="1134.30" width="143.70" height="140.50" filter="url(#t11)"/><path d="M638.0 1210.0h0M578.8 1201.0h0M526.5 1139.6h0M556.5 1205.1h0M610.7 1182.0h0M638.7 1150.1h0M593.7 1138.3h0M530.9 1152.2h0M639.9 1229.7h0M578.9 1255.5h0M636.2 1187.3h0M623.1 1175.0h0M600.5 1250.7h0M553.6 1226.5h0M604.2 1146.7h0M608.8 1161.8h0M540.9 1168.2h0M540.2 1266.9h0M561.6 1254.7h0M519.0 1169.1h0M501.0 1200.8h0M635.9 1207.4h0M602.7 1157.3h0M507.9 1165.7h0M636.2 1232.3h0M632.9 1243.2h0M536.8 1161.2h0M587.3 1154.2h0M568.9 1209.9h0M535.6 1270.7h0M507.7 1264.2h0M505.1 1270.3h0M558.3 1155.6h0M589.1 1233.8h0M556.3 1201.2h0M595.2 1172.7h0M544.2 1232.5h0M564.8 1251.5h0M563.4 1236.3h0M577.7 1167.8h0M551.7 1212.7h0M567.2 1233.3h0M596.2 1231.9h0M534.3 1256.1h0M630.7 1184.6h0M628.9 1201.2h0M538.3 1143.1h0M598.0 1231.0h0M594.0 1193.8h0M513.1 1134.8h0M588.2 1226.2h0M636.2 1247.5h0M578.0 1271.7h0M501.2 1265.9h0M573.0 1199.9h0M587.8 1183.8h0M571.6 1258.0h0M598.6 1262.6h0M570.1 1160.2h0M569.3 1239.6h0M544.2 1221.7h0M595.8 1185.3h0M499.4 1233.9h0M542.5 1273.0h0M501.1 1233.1h0M583.5 1258.7h0M620.5 1257.3h0M603.7 1226.7h0M604.8 1237.4h0M568.3 1186.9h0M523.8 1189.6h0M574.2 1260.8h0M533.7 1259.2h0M611.4 1183.7h0M596.0 1271.7h0M626.4 1240.8h0M547.7 1188.1h0M555.6 1173.6h0M564.5 1251.4h0M604.8 1174.0h0M594.0 1216.2h0M513.4 1167.2h0M536.2 1145.5h0M598.1 1223.6h0M551.8 1265.6h0M557.8 1161.1h0M560.8 1192.8h0M524.9 1183.8h0M600.3 1222.2h0M512.8 1227.3h0M584.6 1148.0h0M540.3 1234.4h0M613.0 1244.6h0M547.4 1258.3h0M576.2 1226.3h0M541.2 1179.4h0M519.5 1152.6h0M600.7 1146.7h0M594.2 1193.4h0M545.2 1197.7h0M621.7 1219.3h0M562.3 1216.4h0M582.1 1138.8h0M531.8 1258.5h0M615.6 1231.6h0M637.6 1231.2h0M592.5 1256.6h0M524.0 1196.3h0M609.9 1158.7h0M593.2 1144.6h0M509.4 1182.7h0M601.2 1245.2h0M563.6 1228.6h0M555.2 1181.0h0M526.1 1190.1h0M634.8 1222.0h0M563.2 1214.0h0M586.6 1238.1h0M573.6 1210.3h0M541.6 1239.4h0" stroke="#8a92bc" stroke-width="3.2" stroke-linecap="round" fill="none" opacity="0.45"/><path d="M631.2 1217.7h0M513.5 1186.1h0M593.5 1159.9h0M625.5 1152.5h0M630.4 1238.8h0M582.9 1214.1h0M627.9 1203.0h0M630.3 1272.6h0M515.9 1263.1h0M573.6 1253.4h0M520.6 1249.4h0M568.9 1232.5h0M555.3 1148.6h0M581.1 1263.6h0M552.7 1181.2h0M602.1 1197.5h0M501.5 1190.7h0M528.4 1254.4h0M597.6 1222.5h0M566.1 1173.3h0M561.0 1243.0h0M547.8 1230.2h0M532.3 1177.7h0M640.5 1174.3h0M542.0 1205.6h0M613.2 1265.4h0M537.8 1271.8h0M571.0 1161.6h0M505.9 1155.9h0M549.3 1188.0h0M588.9 1252.1h0M639.2 1272.0h0M602.5 1224.4h0M614.4 1264.1h0M545.3 1209.0h0M511.6 1235.2h0M638.5 1268.6h0M575.0 1217.3h0M614.8 1170.7h0M626.1 1182.3h0M617.7 1194.0h0M585.7 1263.1h0M511.3 1240.7h0M534.3 1219.7h0M546.9 1205.3h0M519.0 1232.4h0M613.2 1165.4h0M588.8 1265.8h0M562.1 1171.5h0M511.6 1198.9h0M628.8 1268.1h0M557.9 1231.4h0M504.2 1177.2h0M618.2 1259.2h0M592.8 1171.4h0M563.5 1162.9h0M506.8 1212.1h0M601.2 1193.9h0M515.3 1253.9h0M622.7 1192.0h0M506.8 1180.0h0M572.2 1147.8h0M615.2 1134.6h0M636.5 1232.2h0M513.2 1262.9h0M551.4 1167.7h0M636.9 1146.0h0M579.1 1190.3h0M563.9 1206.6h0M546.0 1183.6h0M613.2 1159.8h0M615.4 1193.6h0M625.0 1254.3h0M520.7 1234.9h0M519.7 1235.7h0M589.6 1239.2h0M501.6 1155.9h0M616.6 1150.5h0M576.4 1148.9h0M518.5 1270.8h0M584.3 1205.5h0M609.3 1154.0h0M531.8 1218.7h0M630.9 1208.7h0M638.6 1151.2h0M587.5 1215.0h0M574.5 1247.0h0M571.3 1272.3h0M513.5 1134.9h0M520.1 1200.7h0M586.8 1154.3h0M587.2 1170.7h0M517.9 1218.1h0M586.5 1204.5h0M529.6 1158.9h0" stroke="#5c2e18" stroke-width="3.6" stroke-linecap="round" fill="none" opacity="0.92"/><rect x="506.8" y="1264.5" width="30" height="2.3" fill="#fff" opacity="0.85"/></g>
<g clip-path="url(#c12)"><rect x="648.20" y="1134.30" width="143.70" height="140.50" fill="#cbd4e5"/><rect x="648.20" y="1134.30" width="143.70" height="140.50" filter="url(#t12)"/><path d="M657.3 1134.4h0M676.6 1260.1h0M677.4 1236.6h0M758.1 1204.0h0M674.3 1247.5h0M788.6 1191.5h0M726.3 1150.9h0M744.8 1220.7h0M651.7 1242.3h0M734.0 1146.5h0M651.5 1134.7h0M783.9 1247.0h0M766.6 1205.6h0M671.0 1143.3h0M714.3 1244.5h0M703.5 1156.8h0M711.2 1208.4h0M781.7 1160.5h0M710.5 1178.8h0M760.1 1160.5h0M754.6 1249.8h0M719.0 1211.8h0M783.7 1145.3h0M652.3 1182.4h0M729.6 1212.6h0M662.1 1141.5h0M778.4 1247.5h0M682.7 1155.2h0M743.0 1177.7h0M697.2 1137.5h0M785.4 1218.6h0M649.3 1145.4h0M776.7 1225.8h0M686.0 1216.3h0M674.9 1138.2h0M766.1 1178.3h0M701.5 1260.8h0M688.2 1187.6h0M648.7 1196.3h0M776.1 1218.3h0M670.5 1134.7h0M698.2 1246.1h0M732.5 1203.8h0M648.8 1145.5h0M762.0 1152.6h0M755.4 1258.1h0M738.2 1204.4h0M712.5 1233.8h0M788.1 1136.4h0M665.1 1163.9h0M763.5 1211.9h0M729.9 1245.8h0M660.1 1225.3h0M758.3 1214.3h0M711.5 1257.7h0M788.0 1142.7h0M681.9 1266.2h0M683.1 1237.1h0M754.3 1215.5h0M675.8 1228.2h0M779.6 1161.1h0M777.6 1261.9h0M740.1 1222.8h0M656.5 1229.8h0M771.1 1170.4h0M717.9 1220.8h0M754.0 1239.2h0M662.0 1242.2h0M780.4 1257.7h0M717.3 1190.3h0M664.4 1243.6h0M649.4 1183.6h0M677.1 1272.3h0M736.5 1195.4h0M736.5 1247.4h0M657.6 1209.2h0M676.9 1259.9h0M753.6 1229.0h0M715.2 1251.6h0M686.5 1272.2h0M769.8 1168.2h0M752.0 1176.7h0M679.8 1161.5h0M709.5 1229.9h0M720.5 1221.7h0M663.3 1155.0h0M721.1 1265.0h0M723.3 1220.3h0M703.2 1225.6h0M661.0 1264.7h0M723.4 1273.9h0M767.3 1160.9h0M738.8 1150.5h0M672.5 1198.4h0M698.1 1201.4h0M751.4 1274.7h0M753.5 1231.3h0M790.9 1227.1h0M787.0 1215.8h0M791.2 1161.5h0M780.8 1139.6h0M758.3 1202.0h0M788.8 1204.3h0M717.5 1140.5h0M777.5 1235.3h0M720.7 1154.0h0M777.5 1182.5h0M701.9 1201.4h0M672.7 1243.3h0M688.6 1181.0h0M697.5 1190.3h0M756.1 1202.6h0M779.5 1254.3h0M767.2 1168.1h0M747.1 1172.4h0M681.5 1204.7h0M724.9 1258.9h0M656.8 1204.9h0M683.8 1215.4h0M662.0 1264.7h0" stroke="#8a92bc" stroke-width="3.2" stroke-linecap="round" fill="none" opacity="0.45"/><path d="M678.5 1155.8h0M782.8 1151.8h0M681.6 1225.3h0M716.9 1261.3h0M701.6 1160.9h0M719.5 1138.8h0M760.7 1149.2h0M708.3 1153.0h0M688.9 1225.5h0M657.6 1254.2h0M676.1 1145.6h0M766.0 1240.8h0M760.3 1219.4h0M700.2 1158.5h0M738.2 1228.8h0M739.3 1162.5h0M779.7 1249.9h0M694.0 1220.0h0M765.8 1241.0h0M733.9 1256.7h0M736.1 1195.6h0M754.1 1164.2h0M780.2 1150.3h0M698.9 1274.0h0M757.3 1266.5h0M702.2 1214.5h0M730.8 1183.2h0M756.6 1267.2h0M775.4 1174.1h0M690.2 1209.0h0M664.0 1150.4h0M740.7 1215.9h0M767.4 1208.0h0M705.2 1139.1h0M741.1 1266.1h0M731.0 1207.8h0M743.5 1165.4h0M727.9 1211.8h0M777.2 1171.9h0M653.7 1234.9h0M750.5 1252.3h0M715.1 1224.7h0M746.3 1150.7h0M669.9 1272.0h0M777.4 1148.7h0M750.0 1170.8h0M729.3 1257.8h0M684.9 1172.1h0M766.9 1209.8h0M769.3 1202.9h0M755.2 1218.8h0M693.8 1264.0h0M773.1 1144.8h0M725.9 1266.3h0M715.6 1252.2h0M759.6 1261.2h0M659.2 1242.1h0M649.1 1209.2h0M719.0 1216.7h0M693.1 1185.7h0M742.1 1235.3h0M776.3 1240.0h0M772.3 1236.2h0M744.2 1231.1h0M662.2 1194.1h0M756.1 1206.9h0M762.0 1151.5h0M765.4 1183.6h0M784.7 1204.9h0M671.6 1181.2h0M670.3 1163.6h0M673.8 1154.5h0M668.5 1145.7h0M683.5 1254.1h0M735.5 1245.6h0M712.1 1157.9h0M787.2 1257.7h0M785.9 1243.6h0M776.1 1200.2h0M733.7 1253.4h0M720.9 1152.4h0M741.3 1255.1h0M706.8 1155.4h0M691.5 1250.2h0M719.6 1273.5h0" stroke="#5c2e18" stroke-width="3.6" stroke-linecap="round" fill="none" opacity="0.92"/><rect x="655.7" y="1264.5" width="30" height="2.3" fill="#fff" opacity="0.85"/></g>
<g clip-path="url(#c13)"><rect x="798.90" y="1134.30" width="143.70" height="140.50" fill="#d1c9d2"/><rect x="798.90" y="1134.30" width="143.70" height="140.50" filter="url(#t13)"/><path d="M802.7 1267.3h0M800.8 1179.0h0M914.6 1248.6h0M831.3 1202.5h0M800.4 1208.8h0M867.8 1266.5h0M890.0 1166.7h0M921.1 1155.4h0M846.0 1264.5h0M876.5 1230.9h0M893.8 1201.0h0M861.5 1225.6h0M804.7 1155.6h0M881.4 1188.0h0M847.5 1207.7h0M929.8 1195.9h0M888.4 1226.8h0M928.0 1245.4h0M862.9 1177.3h0M876.7 1196.6h0M925.3 1185.7h0M922.7 1219.7h0M896.2 1142.5h0M816.0 1250.6h0M808.4 1170.0h0M931.9 1160.3h0M858.6 1152.6h0M837.2 1255.6h0M921.2 1155.2h0M867.6 1260.1h0M910.1 1159.0h0M853.6 1248.9h0M861.0 1172.3h0M863.8 1250.8h0M833.8 1217.9h0M921.6 1263.2h0M917.1 1189.9h0M861.6 1175.9h0M828.2 1243.0h0M809.4 1251.8h0M885.3 1143.1h0M881.0 1171.8h0M843.4 1160.6h0M854.4 1195.6h0M907.3 1270.6h0M920.5 1274.2h0M900.7 1248.7h0M863.5 1264.3h0M896.7 1248.3h0M842.8 1251.6h0M858.8 1176.8h0M881.8 1199.3h0M862.9 1268.9h0M818.1 1200.8h0M848.5 1221.6h0M880.4 1174.7h0M898.7 1268.2h0M861.7 1228.7h0M858.1 1199.3h0M882.8 1256.8h0M908.6 1196.2h0M878.3 1236.0h0M849.4 1179.2h0M839.0 1263.5h0M804.0 1260.0h0M881.9 1148.4h0M859.6 1177.4h0M816.6 1175.5h0M880.7 1140.5h0M807.2 1141.8h0M855.5 1251.9h0M809.1 1236.3h0M888.8 1190.6h0M817.5 1218.8h0M809.3 1204.2h0M861.0 1255.3h0M850.4 1202.0h0M814.1 1264.2h0M927.1 1168.3h0M907.1 1194.2h0M939.0 1242.0h0M921.3 1262.1h0M808.8 1205.4h0M851.9 1252.0h0M919.5 1154.0h0M937.6 1154.8h0M861.2 1240.7h0M886.2 1244.5h0M873.3 1173.0h0M898.5 1186.7h0M885.7 1193.7h0M847.4 1149.8h0M823.2 1272.1h0M890.1 1177.4h0M820.5 1243.3h0M827.4 1186.2h0M884.0 1266.7h0M851.5 1162.2h0M871.2 1262.0h0M841.0 1237.9h0M909.0 1255.7h0M891.0 1159.7h0M884.6 1264.7h0M889.4 1273.4h0M799.6 1153.7h0M867.2 1162.7h0M798.9 1137.8h0M834.5 1243.0h0M940.0 1254.7h0M864.9 1177.2h0M851.1 1238.7h0M894.5 1244.6h0M824.2 1259.9h0M920.2 1255.3h0M895.5 1183.0h0M930.9 1262.8h0M902.5 1204.3h0M828.8 1137.3h0M921.5 1215.5h0M868.0 1250.9h0" stroke="#8a92bc" stroke-width="3.2" stroke-linecap="round" fill="none" opacity="0.45"/><path d="M822.7 1184.0h0M803.7 1213.9h0M927.8 1255.6h0M901.9 1223.8h0M832.5 1165.2h0M932.6 1190.5h0M819.1 1199.7h0M870.2 1225.3h0M893.1 1208.8h0M924.2 1185.1h0M845.2 1238.3h0M827.8 1146.8h0M817.5 1254.5h0M919.6 1192.7h0M915.4 1242.6h0M939.0 1207.5h0M848.5 1169.8h0M904.1 1135.2h0M894.5 1271.0h0M813.0 1164.0h0M920.8 1189.1h0M855.4 1164.6h0M852.4 1249.9h0M809.7 1135.0h0M814.7 1273.7h0M935.6 1203.1h0M907.0 1216.8h0M915.5 1248.5h0M828.9 1259.3h0M869.6 1215.7h0M820.4 1261.6h0M820.1 1193.6h0M836.3 1150.9h0M828.0 1194.0h0M806.5 1241.0h0M924.2 1168.9h0M803.5 1198.0h0M815.9 1229.4h0M839.8 1191.1h0M883.0 1199.8h0M821.2 1230.4h0M850.7 1242.6h0M849.2 1147.2h0M922.1 1211.5h0M866.3 1227.2h0M808.0 1258.8h0M906.6 1176.2h0M864.9 1174.6h0M939.3 1251.2h0M839.8 1157.6h0M864.9 1240.7h0M899.0 1256.1h0M939.5 1255.7h0M913.6 1253.3h0M873.2 1162.9h0M827.3 1231.3h0M904.6 1197.2h0M930.5 1164.0h0M842.9 1135.4h0M827.7 1235.8h0M862.3 1269.2h0M919.6 1178.5h0M810.0 1155.9h0M898.5 1263.7h0M915.2 1238.4h0M932.0 1207.5h0M926.0 1194.5h0M905.4 1231.9h0M891.8 1151.2h0M836.1 1201.3h0M842.6 1254.4h0M926.0 1267.9h0M835.6 1162.8h0M937.8 1241.9h0M802.5 1158.7h0M883.2 1162.6h0M883.6 1176.9h0M871.2 1144.8h0M916.3 1185.5h0M806.3 1214.6h0M876.5 1228.6h0M866.6 1196.4h0M869.2 1161.1h0M808.3 1154.5h0M830.0 1148.4h0M840.4 1262.7h0M852.4 1154.3h0M822.0 1263.8h0M807.6 1178.9h0M808.5 1248.2h0M822.7 1236.7h0M936.0 1235.7h0M885.6 1273.8h0M834.7 1221.3h0M874.1 1256.0h0M814.6 1260.0h0M883.5 1256.0h0M854.5 1249.1h0M856.8 1184.9h0M854.7 1152.3h0M914.6 1203.7h0M900.7 1162.2h0M876.8 1171.8h0M841.8 1138.9h0M891.3 1200.3h0M919.3 1140.0h0M934.7 1160.4h0M830.9 1255.3h0M926.9 1151.9h0M914.3 1197.9h0M835.9 1231.8h0M935.9 1255.7h0M856.6 1150.9h0M812.7 1148.4h0M837.4 1137.2h0M825.8 1198.4h0M806.4 1250.2h0M901.6 1256.7h0M935.1 1156.7h0M941.7 1234.4h0M841.7 1250.2h0M902.1 1156.3h0M869.9 1225.8h0M844.4 1224.4h0M856.6 1240.2h0M883.3 1242.2h0M837.4 1244.6h0M925.9 1229.7h0M831.8 1273.6h0M927.6 1177.4h0M892.5 1231.2h0M906.8 1138.0h0M853.1 1154.5h0M806.5 1227.2h0M883.1 1243.9h0M839.2 1150.5h0M818.3 1194.2h0M911.2 1218.4h0M831.4 1204.9h0M830.4 1244.3h0M932.8 1265.0h0M807.3 1242.9h0M863.5 1188.5h0M844.6 1263.7h0M892.8 1272.1h0M803.7 1149.1h0M918.2 1245.5h0M895.3 1150.7h0M813.7 1170.1h0M897.7 1161.5h0" stroke="#5c2e18" stroke-width="3.6" stroke-linecap="round" fill="none" opacity="0.92"/><rect x="806.4" y="1264.5" width="30" height="2.3" fill="#fff" opacity="0.85"/></g>
<g clip-path="url(#c14)"><rect x="948.20" y="1134.30" width="143.70" height="140.50" fill="#e3d3cb"/><rect x="948.20" y="1134.30" width="143.70" height="140.50" filter="url(#t14)"/><path d="M1053.5 1236.2h0M967.8 1177.6h0M1026.3 1227.9h0M1077.2 1269.8h0M994.4 1246.8h0M1008.4 1163.2h0M952.8 1170.3h0M1053.9 1143.1h0M1007.9 1173.1h0M969.9 1137.4h0M972.8 1209.3h0M1034.0 1161.3h0M1055.9 1274.4h0M1090.7 1148.7h0M987.1 1146.3h0M1060.1 1198.1h0M975.3 1188.7h0M999.8 1185.2h0M966.7 1271.9h0M1027.5 1157.3h0M979.3 1267.1h0M1071.3 1163.7h0M999.7 1135.7h0M1076.7 1171.4h0M964.5 1214.7h0M1027.8 1218.2h0M996.8 1186.0h0M1081.5 1190.5h0M1036.5 1244.3h0M983.9 1168.6h0M958.7 1176.6h0M1044.4 1271.5h0M1044.4 1156.0h0M1004.4 1175.1h0M1000.7 1220.5h0M955.0 1148.1h0M1013.7 1153.8h0M1082.4 1158.6h0M1010.0 1136.6h0M977.9 1243.3h0M1087.4 1269.6h0M1059.6 1265.5h0M1034.6 1210.5h0M1063.1 1174.4h0M1023.6 1158.9h0M1005.1 1137.7h0M1087.1 1245.2h0M1051.9 1163.4h0M1044.4 1212.5h0M970.4 1266.3h0M1037.0 1154.3h0M1014.6 1189.2h0M1036.7 1148.1h0M971.6 1259.7h0M1032.1 1184.6h0M962.2 1161.9h0M983.6 1159.1h0M977.8 1136.5h0M1079.2 1141.4h0M1073.2 1198.9h0M1088.5 1171.8h0M994.9 1212.0h0M1071.9 1222.2h0M1063.1 1169.9h0M1007.7 1228.9h0M962.3 1165.5h0M980.0 1157.0h0M1060.2 1230.8h0M980.0 1204.2h0M1032.7 1267.0h0M997.9 1209.5h0M1045.7 1170.4h0M986.4 1195.0h0M1063.7 1253.7h0M1025.4 1157.6h0M1030.1 1165.5h0M1002.1 1162.6h0M958.7 1271.2h0M966.9 1161.2h0M1054.8 1242.4h0M1045.9 1185.0h0M1060.4 1258.0h0M950.6 1167.7h0M959.2 1214.8h0M961.2 1194.9h0M974.7 1206.9h0M1082.6 1237.9h0M1022.9 1152.3h0M979.0 1181.0h0M953.0 1246.2h0M967.9 1222.1h0M981.0 1270.0h0M1062.8 1209.8h0M962.1 1217.3h0M1047.5 1182.8h0M1083.3 1230.8h0M1084.0 1238.8h0M957.0 1230.1h0M962.3 1272.6h0M1040.9 1230.3h0M1041.5 1258.0h0M964.9 1228.6h0M1040.9 1250.0h0M1069.1 1232.4h0M1032.2 1264.9h0M1061.2 1176.3h0M1013.4 1231.3h0M1068.2 1139.1h0M1004.4 1159.9h0M1041.8 1188.1h0M1017.8 1172.0h0M1083.0 1169.7h0M982.2 1165.3h0M1050.2 1244.0h0M1050.0 1185.0h0M999.7 1202.6h0M1042.2 1164.7h0M1017.9 1235.1h0M991.0 1170.6h0M1052.3 1258.4h0" stroke="#8a92bc" stroke-width="3.2" stroke-linecap="round" fill="none" opacity="0.45"/><path d="M1050.2 1265.8h0M1021.8 1153.7h0M1040.4 1138.5h0M1002.6 1246.3h0M1000.2 1265.6h0M959.5 1163.8h0M995.7 1184.7h0M1091.6 1247.2h0M1043.3 1161.0h0M1012.5 1142.9h0M987.3 1227.6h0M1084.2 1160.1h0M956.5 1199.1h0M1071.0 1272.7h0M1069.8 1209.7h0M1071.6 1182.0h0M956.4 1207.1h0M1013.1 1195.5h0M1031.0 1255.0h0M1077.1 1173.7h0M1057.0 1240.0h0M986.7 1142.3h0M986.8 1253.9h0M989.1 1244.6h0M1023.8 1146.1h0M1081.1 1227.8h0M1058.4 1204.9h0M998.9 1201.2h0M1081.4 1156.2h0M1083.7 1184.6h0M967.2 1169.4h0M960.4 1222.5h0M990.3 1168.4h0M1037.4 1182.2h0M968.2 1150.0h0M989.6 1249.8h0M1071.4 1271.6h0M949.8 1148.2h0M1029.6 1263.8h0M1073.8 1166.8h0M1057.1 1216.4h0M968.1 1151.8h0M1000.2 1212.8h0M1068.8 1201.5h0M1088.0 1181.0h0M969.7 1160.3h0M969.6 1229.2h0M1024.8 1159.4h0M1085.8 1173.3h0M1091.1 1265.9h0M949.9 1134.6h0M1003.5 1184.0h0M1025.0 1227.2h0M1019.7 1221.2h0M955.7 1191.5h0M1074.5 1215.6h0M997.3 1179.3h0M1016.3 1241.5h0M1042.4 1250.1h0M1070.1 1207.0h0M1081.3 1200.8h0M1042.5 1236.6h0M1062.2 1149.2h0M1068.1 1215.6h0M1010.4 1222.9h0M1069.0 1268.8h0M1078.9 1270.0h0M1012.5 1171.4h0M1016.7 1197.7h0M971.6 1258.6h0M1091.6 1142.6h0M1067.1 1160.9h0M1083.8 1212.1h0M997.9 1236.7h0M1080.2 1197.4h0M985.3 1157.4h0M1071.7 1230.8h0M1072.2 1214.3h0M997.2 1255.7h0M1032.5 1230.3h0M948.9 1140.1h0M978.6 1134.9h0M1074.1 1154.1h0M975.4 1202.7h0M1089.0 1217.3h0M996.4 1238.8h0M1038.5 1262.2h0M1086.4 1151.6h0M954.8 1218.5h0M1045.0 1167.5h0" stroke="#5c2e18" stroke-width="3.6" stroke-linecap="round" fill="none" opacity="0.92"/><rect x="955.7" y="1264.5" width="30" height="2.3" fill="#fff" opacity="0.85"/></g>
<g clip-path="url(#c15)"><rect x="198.90" y="1283.20" width="143.70" height="140.50" fill="#c9cfe0"/><rect x="198.90" y="1283.20" width="143.70" height="140.50" filter="url(#t15)"/><path d="M335.6 1369.9h0M333.2 1339.7h0M201.2 1369.9h0M247.3 1407.5h0M290.0 1399.0h0M216.3 1295.2h0M315.0 1317.6h0M321.6 1287.0h0M281.3 1290.8h0M207.2 1411.6h0M306.4 1387.5h0M231.5 1363.7h0M322.5 1356.2h0M328.4 1414.4h0M278.8 1307.4h0M285.3 1409.7h0M247.8 1421.8h0M310.2 1287.0h0M255.0 1369.8h0M290.0 1390.9h0M272.8 1360.2h0M229.5 1392.1h0M313.2 1419.8h0M254.7 1287.3h0M249.6 1339.0h0M224.9 1402.5h0M313.6 1421.9h0M276.1 1383.7h0M213.4 1285.5h0M332.2 1371.6h0M224.8 1414.8h0M232.5 1319.4h0M340.0 1400.8h0M280.5 1391.7h0" stroke="#8a92bc" stroke-width="6.8" stroke-linecap="round" fill="none" opacity="0.45"/><path d="M231.7 1372.6h0" stroke="#5c2e18" stroke-width="7.4" stroke-linecap="round" fill="none" opacity="0.92"/><rect x="206.4" y="1413.4" width="30" height="2.3" fill="#fff" opacity="0.85"/></g>
<g clip-path="url(#c16)"><rect x="348.60" y="1283.20" width="143.70" height="140.50" fill="#c7cfe2"/><rect x="348.60" y="1283.20" width="143.70" height="140.50" filter="url(#t16)"/><path d="M377.6 1401.1h0M400.4 1284.9h0M424.6 1318.6h0M411.6 1335.5h0M471.8 1382.3h0M382.9 1296.5h0M478.5 1305.1h0M432.2 1387.8h0M433.8 1376.8h0M436.5 1311.5h0M413.1 1348.7h0M423.3 1361.1h0M477.1 1348.7h0M428.2 1324.7h0M383.0 1420.3h0M468.9 1367.3h0M399.4 1413.7h0M376.8 1408.9h0M414.4 1324.2h0M368.4 1413.3h0M477.4 1366.7h0M353.5 1330.7h0M376.9 1295.0h0M378.0 1397.7h0M404.9 1396.8h0M450.2 1396.0h0M451.0 1394.3h0M445.5 1407.2h0M393.6 1392.8h0M444.4 1406.3h0M473.0 1289.2h0M387.4 1413.9h0M453.6 1333.0h0M370.2 1292.9h0" stroke="#8a92bc" stroke-width="6.8" stroke-linecap="round" fill="none" opacity="0.45"/><path d="M411.9 1345.0h0M416.2 1308.8h0M428.1 1383.6h0M384.7 1334.2h0" stroke="#5c2e18" stroke-width="7.4" stroke-linecap="round" fill="none" opacity="0.92"/><rect x="356.1" y="1413.4" width="30" height="2.3" fill="#fff" opacity="0.85"/></g>
<g clip-path="url(#c17)"><rect x="499.30" y="1283.20" width="143.70" height="140.50" fill="#c6cfe2"/><rect x="499.30" y="1283.20" width="143.70" height="140.50" filter="url(#t17)"/><path d="M553.4 1297.6h0M627.2 1410.4h0M632.0 1378.8h0M586.5 1329.3h0M557.5 1376.9h0M536.9 1363.1h0M558.6 1315.5h0M552.0 1388.6h0M608.2 1373.5h0M516.3 1283.8h0M550.2 1419.5h0M613.9 1383.6h0M602.6 1319.6h0M573.7 1319.0h0M513.8 1403.3h0M511.4 1362.3h0M620.4 1378.8h0M616.9 1405.3h0M515.6 1288.9h0M641.8 1295.0h0M631.1 1289.5h0M522.3 1318.9h0M577.7 1315.1h0M577.2 1394.8h0M573.6 1314.3h0M515.4 1290.9h0M553.6 1350.6h0M628.1 1329.1h0M634.1 1307.2h0M545.3 1349.4h0M503.2 1305.7h0M576.0 1390.4h0M546.3 1354.6h0M553.1 1403.8h0" stroke="#8a92bc" stroke-width="6.8" stroke-linecap="round" fill="none" opacity="0.45"/><path d="M522.2 1341.8h0M510.4 1406.3h0M608.3 1291.3h0M596.4 1405.3h0M525.8 1287.5h0M608.5 1295.3h0M503.0 1393.6h0M577.0 1328.1h0M568.2 1405.6h0M574.1 1283.4h0M524.6 1403.7h0M526.9 1390.7h0M590.3 1377.6h0M565.5 1298.2h0M521.4 1373.5h0M624.5 1357.5h0M561.0 1301.9h0M566.6 1371.2h0M608.1 1294.5h0M595.1 1390.9h0M513.4 1375.7h0M529.9 1296.5h0M528.9 1418.0h0M623.4 1284.4h0M603.4 1311.3h0M595.0 1328.5h0M524.3 1405.9h0M558.3 1423.0h0M605.5 1317.5h0M556.1 1320.7h0" stroke="#5c2e18" stroke-width="7.4" stroke-linecap="round" fill="none" opacity="0.92"/><rect x="506.8" y="1413.4" width="30" height="2.3" fill="#fff" opacity="0.85"/></g>
<g clip-path="url(#c18)"><rect x="648.20" y="1283.20" width="143.70" height="140.50" fill="#ccd5e6"/><rect x="648.20" y="1283.20" width="143.70" height="140.50" filter="url(#t18)"/><path d="M771.5 1364.1h0M694.5 1321.4h0M791.7 1324.7h0M713.9 1314.0h0M715.4 1315.7h0M754.4 1376.2h0M771.2 1386.9h0M784.5 1390.1h0M697.7 1411.5h0M717.4 1295.7h0M652.8 1344.5h0M678.7 1353.4h0M687.1 1306.1h0M710.9 1416.4h0M678.4 1370.6h0M761.3 1324.8h0M730.3 1411.8h0M700.9 1420.7h0M789.9 1306.5h0M677.3 1413.2h0M670.6 1304.9h0M657.2 1361.1h0M683.6 1348.6h0M704.1 1404.5h0M768.5 1290.3h0M670.9 1383.9h0M686.2 1326.0h0M723.2 1380.8h0M768.2 1418.7h0M674.9 1410.0h0M789.8 1360.7h0M764.9 1377.7h0M738.7 1300.5h0M693.6 1312.9h0" stroke="#8a92bc" stroke-width="6.8" stroke-linecap="round" fill="none" opacity="0.45"/><path d="M705.2 1324.2h0M720.1 1326.5h0M649.5 1360.1h0M786.6 1318.0h0M654.9 1410.3h0M714.5 1346.9h0M677.3 1409.6h0M764.8 1408.4h0M763.1 1315.1h0M699.4 1290.5h0M750.3 1356.8h0M735.0 1358.9h0M761.4 1361.0h0M766.8 1372.5h0M668.2 1336.8h0M787.3 1308.4h0M790.5 1314.7h0M684.2 1333.1h0M731.7 1349.5h0M773.4 1345.3h0M677.1 1418.9h0M783.0 1292.2h0M671.3 1331.3h0M668.7 1414.2h0M694.2 1403.1h0M779.1 1325.6h0" stroke="#5c2e18" stroke-width="7.4" stroke-linecap="round" fill="none" opacity="0.92"/><rect x="655.7" y="1413.4" width="30" height="2.3" fill="#fff" opacity="0.85"/></g>
<g clip-path="url(#c19)"><rect x="798.90" y="1283.20" width="143.70" height="140.50" fill="#d1c9d2"/><rect x="798.90" y="1283.20" width="143.70" height="140.50" filter="url(#t19)"/><path d="M908.8 1316.9h0M855.1 1326.9h0M826.0 1296.6h0M819.7 1379.9h0M831.2 1345.8h0M915.7 1306.2h0M874.9 1365.8h0M818.8 1293.2h0M860.8 1309.1h0M827.4 1421.2h0M813.9 1396.8h0M870.2 1413.1h0M843.1 1408.5h0M845.3 1346.0h0M894.7 1354.9h0M852.6 1319.4h0M810.6 1289.2h0M880.5 1343.5h0M881.4 1411.0h0M939.6 1371.1h0M867.0 1300.4h0M815.5 1418.5h0M929.1 1420.1h0M829.6 1375.5h0M909.1 1291.5h0M869.2 1286.7h0M921.1 1286.2h0M849.1 1359.5h0M824.1 1288.6h0M918.9 1355.8h0M916.8 1420.1h0M908.4 1419.9h0M940.1 1367.2h0M871.5 1348.8h0" stroke="#8a92bc" stroke-width="6.8" stroke-linecap="round" fill="none" opacity="0.45"/><path d="M882.1 1406.8h0M899.6 1316.4h0M920.0 1306.9h0M874.3 1399.3h0M843.4 1338.5h0M839.3 1296.6h0M860.7 1315.4h0M915.2 1414.5h0M915.1 1398.6h0M905.4 1378.5h0M905.2 1352.4h0M815.8 1358.1h0M921.7 1411.8h0M899.0 1284.0h0M890.3 1402.2h0M878.0 1284.8h0M918.5 1335.3h0M846.2 1410.9h0M862.7 1322.1h0M822.0 1308.3h0M886.1 1314.0h0M940.1 1347.8h0M880.7 1382.8h0M890.6 1358.8h0M805.3 1414.6h0M903.7 1365.9h0M934.3 1321.3h0M910.9 1381.9h0M820.9 1407.2h0M883.3 1418.7h0M842.4 1285.8h0M862.4 1343.6h0M883.5 1414.6h0M869.6 1399.5h0M833.5 1289.8h0M847.0 1309.2h0M855.6 1356.5h0M932.7 1421.1h0M824.5 1340.4h0M935.9 1381.2h0M883.4 1296.8h0M907.7 1405.1h0" stroke="#5c2e18" stroke-width="7.4" stroke-linecap="round" fill="none" opacity="0.92"/><rect x="806.4" y="1413.4" width="30" height="2.3" fill="#fff" opacity="0.85"/></g>
<g clip-path="url(#c20)"><rect x="948.20" y="1283.20" width="143.70" height="140.50" fill="#e3d2c9"/><rect x="948.20" y="1283.20" width="143.70" height="140.50" filter="url(#t20)"/><path d="M1045.4 1413.0h0M1057.8 1323.5h0M976.0 1337.6h0M1003.9 1360.9h0M952.5 1390.3h0M950.4 1345.5h0M1034.1 1323.3h0M1003.9 1387.2h0M1033.3 1313.6h0M1041.5 1401.4h0M1061.2 1327.9h0M953.9 1304.4h0M995.7 1358.5h0M982.5 1394.7h0M1031.1 1420.6h0M966.6 1391.4h0M969.4 1284.0h0M999.5 1354.9h0M1072.9 1389.8h0M1017.9 1418.3h0M999.7 1417.3h0M973.1 1340.4h0M956.6 1345.9h0M1005.7 1306.5h0M978.1 1412.8h0M1004.6 1317.5h0M1057.1 1389.5h0M1007.4 1377.4h0M1078.9 1303.1h0M1017.3 1423.5h0M987.3 1304.8h0M1051.9 1307.6h0M1041.8 1378.0h0M1000.8 1357.4h0" stroke="#8a92bc" stroke-width="6.8" stroke-linecap="round" fill="none" opacity="0.45"/><path d="M1034.7 1349.1h0M976.6 1342.1h0M1037.4 1412.2h0M963.2 1349.2h0M993.7 1423.3h0M1037.7 1312.6h0M966.6 1375.5h0M994.2 1331.3h0M1054.3 1405.7h0M951.2 1357.9h0M948.7 1421.8h0M1017.0 1375.6h0M1049.1 1412.5h0M989.4 1410.5h0M964.1 1376.7h0M964.5 1398.3h0M971.3 1313.1h0M988.2 1334.3h0M1013.4 1313.3h0M1056.9 1343.5h0M1085.7 1396.2h0M984.3 1331.5h0M995.0 1390.5h0M968.3 1292.3h0M988.9 1356.4h0M1080.2 1337.2h0M1049.9 1414.5h0M1061.9 1403.4h0" stroke="#5c2e18" stroke-width="7.4" stroke-linecap="round" fill="none" opacity="0.92"/><rect x="955.7" y="1413.4" width="30" height="2.3" fill="#fff" opacity="0.85"/></g>
<text x="-1.73" y="2027.20" font-size="37.5" text-anchor="start" fill="#000" font-weight="bold" textLength="37.34" lengthAdjust="spacingAndGlyphs" stroke="#000" stroke-width="1.4" stroke-linejoin="round">m</text>
<text x="168.80" y="2040.80" font-size="26" text-anchor="start" fill="#000" textLength="92.50" lengthAdjust="spacingAndGlyphs" >Vehicle</text>
<text x="447.10" y="2040.80" font-size="26" text-anchor="start" fill="#000" textLength="136.20" lengthAdjust="spacingAndGlyphs" >CCl<tspan font-size="16.6" dy="5">4</tspan><tspan dy="-5"> (72 h)</tspan></text>
<line x1="83.30" y1="2052.10" x2="345.80" y2="2052.10" stroke="#333" stroke-width="1.5" />
<line x1="384.20" y1="2052.10" x2="646.70" y2="2052.10" stroke="#333" stroke-width="1.5" />
<text x="103.30" y="2087.90" font-size="26" text-anchor="start" fill="#000" textLength="72.50" lengthAdjust="spacingAndGlyphs" ><tspan font-style="italic">Lifr</tspan><tspan font-size="18.2" dy="-13.0">fl/fl</tspan></text>
<text x="200.80" y="2087.90" font-size="26" text-anchor="start" fill="#000" textLength="178.40" lengthAdjust="spacingAndGlyphs" ><tspan font-style="italic">Lifr</tspan><tspan font-size="18.2" dy="-13.0">fl/fl</tspan><tspan dy="13.0">;Alb-Cre</tspan></text>
<text x="404.20" y="2087.90" font-size="26" text-anchor="start" fill="#000" textLength="71.60" lengthAdjust="spacingAndGlyphs" ><tspan font-style="italic">Lifr</tspan><tspan font-size="18.2" dy="-13.0">fl/fl</tspan></text>
<text x="501.30" y="2087.90" font-size="26" text-anchor="start" fill="#000" textLength="178.70" lengthAdjust="spacingAndGlyphs" ><tspan font-style="italic">Lifr</tspan><tspan font-size="18.2" dy="-13.0">fl/fl</tspan><tspan dy="13.0">;Alb-Cre</tspan></text>
<text font-size="26" text-anchor="start" fill="#000" textLength="121.30" lengthAdjust="spacingAndGlyphs" transform="translate(54.20 2228.80) rotate(-90)" >H&amp;E (LPF)</text>
<text font-size="26" text-anchor="start" fill="#000" textLength="127.90" lengthAdjust="spacingAndGlyphs" transform="translate(54.20 2379.60) rotate(-90)" >H&amp;E (HPF)</text>
<g clip-path="url(#c21)"><rect x="65.80" y="2097.10" width="144.10" height="141.80" fill="#b43e86"/><rect x="65.80" y="2097.10" width="144.10" height="141.80" filter="url(#t21)"/><path d="M135.3 2183.7h0M101.5 2149.5h0M120.7 2182.1h0M201.4 2134.5h0M185.6 2115.4h0M154.0 2174.2h0M130.7 2164.5h0M117.7 2207.2h0M88.4 2227.9h0M124.2 2174.8h0M145.2 2128.8h0M99.9 2175.3h0M75.5 2126.2h0M144.8 2147.4h0M175.2 2145.4h0M109.3 2156.8h0M176.5 2192.2h0M124.3 2217.0h0M79.7 2131.0h0M77.0 2117.6h0M165.1 2207.0h0M74.7 2155.9h0M152.2 2189.2h0M121.4 2198.6h0M158.4 2148.6h0M106.1 2127.3h0M135.4 2121.9h0M191.4 2133.0h0M208.5 2200.9h0M123.6 2220.1h0M188.3 2164.3h0M128.6 2098.9h0M176.7 2228.5h0M194.6 2154.7h0M118.3 2130.5h0M94.4 2160.7h0M159.7 2110.2h0M104.3 2161.1h0M110.4 2212.9h0M76.6 2132.5h0M191.8 2168.5h0M208.5 2168.1h0M136.0 2209.1h0M202.2 2237.4h0M173.3 2181.6h0M198.8 2221.1h0M166.2 2165.5h0M166.8 2165.8h0M132.3 2216.1h0M78.4 2120.5h0M122.8 2221.5h0M68.8 2106.1h0M160.1 2219.4h0M208.7 2105.9h0M129.5 2129.7h0M194.8 2175.1h0M193.9 2121.0h0M96.5 2155.0h0M173.4 2185.1h0M127.4 2204.7h0M163.6 2156.9h0M199.1 2171.3h0M125.0 2192.9h0M193.0 2179.5h0M197.4 2232.9h0M113.2 2182.7h0M170.0 2214.5h0M129.1 2232.5h0M88.8 2117.5h0M90.8 2102.3h0M75.2 2155.8h0M85.6 2170.7h0M124.4 2123.5h0M186.8 2111.6h0M87.6 2235.0h0M188.0 2169.9h0M105.1 2202.9h0M120.4 2140.6h0M78.3 2233.1h0M184.5 2188.5h0M95.9 2226.2h0M98.1 2232.7h0M140.4 2146.7h0M80.8 2236.9h0M74.1 2159.6h0M72.9 2129.4h0M132.8 2106.0h0M107.4 2176.5h0M109.6 2112.0h0M115.2 2235.8h0M168.2 2190.9h0M188.0 2179.5h0M180.3 2120.4h0M193.2 2238.4h0M179.4 2137.9h0M148.2 2141.7h0M201.2 2141.9h0M144.8 2111.1h0M88.2 2207.8h0M93.1 2130.4h0M93.9 2139.4h0M80.8 2123.4h0M151.7 2125.7h0M86.7 2120.8h0M159.1 2171.9h0M184.4 2177.1h0M142.8 2179.9h0M126.0 2222.6h0M115.6 2195.9h0M128.5 2222.3h0M180.6 2123.2h0M73.6 2211.5h0M137.9 2199.5h0M204.2 2103.3h0M167.6 2117.0h0M193.3 2130.8h0M141.9 2110.0h0M80.2 2178.6h0M161.7 2196.8h0M176.1 2106.3h0M160.6 2139.4h0M142.0 2114.8h0M100.4 2127.9h0M154.1 2154.4h0M168.6 2181.2h0M88.9 2104.3h0M197.4 2171.9h0M115.2 2193.7h0M198.8 2221.7h0M126.8 2112.4h0M100.3 2177.6h0M131.8 2163.3h0M120.8 2134.8h0M85.5 2165.0h0M87.1 2233.5h0M76.6 2109.0h0M163.9 2138.0h0M190.7 2211.4h0M125.5 2194.1h0M73.8 2099.0h0M105.3 2194.2h0M184.2 2220.6h0M120.9 2151.1h0M86.5 2203.0h0M132.5 2226.6h0M110.3 2176.8h0M208.1 2143.2h0M137.4 2134.1h0M120.6 2209.9h0M94.4 2097.1h0" stroke="#502873" stroke-width="3.4" stroke-linecap="round" fill="none" opacity="0.8"/><path d="M77.8 2216.1l10 -3l4 4l-3 5l-9 -1z" fill="#f7f4f6"/><rect x="73.3" y="2228.6" width="30" height="2.3" fill="#fff" opacity="0.85"/></g>
<g clip-path="url(#c22)"><rect x="217.00" y="2097.10" width="144.10" height="141.80" fill="#965092"/><rect x="217.00" y="2097.10" width="144.10" height="141.80" filter="url(#t22)"/><path d="M238.6 2216.8h0M257.4 2196.6h0M259.3 2209.8h0M309.9 2105.7h0M355.2 2216.6h0M275.3 2173.1h0M321.0 2202.9h0M338.3 2234.4h0M351.4 2132.4h0M219.9 2136.9h0M247.7 2205.3h0M328.1 2235.6h0M340.5 2207.3h0M359.8 2202.3h0M272.1 2210.0h0M335.5 2141.3h0M252.5 2123.4h0M227.4 2200.7h0M360.7 2211.1h0M300.7 2226.0h0M275.0 2150.0h0M218.1 2121.3h0M314.6 2156.5h0M356.6 2098.6h0M342.3 2212.4h0M307.0 2185.0h0M309.2 2106.9h0M273.6 2233.4h0M289.9 2113.0h0M281.5 2108.8h0M314.4 2145.2h0M358.3 2229.2h0M297.0 2117.0h0M288.8 2207.6h0M234.1 2134.2h0M272.1 2211.5h0M243.0 2136.9h0M338.0 2136.3h0M321.2 2107.2h0M287.0 2114.3h0M295.6 2121.9h0M233.1 2226.8h0M321.3 2170.4h0M225.1 2165.4h0M217.1 2213.3h0M288.9 2115.9h0M280.8 2216.8h0M350.1 2168.6h0M309.4 2150.3h0M322.8 2159.5h0M347.1 2186.1h0M235.9 2152.0h0M341.4 2118.0h0M302.7 2190.2h0M243.0 2153.5h0M242.9 2103.2h0M283.8 2098.6h0M240.4 2170.1h0M292.5 2141.2h0M257.9 2154.3h0M350.3 2237.0h0M231.6 2196.5h0M349.7 2218.2h0M323.4 2206.1h0M264.7 2140.1h0M231.7 2153.9h0M359.6 2222.0h0M221.5 2131.3h0M230.0 2173.5h0M244.2 2129.7h0M358.7 2132.0h0M263.3 2223.3h0M317.6 2113.0h0M299.2 2226.9h0M290.9 2133.4h0M303.5 2219.5h0M227.0 2098.7h0M325.5 2174.8h0M287.6 2117.7h0M335.8 2168.1h0M320.6 2142.6h0M253.2 2194.4h0M225.9 2217.8h0M254.4 2143.2h0M359.0 2212.8h0M339.7 2167.4h0M279.8 2204.2h0M254.1 2140.6h0M359.5 2233.0h0M349.0 2192.9h0M335.9 2215.7h0M270.4 2197.5h0M250.6 2184.3h0M288.9 2118.0h0M321.0 2212.2h0M241.9 2140.0h0M308.7 2130.5h0M343.1 2165.7h0M325.4 2186.6h0M285.5 2143.4h0M269.9 2225.1h0M329.8 2112.4h0M305.9 2109.4h0M283.5 2182.3h0M294.6 2125.7h0M270.9 2154.1h0M256.9 2220.4h0M326.9 2174.1h0M217.5 2238.4h0M239.6 2149.9h0M312.6 2193.2h0M247.4 2114.1h0M270.5 2232.8h0M225.9 2162.8h0M321.5 2163.2h0M259.0 2187.0h0M296.9 2203.8h0M310.2 2191.9h0M324.2 2215.8h0M253.6 2146.4h0M283.4 2161.4h0M312.4 2115.3h0M333.7 2235.3h0M230.4 2160.1h0M306.8 2165.1h0M339.6 2111.9h0M309.9 2144.1h0M276.6 2181.1h0M321.8 2192.7h0M269.3 2141.7h0M221.7 2176.4h0M249.2 2166.3h0M352.6 2145.9h0M220.0 2195.0h0M321.6 2211.1h0M354.8 2221.7h0M238.1 2107.5h0M257.0 2138.2h0M335.4 2184.3h0M346.8 2219.5h0M354.5 2190.5h0M288.3 2123.6h0M302.3 2188.8h0M312.9 2198.8h0M253.7 2178.5h0M347.4 2099.7h0M282.9 2144.1h0M219.5 2220.5h0M282.7 2201.7h0M246.4 2154.7h0M316.4 2184.7h0M241.9 2144.5h0M294.2 2229.8h0M229.1 2130.5h0M335.5 2172.0h0M312.8 2139.5h0M265.3 2172.5h0M246.9 2220.5h0M267.6 2222.5h0M234.3 2163.8h0M299.8 2201.0h0M295.1 2113.3h0M245.2 2218.4h0M220.3 2209.1h0M264.5 2203.0h0M301.4 2136.4h0M301.3 2148.5h0M259.2 2117.4h0M238.9 2162.0h0M265.3 2129.5h0M280.7 2188.3h0M247.4 2100.5h0M259.4 2104.6h0M351.8 2220.5h0M242.9 2187.3h0M291.2 2198.6h0M290.2 2227.6h0M228.4 2101.7h0M217.6 2134.6h0M336.1 2204.2h0M279.0 2101.0h0M246.6 2126.1h0M312.8 2097.9h0M304.3 2128.9h0M223.0 2150.3h0M255.1 2144.0h0M266.1 2127.7h0M231.8 2189.9h0M353.4 2214.9h0M348.3 2099.5h0M289.9 2110.5h0M246.8 2201.8h0M232.1 2192.0h0M290.7 2129.5h0M259.0 2234.3h0M314.3 2221.3h0M305.0 2154.6h0M288.6 2220.5h0M221.5 2105.3h0M292.3 2169.0h0" stroke="#502873" stroke-width="3.4" stroke-linecap="round" fill="none" opacity="0.8"/><ellipse cx="223" cy="2195.1" rx="6" ry="5" fill="#b01030"/><rect x="224.5" y="2228.6" width="30" height="2.3" fill="#fff" opacity="0.85"/></g>
<g clip-path="url(#c23)"><rect x="367.90" y="2097.10" width="144.10" height="141.80" fill="#ab3a80"/><rect x="367.90" y="2097.10" width="144.10" height="141.80" filter="url(#t23)"/><path d="M370.6 2159.4h0M415.5 2155.5h0M501.5 2154.6h0M392.3 2131.3h0M368.6 2203.3h0M439.8 2155.3h0M443.0 2198.1h0M496.6 2134.4h0M488.6 2110.6h0M490.8 2191.5h0M370.9 2106.8h0M397.9 2198.5h0M432.7 2167.1h0M454.5 2100.3h0M488.7 2216.9h0M479.1 2160.6h0M476.7 2171.0h0M428.8 2233.9h0M399.5 2120.6h0M436.0 2108.2h0M378.8 2146.9h0M495.1 2189.5h0M390.8 2216.9h0M503.9 2217.7h0M445.9 2129.1h0M462.0 2110.8h0M501.5 2200.0h0M508.0 2209.9h0M492.4 2182.7h0M421.4 2122.2h0M488.3 2138.3h0M499.7 2220.9h0M496.2 2224.2h0M401.7 2194.0h0M479.8 2129.4h0M482.1 2169.6h0M377.5 2134.8h0M379.5 2143.7h0M448.5 2222.8h0M402.7 2184.9h0M451.0 2217.9h0M374.8 2112.0h0M429.4 2131.0h0M442.8 2109.0h0M484.1 2107.0h0M404.7 2165.7h0M496.0 2137.4h0M500.4 2157.3h0M466.2 2202.9h0M431.7 2135.8h0M471.7 2236.6h0M452.7 2142.5h0M472.9 2212.5h0M487.1 2182.5h0M451.2 2228.9h0M509.5 2193.5h0M406.9 2102.4h0M478.0 2224.9h0M448.1 2102.9h0M416.2 2186.6h0M410.2 2237.5h0M457.4 2169.3h0M501.3 2161.1h0M472.9 2222.1h0M453.9 2164.3h0M493.0 2236.2h0M424.0 2137.5h0M479.5 2130.6h0M408.4 2132.8h0M434.6 2230.4h0M500.8 2206.8h0M450.2 2113.8h0M500.4 2134.0h0M491.6 2154.7h0M492.1 2180.9h0M451.4 2125.0h0M452.8 2107.3h0M375.5 2159.5h0M380.7 2099.7h0M480.4 2145.7h0M451.7 2098.9h0M502.5 2188.7h0M415.2 2218.9h0M495.0 2227.3h0M472.6 2140.3h0M370.3 2195.1h0M411.1 2151.0h0M485.4 2169.1h0M422.0 2171.0h0M444.5 2172.9h0M409.6 2110.8h0M467.5 2120.6h0M382.3 2209.9h0M391.7 2116.1h0M429.2 2227.5h0M448.0 2215.0h0M465.1 2135.6h0M433.0 2134.6h0M402.9 2238.7h0M417.9 2103.5h0M424.8 2142.5h0M503.3 2234.1h0M481.6 2157.3h0M381.0 2207.8h0M482.8 2110.0h0M475.6 2109.6h0M419.3 2170.9h0M431.1 2217.0h0M496.7 2142.6h0M426.2 2235.3h0M407.1 2176.2h0M444.8 2225.3h0M415.8 2195.9h0M376.8 2188.3h0M462.1 2217.5h0M508.8 2172.9h0M460.5 2230.6h0M411.3 2238.4h0M404.4 2236.0h0M486.0 2229.4h0M373.8 2236.7h0M377.5 2176.1h0M412.1 2178.4h0M413.7 2115.9h0M460.5 2126.3h0M485.0 2224.6h0M425.3 2224.0h0M399.9 2222.5h0M470.1 2116.4h0M396.6 2226.6h0M460.5 2160.2h0M407.1 2114.5h0M416.4 2187.7h0M413.0 2118.5h0M508.2 2170.0h0M461.6 2145.2h0M451.7 2214.6h0M388.9 2140.2h0M493.1 2140.8h0M454.4 2132.5h0" stroke="#502873" stroke-width="3.4" stroke-linecap="round" fill="none" opacity="0.8"/><ellipse cx="442.9" cy="2189.1" rx="32" ry="20" fill="#e89ab8" opacity="0.5" transform="rotate(-20 442.9 2189.1)" filter="url(#blur)"/><rect x="375.4" y="2228.6" width="30" height="2.3" fill="#fff" opacity="0.85"/></g>
<g clip-path="url(#c24)"><rect x="518.80" y="2097.10" width="144.10" height="141.80" fill="#c04e82"/><rect x="518.80" y="2097.10" width="144.10" height="141.80" filter="url(#t24)"/><path d="M605.8 2101.1h0M566.4 2115.4h0M658.4 2176.5h0M606.0 2183.7h0M612.6 2117.6h0M625.8 2216.7h0M521.5 2222.7h0M578.0 2140.2h0M600.0 2196.1h0M652.6 2110.8h0M574.7 2143.9h0M557.3 2149.9h0M562.7 2116.9h0M562.4 2177.2h0M577.5 2138.9h0M639.0 2136.5h0M531.3 2116.0h0M613.1 2103.6h0M592.0 2118.9h0M586.9 2118.2h0M656.4 2191.9h0M601.2 2186.5h0M617.1 2114.8h0M627.1 2170.1h0M636.5 2180.6h0M614.7 2206.6h0M560.4 2142.9h0M540.6 2203.2h0M542.1 2129.5h0M569.9 2204.0h0M577.0 2238.1h0M600.0 2139.8h0M539.5 2099.1h0M551.5 2184.4h0M574.2 2158.6h0M595.4 2153.2h0M538.5 2101.5h0M563.3 2127.5h0M623.1 2128.3h0M615.3 2165.8h0M630.9 2150.3h0M589.1 2193.5h0M583.6 2105.0h0M581.6 2176.0h0M571.4 2167.1h0M656.8 2099.7h0M541.2 2149.1h0M626.3 2113.9h0M557.0 2207.1h0M599.3 2227.1h0M560.2 2113.4h0M526.5 2138.3h0M564.0 2232.5h0M638.4 2115.8h0M552.7 2181.6h0M610.2 2233.7h0M635.1 2105.1h0M538.2 2194.9h0M597.1 2124.7h0M612.2 2214.0h0M552.0 2129.3h0M547.9 2226.4h0M556.5 2155.3h0M610.2 2149.2h0M650.8 2113.6h0M581.5 2178.3h0M625.1 2223.6h0M584.0 2150.3h0M581.1 2225.8h0M598.9 2141.2h0M601.6 2227.4h0M657.2 2196.7h0M553.9 2126.8h0M526.3 2170.7h0M519.4 2124.4h0M607.0 2141.5h0M563.1 2117.6h0M629.5 2135.8h0M568.2 2112.7h0M524.9 2230.3h0M590.7 2186.6h0M571.7 2124.3h0M531.1 2164.8h0M521.7 2227.9h0M547.6 2119.9h0M584.0 2122.4h0M574.3 2234.7h0M533.5 2198.3h0M540.3 2230.2h0M631.0 2125.8h0M636.2 2104.5h0M622.2 2153.8h0M563.9 2206.5h0M533.8 2102.6h0M522.3 2219.5h0M580.0 2209.1h0M582.5 2108.5h0M627.6 2200.1h0M568.2 2104.5h0M642.2 2213.2h0M658.9 2104.8h0M623.8 2220.4h0M561.0 2169.2h0M639.3 2197.9h0M543.0 2197.2h0M551.0 2161.8h0M579.4 2204.0h0M621.5 2145.0h0M522.8 2167.0h0M528.8 2130.3h0" stroke="#502873" stroke-width="3.4" stroke-linecap="round" fill="none" opacity="0.8"/><ellipse cx="563.8" cy="2182.1" rx="50" ry="40" fill="#e0507a" opacity="0.4" filter="url(#blur)"/><path d="M655.5 2133.6L641.0 2131.7L626.5 2144.4L604.7 2159.0L593.8 2162.6L615.6 2168.1L617.4 2188.0L622.8 2193.5L626.5 2173.5L633.7 2155.3L648.2 2144.4L655.5 2135.4Z" fill="#f8f6f7" stroke="#f8f6f7" stroke-width="2" stroke-linejoin="round"/><rect x="526.3" y="2228.6" width="30" height="2.3" fill="#fff" opacity="0.85"/></g>
<g clip-path="url(#c25)"><rect x="65.80" y="2246.00" width="144.10" height="144.00" fill="#b84890"/><rect x="65.80" y="2246.00" width="144.10" height="144.00" filter="url(#t25)"/><path d="M209.6 2276.8h0M73.9 2301.4h0M123.3 2371.3h0M200.9 2357.3h0M70.9 2338.7h0M170.1 2273.0h0M103.5 2371.5h0M145.6 2295.0h0M160.4 2249.0h0M167.9 2305.8h0M177.3 2358.9h0M90.4 2315.0h0M183.9 2288.4h0M129.9 2375.5h0M139.9 2315.1h0M98.9 2324.4h0M77.7 2260.0h0M89.5 2360.4h0M170.6 2263.3h0M187.2 2250.5h0M172.8 2373.9h0M169.0 2250.8h0M171.3 2260.8h0M120.6 2388.5h0M68.7 2322.2h0M66.7 2336.7h0M137.4 2297.8h0M196.1 2389.1h0M88.9 2385.7h0M90.0 2292.7h0M142.8 2257.6h0M167.8 2353.6h0M70.3 2304.9h0M109.0 2382.0h0M66.9 2375.7h0M70.3 2334.9h0M129.0 2389.1h0M124.6 2384.6h0M186.8 2387.0h0M80.1 2339.4h0M77.3 2356.2h0M147.8 2305.5h0" stroke="#502873" stroke-width="7.6" stroke-linecap="round" fill="none" opacity="0.8"/><rect x="73.3" y="2379.7" width="30" height="2.3" fill="#fff" opacity="0.85"/></g>
<g clip-path="url(#c26)"><rect x="217.00" y="2246.00" width="144.10" height="144.00" fill="#995294"/><rect x="217.00" y="2246.00" width="144.10" height="144.00" filter="url(#t26)"/><path d="M271.4 2345.5h0M254.3 2305.4h0M224.3 2297.3h0M244.0 2301.0h0M302.6 2383.1h0M233.2 2384.1h0M260.3 2347.4h0M246.7 2318.1h0M237.9 2379.4h0M346.6 2353.3h0M231.2 2265.5h0M217.2 2344.4h0M309.4 2367.6h0M309.5 2247.4h0M331.3 2248.3h0M314.9 2314.5h0M333.7 2262.4h0M265.9 2365.1h0M320.0 2277.0h0M254.7 2329.3h0M290.9 2345.1h0M274.9 2311.3h0M236.9 2332.1h0M286.5 2258.3h0M281.3 2263.6h0M349.9 2312.1h0M300.6 2305.5h0M290.7 2384.7h0M290.7 2280.2h0M360.3 2298.1h0M347.2 2366.7h0M236.3 2263.4h0M310.0 2296.0h0M347.8 2293.4h0M318.6 2328.8h0M284.0 2351.1h0M223.8 2336.0h0M323.3 2365.9h0M277.7 2389.1h0M236.1 2299.1h0M289.8 2276.5h0M322.1 2261.3h0M305.2 2267.9h0M292.6 2386.7h0M232.2 2333.4h0M337.2 2336.1h0M227.3 2328.1h0M314.0 2293.1h0M279.7 2380.7h0M270.6 2247.2h0M257.5 2381.1h0M226.0 2283.8h0" stroke="#502873" stroke-width="7.2" stroke-linecap="round" fill="none" opacity="0.8"/><rect x="224.5" y="2379.7" width="30" height="2.3" fill="#fff" opacity="0.85"/></g>
<g clip-path="url(#c27)"><rect x="367.90" y="2246.00" width="144.10" height="144.00" fill="#b34080"/><rect x="367.90" y="2246.00" width="144.10" height="144.00" filter="url(#t27)"/><path d="M456.3 2342.3h0M372.1 2291.8h0M433.2 2303.6h0M405.8 2377.9h0M376.4 2320.7h0M501.5 2315.8h0M451.7 2281.8h0M389.9 2338.7h0M425.4 2365.9h0M450.0 2344.6h0M405.6 2253.7h0M413.3 2311.1h0M384.2 2282.6h0M380.0 2281.7h0M419.3 2276.6h0M477.7 2315.9h0M400.2 2357.8h0M400.8 2354.6h0M420.1 2304.8h0M412.6 2332.1h0M452.0 2352.4h0M459.1 2303.5h0M473.2 2335.0h0M490.4 2299.5h0M507.8 2369.4h0M493.6 2295.1h0M399.9 2319.2h0M396.1 2323.1h0M387.6 2378.3h0M405.2 2275.6h0M456.7 2295.6h0M437.5 2307.7h0M502.3 2279.0h0M471.5 2322.3h0M421.0 2255.0h0M489.2 2250.9h0" stroke="#502873" stroke-width="7.2" stroke-linecap="round" fill="none" opacity="0.8"/><ellipse cx="437.9" cy="2331" rx="55" ry="30" fill="#e06a90" opacity="0.45" transform="rotate(-20 437.9 2331)" filter="url(#blur)"/><rect x="375.4" y="2379.7" width="30" height="2.3" fill="#fff" opacity="0.85"/></g>
<g clip-path="url(#c28)"><rect x="518.80" y="2246.00" width="144.10" height="144.00" fill="#c65082"/><rect x="518.80" y="2246.00" width="144.10" height="144.00" filter="url(#t28)"/><path d="M525.3 2347.3h0M564.1 2316.3h0M579.8 2326.6h0M584.8 2288.7h0M642.6 2343.9h0M623.5 2354.2h0M631.1 2335.0h0M524.7 2332.5h0M659.4 2355.7h0M631.4 2274.4h0M563.7 2260.6h0M655.0 2382.0h0M604.7 2260.2h0M618.7 2276.2h0M619.1 2261.5h0M616.7 2387.5h0M633.4 2309.7h0M633.2 2247.5h0M621.2 2337.6h0M623.7 2315.7h0M587.9 2254.4h0M650.8 2385.8h0M574.9 2328.5h0M629.2 2328.4h0M653.8 2382.0h0M634.5 2319.1h0M646.6 2286.3h0M549.2 2260.3h0M662.4 2355.5h0M609.5 2331.7h0M558.8 2306.7h0M568.0 2371.5h0M645.4 2322.4h0M552.8 2313.0h0M585.8 2318.7h0M528.0 2329.5h0M577.0 2374.9h0M575.2 2296.0h0M636.1 2311.9h0M588.2 2346.3h0" stroke="#502873" stroke-width="6.8" stroke-linecap="round" fill="none" opacity="0.8"/><path d="M644.8 2292L663.0 2286L663.0 2298L648.8 2299Z M635.8 2270l5 8l10 3l-6 -8z" fill="#f7f4f6"/><rect x="526.3" y="2379.7" width="30" height="2.3" fill="#fff" opacity="0.85"/></g>
<text x="709.82" y="2028.50" font-size="37.5" text-anchor="start" fill="#000" font-weight="bold" textLength="25.66" lengthAdjust="spacingAndGlyphs" stroke="#000" stroke-width="1.4" stroke-linejoin="round">o</text>
<text x="851.30" y="2040.80" font-size="26" text-anchor="start" fill="#000" textLength="90.80" lengthAdjust="spacingAndGlyphs" >Vehicle</text>
<text x="1129.60" y="2040.80" font-size="26" text-anchor="start" fill="#000" textLength="134.60" lengthAdjust="spacingAndGlyphs" >CCl<tspan font-size="16.6" dy="5">4</tspan><tspan dy="-5"> (72 h)</tspan></text>
<line x1="765.00" y1="2053.30" x2="1026.70" y2="2053.30" stroke="#333" stroke-width="1.5" />
<line x1="1065.80" y1="2053.30" x2="1328.30" y2="2053.30" stroke="#333" stroke-width="1.5" />
<text x="785.00" y="2087.90" font-size="26" text-anchor="start" fill="#000" textLength="71.70" lengthAdjust="spacingAndGlyphs" ><tspan font-style="italic">Lifr</tspan><tspan font-size="18.2" dy="-13.0">fl/fl</tspan></text>
<text x="881.70" y="2087.90" font-size="26" text-anchor="start" fill="#000" textLength="177.50" lengthAdjust="spacingAndGlyphs" ><tspan font-style="italic">Lifr</tspan><tspan font-size="18.2" dy="-13.0">fl/fl</tspan><tspan dy="13.0">;Alb-Cre</tspan></text>
<text x="1085.00" y="2087.90" font-size="26" text-anchor="start" fill="#000" textLength="70.80" lengthAdjust="spacingAndGlyphs" ><tspan font-style="italic">Lifr</tspan><tspan font-size="18.2" dy="-13.0">fl/fl</tspan></text>
<text x="1181.70" y="2087.90" font-size="26" text-anchor="start" fill="#000" textLength="177.10" lengthAdjust="spacingAndGlyphs" ><tspan font-style="italic">Lifr</tspan><tspan font-size="18.2" dy="-13.0">fl/fl</tspan><tspan dy="13.0">;Alb-Cre</tspan></text>
<text font-size="26" text-anchor="start" fill="#000" textLength="121.30" lengthAdjust="spacingAndGlyphs" transform="translate(733.80 2228.80) rotate(-90)" >Ki67 (LPF)</text>
<text font-size="26" text-anchor="start" fill="#000" textLength="127.90" lengthAdjust="spacingAndGlyphs" transform="translate(733.80 2380.40) rotate(-90)" >Ki67 (HPF)</text>
<g clip-path="url(#c29)"><rect x="748.30" y="2097.10" width="144.60" height="142.90" fill="#d5d5da"/><rect x="748.30" y="2097.10" width="144.60" height="142.90" filter="url(#t29)"/><path d="M766.3 2217.7h0M868.6 2189.3h0M790.4 2147.5h0M881.5 2182.5h0M803.3 2182.2h0M793.7 2132.3h0M754.2 2229.6h0M777.0 2162.7h0M880.0 2189.7h0M805.6 2224.2h0M764.3 2137.3h0M801.0 2114.2h0M761.5 2214.1h0M844.9 2164.0h0M768.1 2118.0h0M856.5 2209.3h0M889.8 2180.5h0M879.5 2218.6h0M748.6 2105.5h0M768.0 2211.3h0M806.2 2120.1h0M885.5 2194.9h0M776.3 2226.6h0M757.1 2129.3h0M798.8 2203.1h0M851.0 2113.4h0M820.7 2148.2h0M798.9 2226.6h0M822.5 2151.0h0M857.1 2123.7h0M792.1 2212.7h0M826.6 2107.3h0M813.3 2154.5h0M882.9 2148.4h0M836.2 2141.2h0M777.2 2189.1h0M817.4 2158.9h0M800.3 2173.8h0M792.5 2163.6h0M868.1 2127.3h0M844.9 2164.1h0M889.3 2220.5h0M769.7 2222.2h0M870.5 2097.6h0M760.6 2138.2h0M840.1 2218.2h0M849.2 2205.2h0M785.9 2165.2h0M866.7 2119.9h0M838.7 2205.4h0M777.6 2236.6h0M786.4 2102.7h0M765.8 2208.6h0M767.7 2178.7h0M765.9 2172.3h0M825.2 2110.2h0M852.8 2233.2h0M837.1 2135.9h0M844.7 2216.3h0M789.8 2113.0h0M788.2 2151.5h0M778.4 2101.3h0M755.6 2147.8h0M825.6 2215.8h0M846.1 2226.5h0M771.9 2161.5h0M793.7 2165.6h0M859.5 2159.9h0M854.7 2178.7h0M754.8 2116.3h0M871.4 2159.2h0M859.8 2099.4h0M832.1 2162.2h0M851.3 2216.4h0M826.4 2212.9h0M782.2 2162.5h0M855.6 2231.1h0M803.7 2147.9h0M882.6 2177.1h0M884.3 2123.0h0M761.3 2120.1h0M862.5 2106.2h0M765.3 2140.2h0M810.3 2177.5h0M800.4 2171.9h0M757.4 2226.4h0M877.5 2234.9h0M851.9 2148.3h0M767.2 2149.2h0M871.9 2113.4h0" stroke="#7387c6" stroke-width="4.0" stroke-linecap="round" fill="none" opacity="0.55"/><path d="M776.3 2225.6h0M802.5 2147.4h0M872.0 2155.5h0" stroke="#582a14" stroke-width="4.6" stroke-linecap="round" fill="none" opacity="0.92"/><rect x="753.3" y="2229.0" width="19" height="7.5" fill="#000"/></g>
<g clip-path="url(#c30)"><rect x="897.90" y="2097.10" width="144.60" height="142.90" fill="#caaca4"/><rect x="897.90" y="2097.10" width="144.60" height="142.90" filter="url(#t30)"/><path d="M972.1 2118.4h0M1011.2 2110.1h0M985.8 2147.7h0M1013.7 2199.6h0M959.2 2180.4h0M979.0 2224.5h0M977.9 2180.5h0M912.5 2239.0h0M1002.9 2139.6h0M1019.6 2167.8h0M905.2 2160.6h0M920.1 2175.8h0M1035.8 2207.7h0M974.5 2204.9h0M916.8 2124.9h0M988.1 2219.8h0M919.9 2118.1h0M927.9 2216.9h0M971.0 2193.6h0M918.8 2112.5h0M1018.9 2170.7h0M1001.0 2161.7h0M992.9 2183.4h0M992.7 2100.0h0M980.4 2204.7h0M964.7 2186.6h0M974.1 2103.5h0M922.1 2109.3h0M919.6 2153.1h0M917.9 2120.0h0M951.3 2147.0h0M975.6 2209.1h0M961.3 2196.6h0M938.5 2184.6h0M957.3 2116.9h0M1020.1 2158.5h0M942.4 2175.3h0M1024.1 2127.1h0M996.3 2193.1h0M981.9 2146.1h0M1040.6 2176.1h0M996.5 2134.8h0M936.3 2158.1h0M901.5 2186.0h0M1031.5 2232.7h0M995.7 2137.8h0M965.9 2137.2h0M899.1 2228.7h0M965.4 2137.8h0M973.2 2192.8h0M1002.5 2157.8h0M936.7 2124.3h0M1023.7 2207.0h0M1041.1 2100.8h0M941.9 2191.2h0M948.8 2234.3h0M988.9 2135.9h0M1030.9 2195.1h0M944.1 2211.8h0M940.9 2187.0h0M1031.8 2100.2h0M1025.7 2211.2h0M993.1 2206.0h0M998.9 2223.7h0M1020.2 2158.4h0M904.0 2236.5h0M988.7 2225.7h0M988.2 2137.3h0M925.5 2182.1h0M1006.1 2195.8h0M954.1 2104.2h0M1005.1 2100.9h0M910.0 2127.5h0M921.1 2184.6h0M986.5 2167.8h0M1036.4 2132.5h0M899.5 2185.6h0M948.4 2238.3h0M1002.4 2187.0h0M1027.8 2196.4h0" stroke="#7387c6" stroke-width="4.0" stroke-linecap="round" fill="none" opacity="0.55"/></g>
<g clip-path="url(#c31)"><rect x="1047.90" y="2097.10" width="144.60" height="142.90" fill="#d2cbcd"/><rect x="1047.90" y="2097.10" width="144.60" height="142.90" filter="url(#t31)"/><path d="M1136.2 2118.8h0M1091.9 2173.2h0M1088.2 2136.1h0M1155.8 2185.4h0M1191.4 2133.7h0M1178.0 2121.1h0M1160.1 2187.3h0M1059.4 2204.8h0M1073.2 2145.2h0M1105.9 2181.4h0M1109.2 2234.6h0M1136.1 2128.8h0M1056.1 2191.7h0M1145.9 2174.5h0M1096.4 2099.8h0M1169.4 2218.1h0M1122.2 2219.0h0M1111.7 2177.6h0M1189.9 2154.8h0M1097.8 2183.9h0M1098.5 2194.0h0M1186.5 2128.1h0M1065.5 2153.5h0M1090.4 2141.7h0M1069.8 2161.6h0M1055.4 2141.3h0M1173.4 2229.8h0M1153.4 2099.8h0M1177.9 2177.8h0M1080.7 2115.5h0M1085.8 2226.1h0M1137.6 2097.4h0M1143.9 2159.3h0M1184.7 2154.4h0M1141.1 2218.0h0M1101.4 2175.2h0M1078.5 2105.6h0M1166.1 2181.3h0M1171.7 2142.9h0M1155.2 2204.8h0" stroke="#7387c6" stroke-width="4.0" stroke-linecap="round" fill="none" opacity="0.55"/><path d="M1130.0 2117.2h0M1063.3 2196.7h0M1126.5 2178.5h0M1094.0 2176.8h0M1061.1 2226.2h0M1084.3 2105.4h0M1157.0 2203.7h0M1065.2 2120.4h0M1076.4 2112.4h0M1082.3 2172.8h0M1123.6 2138.7h0M1182.8 2208.1h0M1158.1 2216.5h0M1065.2 2100.3h0M1110.1 2144.1h0M1083.5 2234.3h0M1170.9 2118.0h0M1166.6 2129.2h0M1167.7 2108.9h0M1170.2 2100.2h0M1134.1 2131.6h0M1156.6 2193.1h0M1074.5 2160.1h0M1163.0 2198.1h0M1098.4 2233.0h0M1096.7 2169.1h0M1174.7 2129.7h0M1163.7 2235.2h0M1143.7 2148.2h0M1187.6 2237.1h0M1071.1 2109.7h0M1183.6 2163.2h0M1178.4 2235.5h0M1087.7 2195.6h0M1127.3 2151.5h0M1089.8 2137.5h0M1073.2 2122.7h0M1171.9 2117.3h0M1072.0 2115.3h0M1165.6 2135.6h0M1049.5 2161.7h0M1165.8 2159.7h0M1137.9 2156.7h0M1069.1 2186.7h0M1164.1 2117.3h0M1179.0 2114.1h0M1113.9 2168.2h0M1071.5 2207.0h0M1130.2 2101.2h0M1141.3 2211.9h0M1074.1 2126.7h0M1119.9 2107.9h0M1131.5 2204.9h0M1049.1 2127.1h0M1107.3 2125.2h0M1101.3 2125.7h0M1053.4 2158.2h0M1167.1 2126.8h0M1058.6 2219.9h0M1049.0 2106.5h0M1168.5 2198.5h0M1179.0 2225.8h0M1175.8 2180.8h0M1078.1 2238.9h0M1061.9 2239.2h0M1074.9 2163.0h0M1140.2 2104.5h0M1081.3 2142.7h0M1166.2 2205.4h0M1065.7 2190.8h0M1097.9 2097.2h0M1175.1 2141.9h0M1189.8 2233.4h0M1182.4 2177.4h0M1107.0 2163.0h0M1140.1 2148.4h0M1108.2 2200.2h0M1073.5 2160.2h0M1068.0 2172.2h0M1122.0 2218.5h0M1101.4 2118.7h0M1093.3 2167.7h0M1068.5 2162.6h0M1165.3 2219.1h0M1090.7 2207.1h0M1160.9 2224.2h0M1154.3 2118.4h0M1143.4 2137.9h0M1056.1 2161.2h0M1102.1 2179.9h0M1110.8 2131.3h0M1148.5 2111.9h0M1082.3 2233.4h0M1065.5 2148.1h0M1146.0 2183.0h0M1176.3 2195.3h0M1163.7 2239.9h0M1101.4 2130.9h0M1144.1 2151.9h0M1164.0 2107.1h0M1059.8 2109.0h0M1091.0 2212.8h0M1124.3 2219.4h0M1095.2 2230.1h0M1183.3 2104.2h0M1058.0 2153.8h0M1173.8 2231.0h0M1062.4 2120.2h0M1172.6 2106.1h0M1068.5 2174.6h0M1114.9 2160.3h0M1148.6 2154.1h0M1136.6 2103.4h0M1094.7 2181.7h0M1118.9 2111.3h0M1175.6 2134.9h0M1070.5 2191.7h0M1120.1 2174.2h0M1170.2 2163.3h0M1137.7 2136.7h0M1125.0 2199.2h0M1163.3 2185.0h0M1124.9 2158.5h0M1069.0 2186.6h0M1069.3 2131.2h0M1081.1 2239.4h0M1063.6 2221.8h0M1171.5 2132.7h0M1133.2 2206.4h0M1108.5 2102.2h0M1081.4 2189.4h0M1065.8 2195.4h0M1145.7 2149.1h0M1053.3 2199.6h0M1173.7 2176.4h0M1151.5 2141.1h0M1168.9 2102.5h0M1137.2 2196.8h0M1157.4 2216.3h0M1127.3 2153.8h0M1121.0 2118.6h0M1121.1 2156.0h0M1054.0 2136.8h0M1146.3 2200.4h0M1074.2 2104.8h0M1191.3 2150.0h0M1145.0 2134.4h0M1140.6 2189.7h0M1103.7 2142.9h0M1130.2 2175.7h0" stroke="#582a14" stroke-width="4.6" stroke-linecap="round" fill="none" opacity="0.92"/></g>
<g clip-path="url(#c32)"><rect x="1197.50" y="2097.10" width="144.60" height="142.90" fill="#cebeba"/><rect x="1197.50" y="2097.10" width="144.60" height="142.90" filter="url(#t32)"/><path d="M1298.9 2143.9h0M1240.2 2194.2h0M1320.7 2181.0h0M1248.2 2108.6h0M1307.9 2165.0h0M1284.3 2187.5h0M1210.7 2179.1h0M1294.1 2206.4h0M1216.4 2194.9h0M1212.8 2226.0h0M1263.8 2220.5h0M1280.9 2185.4h0M1316.8 2228.9h0M1324.4 2118.2h0M1233.2 2159.7h0M1261.0 2195.9h0M1203.5 2210.1h0M1342.0 2181.7h0M1216.2 2195.5h0M1262.4 2182.5h0M1199.2 2178.4h0M1325.8 2097.9h0M1289.7 2153.9h0M1232.8 2160.6h0M1308.2 2139.9h0M1210.7 2107.0h0M1229.6 2111.2h0M1198.6 2162.0h0M1270.4 2154.4h0M1331.4 2126.4h0M1220.1 2212.2h0M1303.1 2113.8h0M1254.0 2213.7h0M1250.0 2193.2h0M1308.1 2121.5h0M1207.4 2100.8h0M1264.5 2132.4h0M1260.5 2129.1h0M1296.5 2237.6h0M1223.8 2204.0h0M1218.9 2235.3h0M1281.8 2221.5h0M1224.4 2228.0h0M1331.6 2189.0h0M1312.8 2173.8h0M1306.7 2152.7h0M1231.3 2166.9h0M1242.2 2128.3h0M1317.7 2232.4h0M1259.7 2109.9h0M1325.1 2198.2h0M1261.6 2112.6h0M1306.5 2141.0h0M1241.8 2122.7h0M1309.5 2100.4h0M1201.2 2126.0h0M1207.8 2214.3h0M1332.8 2229.9h0M1217.8 2192.2h0M1283.8 2195.1h0" stroke="#7387c6" stroke-width="4.0" stroke-linecap="round" fill="none" opacity="0.55"/><path d="M1203.1 2121.2h0M1204.3 2131.7h0M1234.6 2158.0h0M1203.8 2106.0h0M1296.3 2141.8h0M1200.9 2177.8h0M1230.7 2225.3h0M1279.6 2173.8h0M1207.2 2158.7h0M1339.8 2102.1h0M1300.8 2193.9h0M1212.6 2100.2h0M1310.8 2190.8h0M1308.0 2217.3h0M1254.9 2215.4h0M1289.3 2125.4h0M1218.3 2125.1h0M1237.6 2127.5h0M1282.6 2235.2h0M1205.9 2098.3h0M1217.9 2110.1h0M1269.2 2098.5h0M1310.8 2105.3h0M1240.0 2135.3h0M1217.4 2182.7h0M1218.0 2165.4h0M1310.4 2105.3h0M1276.2 2235.6h0M1275.7 2215.1h0M1333.0 2180.1h0M1284.1 2218.6h0M1254.4 2158.8h0M1267.2 2205.1h0M1287.9 2135.7h0M1307.8 2215.0h0M1244.8 2236.1h0M1281.3 2203.9h0M1218.9 2155.0h0M1217.5 2233.9h0M1316.1 2226.7h0M1214.8 2122.6h0M1335.6 2179.1h0M1249.5 2130.2h0M1292.1 2198.4h0M1323.5 2151.9h0M1308.4 2152.5h0M1288.8 2101.2h0M1237.7 2169.6h0M1283.8 2109.3h0M1287.5 2104.3h0" stroke="#582a14" stroke-width="4.6" stroke-linecap="round" fill="none" opacity="0.92"/></g>
<g clip-path="url(#c33)"><rect x="748.30" y="2246.30" width="144.60" height="143.00" fill="#cdd1dd"/><rect x="748.30" y="2246.30" width="144.60" height="143.00" filter="url(#t33)"/><path d="M784.9 2256.5h0M880.9 2260.3h0M876.5 2256.1h0M821.3 2266.9h0M792.2 2294.5h0M755.8 2359.9h0M764.0 2331.9h0M820.8 2331.9h0M752.8 2267.3h0M765.1 2338.3h0M858.2 2250.9h0M810.8 2362.1h0M778.5 2379.3h0M845.3 2277.8h0M869.3 2290.8h0M753.1 2316.6h0M849.4 2284.9h0M843.1 2351.2h0M793.3 2344.5h0M891.8 2359.6h0M760.5 2272.9h0M790.4 2353.2h0M851.5 2350.5h0M886.6 2256.8h0M768.9 2305.3h0M869.2 2387.2h0M869.6 2296.2h0M811.0 2278.8h0" stroke="#7387c6" stroke-width="8.4" stroke-linecap="round" fill="none" opacity="0.55"/><path d="M866.3 2351.1h0" stroke="#582a14" stroke-width="10.0" stroke-linecap="round" fill="none" opacity="0.92"/><rect x="753.3" y="2378.3" width="39" height="7.5" fill="#000"/></g>
<g clip-path="url(#c34)"><rect x="897.90" y="2246.30" width="144.60" height="143.00" fill="#d1bab2"/><rect x="897.90" y="2246.30" width="144.60" height="143.00" filter="url(#t34)"/><path d="M999.1 2286.9h0M1038.9 2249.7h0M959.3 2375.2h0M933.2 2291.0h0M1004.2 2282.9h0M937.3 2259.7h0M1023.1 2287.0h0M1022.0 2338.5h0M1035.3 2264.6h0M907.8 2310.1h0M966.1 2255.5h0M994.4 2308.7h0M939.0 2341.0h0M899.0 2314.7h0M915.4 2268.6h0M990.5 2373.8h0M1000.0 2324.6h0M900.0 2373.6h0M973.4 2345.5h0M969.3 2341.8h0M976.3 2296.0h0M1001.3 2256.8h0M944.3 2359.4h0M908.6 2339.6h0" stroke="#7387c6" stroke-width="8.4" stroke-linecap="round" fill="none" opacity="0.55"/><path d="M933.0 2296.0h0" stroke="#582a14" stroke-width="10.0" stroke-linecap="round" fill="none" opacity="0.92"/></g>
<g clip-path="url(#c35)"><rect x="1047.90" y="2246.30" width="144.60" height="143.00" fill="#cbc0c2"/><rect x="1047.90" y="2246.30" width="144.60" height="143.00" filter="url(#t35)"/><path d="M1095.1 2266.1h0M1082.8 2329.1h0M1179.0 2260.8h0M1148.8 2335.5h0M1085.1 2304.4h0M1104.0 2254.4h0M1179.9 2271.6h0M1074.7 2379.9h0M1183.0 2386.6h0M1122.2 2330.3h0" stroke="#7387c6" stroke-width="8.4" stroke-linecap="round" fill="none" opacity="0.55"/><path d="M1054.2 2261.3h0M1131.1 2361.2h0M1147.9 2291.1h0M1156.4 2377.3h0M1053.1 2271.1h0M1131.5 2330.9h0M1082.4 2335.2h0M1066.7 2281.4h0M1112.4 2299.2h0M1162.8 2388.7h0M1156.1 2356.2h0M1143.7 2386.4h0M1178.4 2354.6h0M1091.3 2291.6h0M1062.2 2259.7h0M1089.5 2260.3h0M1157.4 2358.3h0M1182.0 2385.0h0M1085.0 2376.0h0M1126.1 2332.0h0M1107.6 2368.6h0M1169.4 2338.0h0M1090.9 2252.2h0M1148.6 2360.9h0M1137.0 2306.2h0M1189.8 2305.5h0M1067.5 2314.9h0M1145.3 2302.9h0M1110.2 2311.9h0M1074.0 2260.6h0M1060.1 2369.6h0M1187.3 2306.0h0M1075.2 2265.6h0M1185.9 2321.0h0M1065.5 2312.8h0M1120.3 2297.8h0M1171.4 2291.2h0M1071.7 2296.6h0M1097.9 2319.7h0M1049.3 2330.9h0" stroke="#582a14" stroke-width="10.0" stroke-linecap="round" fill="none" opacity="0.92"/></g>
<g clip-path="url(#c36)"><rect x="1197.50" y="2246.30" width="144.60" height="143.00" fill="#bcaeb0"/><rect x="1197.50" y="2246.30" width="144.60" height="143.00" filter="url(#t36)"/><path d="M1254.8 2272.6h0M1225.0 2362.7h0M1316.9 2378.3h0M1223.3 2283.5h0M1240.9 2319.5h0M1266.8 2343.0h0M1302.8 2311.3h0M1337.8 2311.3h0M1239.9 2349.5h0M1204.9 2254.8h0M1290.5 2306.8h0M1295.7 2366.1h0M1285.4 2340.6h0M1268.5 2300.3h0" stroke="#7387c6" stroke-width="8.4" stroke-linecap="round" fill="none" opacity="0.55"/><path d="M1312.0 2306.8h0M1222.2 2309.0h0M1252.1 2255.6h0M1203.9 2357.8h0M1303.7 2290.5h0M1335.3 2355.0h0M1268.8 2339.3h0M1232.2 2259.7h0M1311.4 2256.1h0M1269.2 2308.2h0M1198.0 2297.2h0M1309.6 2330.4h0M1237.2 2385.8h0M1258.6 2278.9h0M1302.5 2347.4h0M1214.9 2342.9h0" stroke="#582a14" stroke-width="10.0" stroke-linecap="round" fill="none" opacity="0.92"/></g>
</svg>
</body></html>
